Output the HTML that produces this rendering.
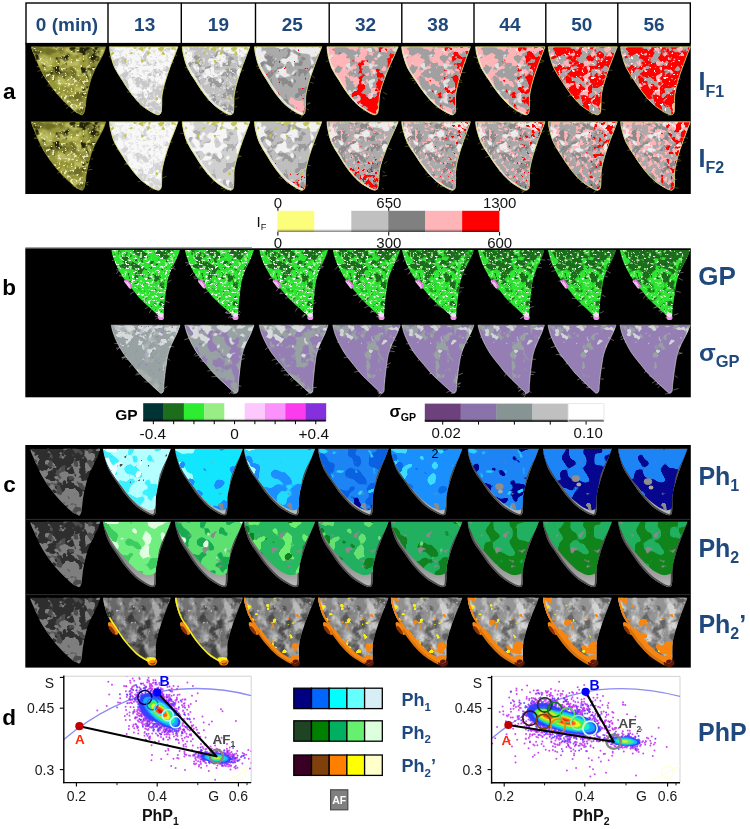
<!DOCTYPE html>
<html lang="en"><head><meta charset="utf-8"><title>Figure</title>
<style>html,body{margin:0;padding:0;background:#fff}svg{display:block}</style></head>
<body>
<svg width="750" height="829" viewBox="0 0 750 829" font-family="'Liberation Sans', Arial, sans-serif">
<defs>
<linearGradient id="sh" x1="0" y1="0" x2="0" y2="1"><stop offset="0" stop-color="#000" stop-opacity="0"/><stop offset="0.86" stop-color="#000" stop-opacity="0"/><stop offset="1" stop-color="#000" stop-opacity="0.5"/></linearGradient>
<path id="s0" d="M0.2 0C0.8 1.5 1 3.1 3.3 8.2C5.5 13.2 8.3 20.9 12.5 28.1C16.8 35.2 21.6 41.7 26.9 48C32.2 54.3 38 59.5 42 62.9C45.9 66.4 47.2 66.2 48.9 67.1C50.6 68 50.6 68.7 51.5 67.9C52.4 67.1 53 66.5 53.8 62.9C54.6 59.3 54.6 54.3 56 48C57.4 41.7 58.7 35.2 61.5 28.1C64.4 20.9 69.3 13.2 71.7 8.2C74.1 3.1 74.2 1.5 74.8 0Z"/><clipPath id="s0c"><use href="#s0"/></clipPath>
<filter id="f1" x="0" y="0" width="1" height="1" color-interpolation-filters="sRGB"><feTurbulence type="fractalNoise" baseFrequency="0.1" numOctaves="2" seed="11"/><feColorMatrix values="0 0 0 0 0 0 0 0 0 0 0 0 0 0 0 1 0 0 0 0" result="n"/><feComposite in="n" in2="SourceAlpha" operator="arithmetic" k1="0" k2="5" k3="0" k4="-2.15" result="m"/><feFlood flood-color="#bcbc5e"/><feComposite operator="in" in2="m"/></filter>
<filter id="f2" x="0" y="0" width="1" height="1" color-interpolation-filters="sRGB"><feTurbulence type="fractalNoise" baseFrequency="0.09" numOctaves="2" seed="5"/><feColorMatrix values="0 0 0 0 0 0 0 0 0 0 0 0 0 0 0 1 0 0 0 0" result="n"/><feComposite in="n" in2="SourceAlpha" operator="arithmetic" k1="0" k2="6" k3="0" k4="-3.16" result="m"/><feFlood flood-color="#6e6e26"/><feComposite operator="in" in2="m"/></filter>
<linearGradient id="g0" x1="0" y1="1" x2="0" y2="0"><stop offset="0.2" stop-color="#fff" stop-opacity="0"/><stop offset="1" stop-color="#fff" stop-opacity="1"/></linearGradient>
<filter id="f3" x="0" y="0" width="1" height="1" color-interpolation-filters="sRGB"><feTurbulence type="fractalNoise" baseFrequency="0.1" numOctaves="3" seed="23"/><feColorMatrix values="0 0 0 0 0 0 0 0 0 0 0 0 0 0 0 1 0 0 0 0" result="n"/><feComposite in="n" in2="SourceAlpha" operator="arithmetic" k1="0" k2="8" k3="1.6" k4="-5.79" result="m"/><feFlood flood-color="#24240a"/><feComposite operator="in" in2="m"/></filter>
<linearGradient id="g1" x1="0" y1="0" x2="0" y2="1"><stop offset="0" stop-color="#fff" stop-opacity="0.2"/><stop offset="0.5" stop-color="#fff" stop-opacity="1"/></linearGradient>
<filter id="f4" x="0" y="0" width="1" height="1" color-interpolation-filters="sRGB"><feTurbulence type="fractalNoise" baseFrequency="0.33" numOctaves="2" seed="37"/><feColorMatrix values="0 0 0 0 0 0 0 0 0 0 0 0 0 0 0 1 0 0 0 0" result="n"/><feComposite in="n" in2="SourceAlpha" operator="arithmetic" k1="0" k2="10" k3="1.5" k4="-7.28" result="m"/><feFlood flood-color="#e6e6b8"/><feComposite operator="in" in2="m"/></filter>
<path id="s1" d="M0 0C0.2 1.4 0.3 4.2 1.3 8C2.2 11.8 3.2 16.4 5.4 21.1C7.6 25.8 10.4 29.5 13.4 34.2C16.4 38.9 18.8 42.9 22.2 47.2C25.5 51.5 28.6 55 32.2 58.3C35.8 61.5 39.5 63.6 42.2 65.3C45 67 45.9 67.1 47.2 67.6C48.5 68.1 48.6 68.2 49.4 67.9C50.2 67.6 51.1 67.4 51.6 65.7C52.2 64 52.1 61.6 52.3 58.3C52.5 54.9 52.1 51.5 52.8 47.2C53.4 42.9 54.6 38.9 56 34.2C57.4 29.5 58.7 25.8 60.4 21.1C62.1 16.4 64 11.8 65.5 8C66.9 4.2 68 1.4 68.6 0Z"/><clipPath id="s1c"><use href="#s1"/></clipPath>
<linearGradient id="g2" x1="0" y1="0" x2="0" y2="1"><stop offset="0.1" stop-color="#fff" stop-opacity="0"/><stop offset="0.8" stop-color="#fff" stop-opacity="1"/></linearGradient>
<filter id="f5" x="0" y="0" width="1" height="1" color-interpolation-filters="sRGB"><feTurbulence type="fractalNoise" baseFrequency="0.1" numOctaves="3" seed="11"/><feColorMatrix values="0 0 0 0 0 0 0 0 0 0 0 0 0 0 0 1 0 0 0 0" result="n"/><feComposite in="n" in2="SourceAlpha" operator="arithmetic" k1="0" k2="18" k3="5.4" k4="-11.75" result="m"/><feFlood flood-color="#c8c8c8"/><feComposite operator="in" in2="m"/></filter>
<filter id="f6" x="0" y="0" width="1" height="1" color-interpolation-filters="sRGB"><feTurbulence type="fractalNoise" baseFrequency="0.3" numOctaves="2" seed="37"/><feColorMatrix values="0 0 0 0 0 0 0 0 0 0 0 0 0 0 0 1 0 0 0 0" result="n"/><feComposite in="n" in2="SourceAlpha" operator="arithmetic" k1="0" k2="10" k3="0" k4="-5.43" result="m"/><feFlood flood-color="#e2e2e2"/><feComposite operator="in" in2="m"/></filter>
<linearGradient id="g3" x1="0" y1="1" x2="0" y2="0"><stop offset="0.55" stop-color="#fff" stop-opacity="0"/><stop offset="1" stop-color="#fff" stop-opacity="1"/></linearGradient>
<filter id="f7" x="0" y="0" width="1" height="1" color-interpolation-filters="sRGB"><feTurbulence type="fractalNoise" baseFrequency="0.16" numOctaves="2" seed="23"/><feColorMatrix values="0 0 0 0 0 0 0 0 0 0 0 0 0 0 0 1 0 0 0 0" result="n"/><feComposite in="n" in2="SourceAlpha" operator="arithmetic" k1="0" k2="12" k3="2.64" k4="-9.43" result="m"/><feFlood flood-color="#c4c45a"/><feComposite operator="in" in2="m"/></filter>
<path id="s2" d="M0 0C0.2 1.4 0.3 4.2 1.3 8C2.2 11.8 3.2 16.4 5.4 21.1C7.6 25.8 10.3 29.5 13.3 34.2C16.3 38.9 18.7 42.9 22 47.2C25.3 51.5 28.3 55 31.9 58.3C35.5 61.5 39.2 63.6 41.8 65.3C44.5 67 45.5 67.1 46.7 67.6C48 68.1 48.1 68.2 48.9 67.9C49.7 67.6 50.6 67.4 51.1 65.7C51.6 64 51.5 61.6 51.7 58.3C51.9 54.9 51.5 51.5 52.1 47.2C52.8 42.9 53.9 38.9 55.3 34.2C56.6 29.5 58 25.8 59.6 21.1C61.3 16.4 63.1 11.8 64.5 8C66 4.2 67 1.4 67.6 0Z"/><clipPath id="s2c"><use href="#s2"/></clipPath>
<path id="s2l" d="M0 0C0.2 1.4 0.3 4.2 1.3 8C2.2 11.8 3.2 16.4 5.4 21.1C7.6 25.8 10.3 29.5 13.3 34.2C16.3 38.9 18.7 42.9 22 47.2C25.3 51.5 28.3 55 31.9 58.3C35.5 61.5 39.2 63.6 41.8 65.3C44.5 67 45.5 67.1 46.7 67.6C48 68.1 48.5 67.8 48.9 67.9"/>
<linearGradient id="g4" x1="0" y1="0" x2="1" y2="1"><stop offset="0" stop-color="#fff" stop-opacity="0"/><stop offset="1" stop-color="#fff" stop-opacity="1"/></linearGradient>
<filter id="f8" x="0" y="0" width="1" height="1" color-interpolation-filters="sRGB"><feTurbulence type="fractalNoise" baseFrequency="0.1" numOctaves="3" seed="11"/><feColorMatrix values="0 0 0 0 0 0 0 0 0 0 0 0 0 0 0 1 0 0 0 0" result="n"/><feComposite in="n" in2="SourceAlpha" operator="arithmetic" k1="0" k2="18" k3="2.16" k4="-10.24" result="m"/><feFlood flood-color="#9a9a9a"/><feComposite operator="in" in2="m"/></filter>
<filter id="f9" x="0" y="0" width="1" height="1" color-interpolation-filters="sRGB"><feTurbulence type="fractalNoise" baseFrequency="0.09" numOctaves="2" seed="23"/><feColorMatrix values="0 0 0 0 0 0 0 0 0 0 0 0 0 0 0 1 0 0 0 0" result="n"/><feComposite in="n" in2="SourceAlpha" operator="arithmetic" k1="0" k2="16" k3="4" k4="-11.12" result="m"/><feFlood flood-color="#f4f4f4"/><feComposite operator="in" in2="m"/></filter>
<filter id="f10" x="0" y="0" width="1" height="1" color-interpolation-filters="sRGB"><feTurbulence type="fractalNoise" baseFrequency="0.3" numOctaves="2" seed="37"/><feColorMatrix values="0 0 0 0 0 0 0 0 0 0 0 0 0 0 0 1 0 0 0 0" result="n"/><feComposite in="n" in2="SourceAlpha" operator="arithmetic" k1="0" k2="10" k3="0" k4="-5.74" result="m"/><feFlood flood-color="#dadada"/><feComposite operator="in" in2="m"/></filter>
<path id="s3" d="M0 0C0.2 1.4 0.3 4.2 1.2 8C2.1 11.8 3.1 16.4 5.2 21.1C7.4 25.8 10.1 29.5 13 34.2C15.9 38.9 18.2 42.9 21.5 47.2C24.8 51.5 27.8 55 31.3 58.3C34.9 61.5 38.5 63.6 41.2 65.3C43.8 67 44.8 67.1 46 67.6C47.3 68.1 47.4 68.2 48.2 67.9C49 67.6 49.9 67.4 50.4 65.7C50.9 64 50.9 61.6 51.1 58.3C51.3 54.9 50.9 51.5 51.6 47.2C52.3 42.9 53.5 38.9 54.8 34.2C56.2 29.5 57.6 25.8 59.3 21.1C61 16.4 62.8 11.8 64.3 8C65.7 4.2 66.8 1.4 67.4 0Z"/><clipPath id="s3c"><use href="#s3"/></clipPath>
<path id="s3l" d="M0 0C0.2 1.4 0.3 4.2 1.2 8C2.1 11.8 3.1 16.4 5.2 21.1C7.4 25.8 10.1 29.5 13 34.2C15.9 38.9 18.2 42.9 21.5 47.2C24.8 51.5 27.8 55 31.3 58.3C34.9 61.5 38.5 63.6 41.2 65.3C43.8 67 44.8 67.1 46 67.6C47.3 68.1 47.8 67.8 48.2 67.9"/>
<filter id="f11" x="0" y="0" width="1" height="1" color-interpolation-filters="sRGB"><feTurbulence type="fractalNoise" baseFrequency="0.1" numOctaves="3" seed="11"/><feColorMatrix values="0 0 0 0 0 0 0 0 0 0 0 0 0 0 0 1 0 0 0 0" result="n"/><feComposite in="n" in2="SourceAlpha" operator="arithmetic" k1="0" k2="18" k3="0" k4="-9.63" result="m"/><feFlood flood-color="#8a8a8a"/><feComposite operator="in" in2="m"/></filter>
<filter id="f12" x="0" y="0" width="1" height="1" color-interpolation-filters="sRGB"><feTurbulence type="fractalNoise" baseFrequency="0.09" numOctaves="2" seed="23"/><feColorMatrix values="0 0 0 0 0 0 0 0 0 0 0 0 0 0 0 1 0 0 0 0" result="n"/><feComposite in="n" in2="SourceAlpha" operator="arithmetic" k1="0" k2="16" k3="4.8" k4="-11.89" result="m"/><feFlood flood-color="#ececec"/><feComposite operator="in" in2="m"/></filter>
<linearGradient id="g5" x1="0" y1="0" x2="0" y2="1"><stop offset="0.55" stop-color="#fff" stop-opacity="0"/><stop offset="1" stop-color="#fff" stop-opacity="1"/></linearGradient>
<filter id="f13" x="0" y="0" width="1" height="1" color-interpolation-filters="sRGB"><feTurbulence type="fractalNoise" baseFrequency="0.1" numOctaves="2" seed="37"/><feColorMatrix values="0 0 0 0 0 0 0 0 0 0 0 0 0 0 0 1 0 0 0 0" result="n"/><feComposite in="n" in2="SourceAlpha" operator="arithmetic" k1="0" k2="16" k3="9.6" k4="-14.46" result="m"/><feFlood flood-color="#ffb4b8"/><feComposite operator="in" in2="m"/></filter>
<filter id="f14" x="0" y="0" width="1" height="1" color-interpolation-filters="sRGB"><feTurbulence type="fractalNoise" baseFrequency="0.3" numOctaves="2" seed="8"/><feColorMatrix values="0 0 0 0 0 0 0 0 0 0 0 0 0 0 0 1 0 0 0 0" result="n"/><feComposite in="n" in2="SourceAlpha" operator="arithmetic" k1="0" k2="16" k3="0" k4="-11.83" result="m"/><feFlood flood-color="#ff0000"/><feComposite operator="in" in2="m"/></filter>
<path id="s4" d="M0 0C0.2 1.4 0.1 4.2 1 8C1.8 11.8 2.7 16.4 4.7 21.1C6.8 25.8 9.5 29.5 12.5 34.2C15.4 38.9 17.7 42.9 21 47.2C24.3 51.5 27.3 55 30.9 58.3C34.5 61.5 38.3 63.6 41.1 65.3C43.8 67 44.8 67.1 46.1 67.6C47.5 68.1 47.6 68.2 48.4 67.9C49.2 67.6 50.2 67.4 50.8 65.7C51.4 64 51.4 61.6 51.8 58.3C52.1 54.9 51.9 51.5 52.8 47.2C53.6 42.9 55 38.9 56.7 34.2C58.3 29.5 59.9 25.8 61.8 21.1C63.8 16.4 65.9 11.8 67.6 8C69.3 4.2 70.6 1.4 71.2 0Z"/><clipPath id="s4c"><use href="#s4"/></clipPath>
<path id="s4l" d="M0 0C0.2 1.4 0.1 4.2 1 8C1.8 11.8 2.7 16.4 4.7 21.1C6.8 25.8 9.5 29.5 12.5 34.2C15.4 38.9 17.7 42.9 21 47.2C24.3 51.5 27.3 55 30.9 58.3C34.5 61.5 38.3 63.6 41.1 65.3C43.8 67 44.8 67.1 46.1 67.6C47.5 68.1 48 67.8 48.4 67.9"/>
<linearGradient id="g6" x1="1" y1="0" x2="0" y2="0"><stop offset="0" stop-color="#fff" stop-opacity="0"/><stop offset="1" stop-color="#fff" stop-opacity="1"/></linearGradient>
<filter id="f15" x="0" y="0" width="1" height="1" color-interpolation-filters="sRGB"><feTurbulence type="fractalNoise" baseFrequency="0.1" numOctaves="3" seed="11"/><feColorMatrix values="0 0 0 0 0 0 0 0 0 0 0 0 0 0 0 1 0 0 0 0" result="n"/><feComposite in="n" in2="SourceAlpha" operator="arithmetic" k1="0" k2="18" k3="4.5" k4="-11.52" result="m"/><feFlood flood-color="#ffb4b8"/><feComposite operator="in" in2="m"/></filter>
<filter id="f16" x="0" y="0" width="1" height="1" color-interpolation-filters="sRGB"><feTurbulence type="fractalNoise" baseFrequency="0.12" numOctaves="2" seed="23"/><feColorMatrix values="0 0 0 0 0 0 0 0 0 0 0 0 0 0 0 1 0 0 0 0" result="n"/><feComposite in="n" in2="SourceAlpha" operator="arithmetic" k1="0" k2="14" k3="0" k4="-8.86" result="m"/><feFlood flood-color="#e0e0e0"/><feComposite operator="in" in2="m"/></filter>
<linearGradient id="g7" x1="0" y1="0" x2="1" y2="1"><stop offset="0.2" stop-color="#fff" stop-opacity="0"/><stop offset="0.9" stop-color="#fff" stop-opacity="1"/></linearGradient>
<filter id="f17" x="0" y="0" width="1" height="1" color-interpolation-filters="sRGB"><feTurbulence type="fractalNoise" baseFrequency="0.1" numOctaves="3" seed="37"/><feColorMatrix values="0 0 0 0 0 0 0 0 0 0 0 0 0 0 0 1 0 0 0 0" result="n"/><feComposite in="n" in2="SourceAlpha" operator="arithmetic" k1="0" k2="18" k3="9" k4="-14.32" result="m"/><feFlood flood-color="#ff0000"/><feComposite operator="in" in2="m"/></filter>
<path id="s5" d="M0 0C0.3 1.4 0.4 4.2 1.5 8C2.6 11.8 3.7 16.4 6 21.1C8.3 25.8 11.2 29.5 14.4 34.2C17.5 38.9 20 42.9 23.5 47.2C27 51.5 30.1 55 33.9 58.3C37.6 61.5 41.4 63.6 44.2 65.3C46.9 67 47.9 67.1 49.2 67.6C50.5 68.1 50.6 68.2 51.4 67.9C52.2 67.6 53.1 67.4 53.6 65.7C54.1 64 53.9 61.6 54 58.3C54.1 54.9 53.7 51.5 54.2 47.2C54.8 42.9 55.8 38.9 57.1 34.2C58.3 29.5 59.6 25.8 61.2 21.1C62.8 16.4 64.5 11.8 65.9 8C67.2 4.2 68.3 1.4 68.8 0Z"/><clipPath id="s5c"><use href="#s5"/></clipPath>
<path id="s5l" d="M0 0C0.3 1.4 0.4 4.2 1.5 8C2.6 11.8 3.7 16.4 6 21.1C8.3 25.8 11.2 29.5 14.4 34.2C17.5 38.9 20 42.9 23.5 47.2C27 51.5 30.1 55 33.9 58.3C37.6 61.5 41.4 63.6 44.2 65.3C46.9 67 47.9 67.1 49.2 67.6C50.5 68.1 51 67.8 51.4 67.9"/>
<linearGradient id="g8" x1="1" y1="1" x2="0" y2="0"><stop offset="0" stop-color="#fff" stop-opacity="0"/><stop offset="1" stop-color="#fff" stop-opacity="1"/></linearGradient>
<filter id="f18" x="0" y="0" width="1" height="1" color-interpolation-filters="sRGB"><feTurbulence type="fractalNoise" baseFrequency="0.1" numOctaves="3" seed="11"/><feColorMatrix values="0 0 0 0 0 0 0 0 0 0 0 0 0 0 0 1 0 0 0 0" result="n"/><feComposite in="n" in2="SourceAlpha" operator="arithmetic" k1="0" k2="18" k3="3.6" k4="-11.56" result="m"/><feFlood flood-color="#ffb4b8"/><feComposite operator="in" in2="m"/></filter>
<linearGradient id="g9" x1="0" y1="0" x2="1" y2="0"><stop offset="0.3" stop-color="#fff" stop-opacity="0"/><stop offset="1" stop-color="#fff" stop-opacity="1"/></linearGradient>
<filter id="f19" x="0" y="0" width="1" height="1" color-interpolation-filters="sRGB"><feTurbulence type="fractalNoise" baseFrequency="0.12" numOctaves="3" seed="37"/><feColorMatrix values="0 0 0 0 0 0 0 0 0 0 0 0 0 0 0 1 0 0 0 0" result="n"/><feComposite in="n" in2="SourceAlpha" operator="arithmetic" k1="0" k2="18" k3="8.1" k4="-15.32" result="m"/><feFlood flood-color="#ff0000"/><feComposite operator="in" in2="m"/></filter>
<path id="s6" d="M0 0C0.3 1.4 0.4 4.2 1.4 8C2.5 11.8 3.6 16.4 5.9 21.1C8.1 25.8 11 29.5 14.2 34.2C17.3 38.9 19.8 42.9 23.3 47.2C26.8 51.5 29.9 55 33.6 58.3C37.3 61.5 41.1 63.6 43.9 65.3C46.7 67 47.7 67.1 49 67.6C50.3 68.1 50.4 68.2 51.2 67.9C52 67.6 52.9 67.4 53.4 65.7C53.9 64 53.8 61.6 53.9 58.3C54.1 54.9 53.7 51.5 54.3 47.2C54.9 42.9 56 38.9 57.3 34.2C58.6 29.5 59.9 25.8 61.6 21.1C63.2 16.4 65 11.8 66.5 8C67.9 4.2 69 1.4 69.5 0Z"/><clipPath id="s6c"><use href="#s6"/></clipPath>
<path id="s6l" d="M0 0C0.3 1.4 0.4 4.2 1.4 8C2.5 11.8 3.6 16.4 5.9 21.1C8.1 25.8 11 29.5 14.2 34.2C17.3 38.9 19.8 42.9 23.3 47.2C26.8 51.5 29.9 55 33.6 58.3C37.3 61.5 41.1 63.6 43.9 65.3C46.7 67 47.7 67.1 49 67.6C50.3 68.1 50.8 67.8 51.2 67.9"/>
<filter id="f20" x="0" y="0" width="1" height="1" color-interpolation-filters="sRGB"><feTurbulence type="fractalNoise" baseFrequency="0.1" numOctaves="3" seed="11"/><feColorMatrix values="0 0 0 0 0 0 0 0 0 0 0 0 0 0 0 1 0 0 0 0" result="n"/><feComposite in="n" in2="SourceAlpha" operator="arithmetic" k1="0" k2="18" k3="3.6" k4="-11.43" result="m"/><feFlood flood-color="#ffb4b8"/><feComposite operator="in" in2="m"/></filter>
<filter id="f21" x="0" y="0" width="1" height="1" color-interpolation-filters="sRGB"><feTurbulence type="fractalNoise" baseFrequency="0.12" numOctaves="2" seed="23"/><feColorMatrix values="0 0 0 0 0 0 0 0 0 0 0 0 0 0 0 1 0 0 0 0" result="n"/><feComposite in="n" in2="SourceAlpha" operator="arithmetic" k1="0" k2="14" k3="0" k4="-8.98" result="m"/><feFlood flood-color="#e0e0e0"/><feComposite operator="in" in2="m"/></filter>
<filter id="f22" x="0" y="0" width="1" height="1" color-interpolation-filters="sRGB"><feTurbulence type="fractalNoise" baseFrequency="0.12" numOctaves="3" seed="37"/><feColorMatrix values="0 0 0 0 0 0 0 0 0 0 0 0 0 0 0 1 0 0 0 0" result="n"/><feComposite in="n" in2="SourceAlpha" operator="arithmetic" k1="0" k2="18" k3="9" k4="-15.06" result="m"/><feFlood flood-color="#ff0000"/><feComposite operator="in" in2="m"/></filter>
<path id="s7" d="M0 0C0.2 1.4 0.3 4.2 1.3 8C2.3 11.8 3.3 16.4 5.5 21.1C7.7 25.8 10.5 29.5 13.5 34.2C16.6 38.9 19 42.9 22.4 47.2C25.8 51.5 28.8 55 32.5 58.3C36.1 61.5 39.9 63.6 42.6 65.3C45.3 67 46.3 67.1 47.6 67.6C48.9 68.1 49 68.2 49.8 67.9C50.6 67.6 51.5 67.4 52 65.7C52.6 64 52.5 61.6 52.7 58.3C52.9 54.9 52.5 51.5 53.2 47.2C53.8 42.9 55 38.9 56.4 34.2C57.8 29.5 59.1 25.8 60.8 21.1C62.5 16.4 64.4 11.8 65.9 8C67.3 4.2 68.4 1.4 69 0Z"/><clipPath id="s7c"><use href="#s7"/></clipPath>
<filter id="f23" x="0" y="0" width="1" height="1" color-interpolation-filters="sRGB"><feTurbulence type="fractalNoise" baseFrequency="0.1" numOctaves="3" seed="11"/><feColorMatrix values="0 0 0 0 0 0 0 0 0 0 0 0 0 0 0 1 0 0 0 0" result="n"/><feComposite in="n" in2="SourceAlpha" operator="arithmetic" k1="0" k2="18" k3="0" k4="-9.27" result="m"/><feFlood flood-color="#a6a6a6"/><feComposite operator="in" in2="m"/></filter>
<filter id="f24" x="0" y="0" width="1" height="1" color-interpolation-filters="sRGB"><feTurbulence type="fractalNoise" baseFrequency="0.14" numOctaves="2" seed="23"/><feColorMatrix values="0 0 0 0 0 0 0 0 0 0 0 0 0 0 0 1 0 0 0 0" result="n"/><feComposite in="n" in2="SourceAlpha" operator="arithmetic" k1="0" k2="14" k3="0" k4="-8.17" result="m"/><feFlood flood-color="#ffb4b8"/><feComposite operator="in" in2="m"/></filter>
<filter id="f25" x="0" y="0" width="1" height="1" color-interpolation-filters="sRGB"><feTurbulence type="fractalNoise" baseFrequency="0.3" numOctaves="2" seed="9"/><feColorMatrix values="0 0 0 0 0 0 0 0 0 0 0 0 0 0 0 1 0 0 0 0" result="n"/><feComposite in="n" in2="SourceAlpha" operator="arithmetic" k1="0" k2="14" k3="0" k4="-9.44" result="m"/><feFlood flood-color="#ffffff"/><feComposite operator="in" in2="m"/></filter>
<path id="s8" d="M0 0C0.3 1.4 0.3 4.2 1.4 8C2.4 11.8 3.5 16.4 5.8 21.1C8.1 25.8 11 29.5 14.1 34.2C17.2 38.9 19.7 42.9 23.2 47.2C26.7 51.5 29.8 55 33.6 58.3C37.3 61.5 41.1 63.6 43.9 65.3C46.7 67 47.7 67.1 49 67.6C50.3 68.1 50.4 68.2 51.2 67.9C52 67.6 52.9 67.4 53.4 65.7C53.9 64 53.8 61.6 54 58.3C54.1 54.9 53.7 51.5 54.3 47.2C54.9 42.9 56.1 38.9 57.4 34.2C58.7 29.5 60 25.8 61.7 21.1C63.4 16.4 65.2 11.8 66.6 8C68.1 4.2 69.1 1.4 69.7 0Z"/><clipPath id="s8c"><use href="#s8"/></clipPath>
<linearGradient id="g10" x1="1" y1="0" x2="0" y2="0"><stop offset="0.1" stop-color="#fff" stop-opacity="0"/><stop offset="0.9" stop-color="#fff" stop-opacity="1"/></linearGradient>
<filter id="f26" x="0" y="0" width="1" height="1" color-interpolation-filters="sRGB"><feTurbulence type="fractalNoise" baseFrequency="0.1" numOctaves="3" seed="11"/><feColorMatrix values="0 0 0 0 0 0 0 0 0 0 0 0 0 0 0 1 0 0 0 0" result="n"/><feComposite in="n" in2="SourceAlpha" operator="arithmetic" k1="0" k2="18" k3="2.16" k4="-10.71" result="m"/><feFlood flood-color="#a6a6a6"/><feComposite operator="in" in2="m"/></filter>
<filter id="f27" x="0" y="0" width="1" height="1" color-interpolation-filters="sRGB"><feTurbulence type="fractalNoise" baseFrequency="0.14" numOctaves="2" seed="23"/><feColorMatrix values="0 0 0 0 0 0 0 0 0 0 0 0 0 0 0 1 0 0 0 0" result="n"/><feComposite in="n" in2="SourceAlpha" operator="arithmetic" k1="0" k2="14" k3="0" k4="-8.65" result="m"/><feFlood flood-color="#ffb4b8"/><feComposite operator="in" in2="m"/></filter>
<path id="s9" d="M0.2 0C0.8 1.5 1 3.1 3.3 8.2C5.5 13.3 8.3 21 12.5 28.2C16.8 35.5 21.6 42 26.9 48.3C32.2 54.6 38 59.8 42 63.3C45.9 66.8 47.2 66.6 48.9 67.5C50.6 68.4 50.6 69.1 51.5 68.3C52.4 67.5 53 66.9 53.8 63.3C54.6 59.7 54.6 54.6 56 48.3C57.4 42 58.7 35.5 61.5 28.2C64.4 21 69.3 13.3 71.7 8.2C74.1 3.1 74.2 1.5 74.8 0Z"/><clipPath id="s9c"><use href="#s9"/></clipPath>
<path id="s10" d="M0 0C0.2 1.5 0.3 4.3 1.3 8.1C2.2 11.9 3.2 16.5 5.4 21.2C7.6 25.9 10.4 29.6 13.4 34.4C16.4 39.1 18.8 43.1 22.2 47.5C25.5 51.9 28.6 55.3 32.2 58.6C35.8 61.9 39.5 64 42.2 65.7C45 67.4 45.9 67.5 47.2 68C48.5 68.5 48.6 68.6 49.4 68.3C50.2 68 51.1 67.8 51.6 66.1C52.2 64.3 52.1 61.9 52.3 58.6C52.5 55.3 52.1 51.9 52.8 47.5C53.4 43.1 54.6 39.1 56 34.4C57.4 29.6 58.7 25.9 60.4 21.2C62.1 16.5 64 11.9 65.5 8.1C66.9 4.3 68 1.5 68.6 0Z"/><clipPath id="s10c"><use href="#s10"/></clipPath>
<filter id="f28" x="0" y="0" width="1" height="1" color-interpolation-filters="sRGB"><feTurbulence type="fractalNoise" baseFrequency="0.1" numOctaves="3" seed="11"/><feColorMatrix values="0 0 0 0 0 0 0 0 0 0 0 0 0 0 0 1 0 0 0 0" result="n"/><feComposite in="n" in2="SourceAlpha" operator="arithmetic" k1="0" k2="16" k3="4" k4="-10.62" result="m"/><feFlood flood-color="#d4d4d4"/><feComposite operator="in" in2="m"/></filter>
<filter id="f29" x="0" y="0" width="1" height="1" color-interpolation-filters="sRGB"><feTurbulence type="fractalNoise" baseFrequency="0.3" numOctaves="2" seed="37"/><feColorMatrix values="0 0 0 0 0 0 0 0 0 0 0 0 0 0 0 1 0 0 0 0" result="n"/><feComposite in="n" in2="SourceAlpha" operator="arithmetic" k1="0" k2="10" k3="0" k4="-5.43" result="m"/><feFlood flood-color="#e8e8e8"/><feComposite operator="in" in2="m"/></filter>
<path id="s11" d="M0 0C0.2 1.5 0.3 4.3 1.3 8.1C2.2 11.9 3.2 16.5 5.4 21.2C7.6 25.9 10.3 29.6 13.3 34.4C16.3 39.1 18.7 43.1 22 47.5C25.3 51.9 28.3 55.3 31.9 58.6C35.5 61.9 39.2 64 41.8 65.7C44.5 67.4 45.5 67.5 46.7 68C48 68.5 48.1 68.6 48.9 68.3C49.7 68 50.6 67.8 51.1 66.1C51.6 64.3 51.5 61.9 51.7 58.6C51.9 55.3 51.5 51.9 52.1 47.5C52.8 43.1 53.9 39.1 55.3 34.4C56.6 29.6 58 25.9 59.6 21.2C61.3 16.5 63.1 11.9 64.5 8.1C66 4.3 67 1.5 67.6 0Z"/><clipPath id="s11c"><use href="#s11"/></clipPath>
<path id="s11l" d="M0 0C0.2 1.5 0.3 4.3 1.3 8.1C2.2 11.9 3.2 16.5 5.4 21.2C7.6 25.9 10.3 29.6 13.3 34.4C16.3 39.1 18.7 43.1 22 47.5C25.3 51.9 28.3 55.3 31.9 58.6C35.5 61.9 39.2 64 41.8 65.7C44.5 67.4 45.5 67.5 46.7 68C48 68.5 48.5 68.2 48.9 68.3"/>
<filter id="f30" x="0" y="0" width="1" height="1" color-interpolation-filters="sRGB"><feTurbulence type="fractalNoise" baseFrequency="0.1" numOctaves="3" seed="11"/><feColorMatrix values="0 0 0 0 0 0 0 0 0 0 0 0 0 0 0 1 0 0 0 0" result="n"/><feComposite in="n" in2="SourceAlpha" operator="arithmetic" k1="0" k2="16" k3="0" k4="-8.51" result="m"/><feFlood flood-color="#aeaeae"/><feComposite operator="in" in2="m"/></filter>
<filter id="f31" x="0" y="0" width="1" height="1" color-interpolation-filters="sRGB"><feTurbulence type="fractalNoise" baseFrequency="0.09" numOctaves="2" seed="23"/><feColorMatrix values="0 0 0 0 0 0 0 0 0 0 0 0 0 0 0 1 0 0 0 0" result="n"/><feComposite in="n" in2="SourceAlpha" operator="arithmetic" k1="0" k2="16" k3="3.52" k4="-10.16" result="m"/><feFlood flood-color="#f6f6f6"/><feComposite operator="in" in2="m"/></filter>
<path id="s12" d="M0 0C0.2 1.5 0.3 4.3 1.2 8.1C2.1 11.9 3.1 16.5 5.2 21.2C7.4 25.9 10.1 29.6 13 34.4C15.9 39.1 18.2 43.1 21.5 47.5C24.8 51.9 27.8 55.3 31.3 58.6C34.9 61.9 38.5 64 41.2 65.7C43.8 67.4 44.8 67.5 46 68C47.3 68.5 47.4 68.6 48.2 68.3C49 68 49.9 67.8 50.4 66.1C50.9 64.3 50.9 61.9 51.1 58.6C51.3 55.3 50.9 51.9 51.6 47.5C52.3 43.1 53.5 39.1 54.8 34.4C56.2 29.6 57.6 25.9 59.3 21.2C61 16.5 62.8 11.9 64.3 8.1C65.7 4.3 66.8 1.5 67.4 0Z"/><clipPath id="s12c"><use href="#s12"/></clipPath>
<path id="s12l" d="M0 0C0.2 1.5 0.3 4.3 1.2 8.1C2.1 11.9 3.1 16.5 5.2 21.2C7.4 25.9 10.1 29.6 13 34.4C15.9 39.1 18.2 43.1 21.5 47.5C24.8 51.9 27.8 55.3 31.3 58.6C34.9 61.9 38.5 64 41.2 65.7C43.8 67.4 44.8 67.5 46 68C47.3 68.5 47.8 68.2 48.2 68.3"/>
<filter id="f32" x="0" y="0" width="1" height="1" color-interpolation-filters="sRGB"><feTurbulence type="fractalNoise" baseFrequency="0.1" numOctaves="3" seed="11"/><feColorMatrix values="0 0 0 0 0 0 0 0 0 0 0 0 0 0 0 1 0 0 0 0" result="n"/><feComposite in="n" in2="SourceAlpha" operator="arithmetic" k1="0" k2="16" k3="0" k4="-8.4" result="m"/><feFlood flood-color="#9a9a9a"/><feComposite operator="in" in2="m"/></filter>
<filter id="f33" x="0" y="0" width="1" height="1" color-interpolation-filters="sRGB"><feTurbulence type="fractalNoise" baseFrequency="0.09" numOctaves="2" seed="23"/><feColorMatrix values="0 0 0 0 0 0 0 0 0 0 0 0 0 0 0 1 0 0 0 0" result="n"/><feComposite in="n" in2="SourceAlpha" operator="arithmetic" k1="0" k2="16" k3="3.52" k4="-10.88" result="m"/><feFlood flood-color="#f2f2f2"/><feComposite operator="in" in2="m"/></filter>
<linearGradient id="g11" x1="0" y1="0" x2="0" y2="1"><stop offset="0.5" stop-color="#fff" stop-opacity="0"/><stop offset="1" stop-color="#fff" stop-opacity="1"/></linearGradient>
<filter id="f34" x="0" y="0" width="1" height="1" color-interpolation-filters="sRGB"><feTurbulence type="fractalNoise" baseFrequency="0.35" numOctaves="2" seed="8"/><feColorMatrix values="0 0 0 0 0 0 0 0 0 0 0 0 0 0 0 1 0 0 0 0" result="n"/><feComposite in="n" in2="SourceAlpha" operator="arithmetic" k1="0" k2="16" k3="6.4" k4="-14.31" result="m"/><feFlood flood-color="#ff0000"/><feComposite operator="in" in2="m"/></filter>
<path id="s13" d="M0 0C0.2 1.5 0.1 4.3 1 8.1C1.8 11.9 2.7 16.5 4.7 21.2C6.8 25.9 9.5 29.6 12.5 34.4C15.4 39.1 17.7 43.1 21 47.5C24.3 51.9 27.3 55.3 30.9 58.6C34.5 61.9 38.3 64 41.1 65.7C43.8 67.4 44.8 67.5 46.1 68C47.5 68.5 47.6 68.6 48.4 68.3C49.2 68 50.2 67.8 50.8 66.1C51.4 64.3 51.4 61.9 51.8 58.6C52.1 55.3 51.9 51.9 52.8 47.5C53.6 43.1 55 39.1 56.7 34.4C58.3 29.6 59.9 25.9 61.8 21.2C63.8 16.5 65.9 11.9 67.6 8.1C69.3 4.3 70.6 1.5 71.2 0Z"/><clipPath id="s13c"><use href="#s13"/></clipPath>
<path id="s13l" d="M0 0C0.2 1.5 0.1 4.3 1 8.1C1.8 11.9 2.7 16.5 4.7 21.2C6.8 25.9 9.5 29.6 12.5 34.4C15.4 39.1 17.7 43.1 21 47.5C24.3 51.9 27.3 55.3 30.9 58.6C34.5 61.9 38.3 64 41.1 65.7C43.8 67.4 44.8 67.5 46.1 68C47.5 68.5 48 68.2 48.4 68.3"/>
<filter id="f35" x="0" y="0" width="1" height="1" color-interpolation-filters="sRGB"><feTurbulence type="fractalNoise" baseFrequency="0.1" numOctaves="3" seed="11"/><feColorMatrix values="0 0 0 0 0 0 0 0 0 0 0 0 0 0 0 1 0 0 0 0" result="n"/><feComposite in="n" in2="SourceAlpha" operator="arithmetic" k1="0" k2="16" k3="0" k4="-8.4" result="m"/><feFlood flood-color="#8a8a8a"/><feComposite operator="in" in2="m"/></filter>
<filter id="f36" x="0" y="0" width="1" height="1" color-interpolation-filters="sRGB"><feTurbulence type="fractalNoise" baseFrequency="0.09" numOctaves="2" seed="23"/><feColorMatrix values="0 0 0 0 0 0 0 0 0 0 0 0 0 0 0 1 0 0 0 0" result="n"/><feComposite in="n" in2="SourceAlpha" operator="arithmetic" k1="0" k2="16" k3="3.2" k4="-11.17" result="m"/><feFlood flood-color="#ececec"/><feComposite operator="in" in2="m"/></filter>
<filter id="f37" x="0" y="0" width="1" height="1" color-interpolation-filters="sRGB"><feTurbulence type="fractalNoise" baseFrequency="0.3" numOctaves="2" seed="6"/><feColorMatrix values="0 0 0 0 0 0 0 0 0 0 0 0 0 0 0 1 0 0 0 0" result="n"/><feComposite in="n" in2="SourceAlpha" operator="arithmetic" k1="0" k2="12" k3="0" k4="-7.35" result="m"/><feFlood flood-color="#ffb4b8"/><feComposite operator="in" in2="m"/></filter>
<linearGradient id="g12" x1="0" y1="0" x2="0" y2="1"><stop offset="0.3" stop-color="#fff" stop-opacity="0"/><stop offset="1" stop-color="#fff" stop-opacity="1"/></linearGradient>
<filter id="f38" x="0" y="0" width="1" height="1" color-interpolation-filters="sRGB"><feTurbulence type="fractalNoise" baseFrequency="0.3" numOctaves="2" seed="37"/><feColorMatrix values="0 0 0 0 0 0 0 0 0 0 0 0 0 0 0 1 0 0 0 0" result="n"/><feComposite in="n" in2="SourceAlpha" operator="arithmetic" k1="0" k2="16" k3="8" k4="-13.96" result="m"/><feFlood flood-color="#ff0000"/><feComposite operator="in" in2="m"/></filter>
<path id="s14" d="M0 0C0.3 1.5 0.4 4.3 1.5 8.1C2.6 11.9 3.7 16.5 6 21.2C8.3 25.9 11.2 29.6 14.4 34.4C17.5 39.1 20 43.1 23.5 47.5C27 51.9 30.1 55.3 33.9 58.6C37.6 61.9 41.4 64 44.2 65.7C46.9 67.4 47.9 67.5 49.2 68C50.5 68.5 50.6 68.6 51.4 68.3C52.2 68 53.1 67.8 53.6 66.1C54.1 64.3 53.9 61.9 54 58.6C54.1 55.3 53.7 51.9 54.2 47.5C54.8 43.1 55.8 39.1 57.1 34.4C58.3 29.6 59.6 25.9 61.2 21.2C62.8 16.5 64.5 11.9 65.9 8.1C67.2 4.3 68.3 1.5 68.8 0Z"/><clipPath id="s14c"><use href="#s14"/></clipPath>
<path id="s14l" d="M0 0C0.3 1.5 0.4 4.3 1.5 8.1C2.6 11.9 3.7 16.5 6 21.2C8.3 25.9 11.2 29.6 14.4 34.4C17.5 39.1 20 43.1 23.5 47.5C27 51.9 30.1 55.3 33.9 58.6C37.6 61.9 41.4 64 44.2 65.7C46.9 67.4 47.9 67.5 49.2 68C50.5 68.5 51 68.2 51.4 68.3"/>
<filter id="f39" x="0" y="0" width="1" height="1" color-interpolation-filters="sRGB"><feTurbulence type="fractalNoise" baseFrequency="0.3" numOctaves="2" seed="6"/><feColorMatrix values="0 0 0 0 0 0 0 0 0 0 0 0 0 0 0 1 0 0 0 0" result="n"/><feComposite in="n" in2="SourceAlpha" operator="arithmetic" k1="0" k2="12" k3="0" k4="-6.99" result="m"/><feFlood flood-color="#ffb4b8"/><feComposite operator="in" in2="m"/></filter>
<filter id="f40" x="0" y="0" width="1" height="1" color-interpolation-filters="sRGB"><feTurbulence type="fractalNoise" baseFrequency="0.3" numOctaves="2" seed="37"/><feColorMatrix values="0 0 0 0 0 0 0 0 0 0 0 0 0 0 0 1 0 0 0 0" result="n"/><feComposite in="n" in2="SourceAlpha" operator="arithmetic" k1="0" k2="16" k3="6.4" k4="-14.73" result="m"/><feFlood flood-color="#ff0000"/><feComposite operator="in" in2="m"/></filter>
<path id="s15" d="M0 0C0.3 1.5 0.4 4.3 1.4 8.1C2.5 11.9 3.6 16.5 5.9 21.2C8.1 25.9 11 29.6 14.2 34.4C17.3 39.1 19.8 43.1 23.3 47.5C26.8 51.9 29.9 55.3 33.6 58.6C37.3 61.9 41.1 64 43.9 65.7C46.7 67.4 47.7 67.5 49 68C50.3 68.5 50.4 68.6 51.2 68.3C52 68 52.9 67.8 53.4 66.1C53.9 64.3 53.8 61.9 53.9 58.6C54.1 55.3 53.7 51.9 54.3 47.5C54.9 43.1 56 39.1 57.3 34.4C58.6 29.6 59.9 25.9 61.6 21.2C63.2 16.5 65 11.9 66.5 8.1C67.9 4.3 69 1.5 69.5 0Z"/><clipPath id="s15c"><use href="#s15"/></clipPath>
<path id="s15l" d="M0 0C0.3 1.5 0.4 4.3 1.4 8.1C2.5 11.9 3.6 16.5 5.9 21.2C8.1 25.9 11 29.6 14.2 34.4C17.3 39.1 19.8 43.1 23.3 47.5C26.8 51.9 29.9 55.3 33.6 58.6C37.3 61.9 41.1 64 43.9 65.7C46.7 67.4 47.7 67.5 49 68C50.3 68.5 50.8 68.2 51.2 68.3"/>
<filter id="f41" x="0" y="0" width="1" height="1" color-interpolation-filters="sRGB"><feTurbulence type="fractalNoise" baseFrequency="0.3" numOctaves="2" seed="6"/><feColorMatrix values="0 0 0 0 0 0 0 0 0 0 0 0 0 0 0 1 0 0 0 0" result="n"/><feComposite in="n" in2="SourceAlpha" operator="arithmetic" k1="0" k2="12" k3="0" k4="-6.87" result="m"/><feFlood flood-color="#ffb4b8"/><feComposite operator="in" in2="m"/></filter>
<filter id="f42" x="0" y="0" width="1" height="1" color-interpolation-filters="sRGB"><feTurbulence type="fractalNoise" baseFrequency="0.3" numOctaves="2" seed="37"/><feColorMatrix values="0 0 0 0 0 0 0 0 0 0 0 0 0 0 0 1 0 0 0 0" result="n"/><feComposite in="n" in2="SourceAlpha" operator="arithmetic" k1="0" k2="16" k3="7.2" k4="-14.71" result="m"/><feFlood flood-color="#ff0000"/><feComposite operator="in" in2="m"/></filter>
<path id="s16" d="M0 0C0.2 1.5 0.3 4.3 1.3 8.1C2.3 11.9 3.3 16.5 5.5 21.2C7.7 25.9 10.5 29.6 13.5 34.4C16.6 39.1 19 43.1 22.4 47.5C25.8 51.9 28.8 55.3 32.5 58.6C36.1 61.9 39.9 64 42.6 65.7C45.3 67.4 46.3 67.5 47.6 68C48.9 68.5 49 68.6 49.8 68.3C50.6 68 51.5 67.8 52 66.1C52.6 64.3 52.5 61.9 52.7 58.6C52.9 55.3 52.5 51.9 53.2 47.5C53.8 43.1 55 39.1 56.4 34.4C57.8 29.6 59.1 25.9 60.8 21.2C62.5 16.5 64.4 11.9 65.9 8.1C67.3 4.3 68.4 1.5 69 0Z"/><clipPath id="s16c"><use href="#s16"/></clipPath>
<filter id="f43" x="0" y="0" width="1" height="1" color-interpolation-filters="sRGB"><feTurbulence type="fractalNoise" baseFrequency="0.25" numOctaves="2" seed="6"/><feColorMatrix values="0 0 0 0 0 0 0 0 0 0 0 0 0 0 0 1 0 0 0 0" result="n"/><feComposite in="n" in2="SourceAlpha" operator="arithmetic" k1="0" k2="12" k3="0" k4="-6.61" result="m"/><feFlood flood-color="#ffb4b8"/><feComposite operator="in" in2="m"/></filter>
<filter id="f44" x="0" y="0" width="1" height="1" color-interpolation-filters="sRGB"><feTurbulence type="fractalNoise" baseFrequency="0.22" numOctaves="2" seed="37"/><feColorMatrix values="0 0 0 0 0 0 0 0 0 0 0 0 0 0 0 1 0 0 0 0" result="n"/><feComposite in="n" in2="SourceAlpha" operator="arithmetic" k1="0" k2="16" k3="7.2" k4="-13.93" result="m"/><feFlood flood-color="#ff0000"/><feComposite operator="in" in2="m"/></filter>
<path id="s17" d="M0 0C0.3 1.5 0.3 4.3 1.4 8.1C2.4 11.9 3.5 16.5 5.8 21.2C8.1 25.9 11 29.6 14.1 34.4C17.2 39.1 19.7 43.1 23.2 47.5C26.7 51.9 29.8 55.3 33.6 58.6C37.3 61.9 41.1 64 43.9 65.7C46.7 67.4 47.7 67.5 49 68C50.3 68.5 50.4 68.6 51.2 68.3C52 68 52.9 67.8 53.4 66.1C53.9 64.3 53.8 61.9 54 58.6C54.1 55.3 53.7 51.9 54.3 47.5C54.9 43.1 56.1 39.1 57.4 34.4C58.7 29.6 60 25.9 61.7 21.2C63.4 16.5 65.2 11.9 66.6 8.1C68.1 4.3 69.1 1.5 69.7 0Z"/><clipPath id="s17c"><use href="#s17"/></clipPath>
<filter id="f45" x="0" y="0" width="1" height="1" color-interpolation-filters="sRGB"><feTurbulence type="fractalNoise" baseFrequency="0.25" numOctaves="2" seed="6"/><feColorMatrix values="0 0 0 0 0 0 0 0 0 0 0 0 0 0 0 1 0 0 0 0" result="n"/><feComposite in="n" in2="SourceAlpha" operator="arithmetic" k1="0" k2="12" k3="0" k4="-6.26" result="m"/><feFlood flood-color="#ffb4b8"/><feComposite operator="in" in2="m"/></filter>
<linearGradient id="g13" x1="0" y1="0" x2="1" y2="0"><stop offset="0.35" stop-color="#fff" stop-opacity="0"/><stop offset="1" stop-color="#fff" stop-opacity="1"/></linearGradient>
<filter id="f46" x="0" y="0" width="1" height="1" color-interpolation-filters="sRGB"><feTurbulence type="fractalNoise" baseFrequency="0.18" numOctaves="2" seed="37"/><feColorMatrix values="0 0 0 0 0 0 0 0 0 0 0 0 0 0 0 1 0 0 0 0" result="n"/><feComposite in="n" in2="SourceAlpha" operator="arithmetic" k1="0" k2="16" k3="8.8" k4="-14.25" result="m"/><feFlood flood-color="#ff0000"/><feComposite operator="in" in2="m"/></filter>
<path id="s18" d="M0 0C0.4 1.6 1.2 5.6 2.5 9C3.7 12.4 5.1 15.4 6.9 18.9C8.8 22.5 10.4 25.3 12.9 28.9C15.4 32.5 17.9 35.3 20.9 38.9C23.8 42.5 25.8 45.3 29.2 48.9C32.6 52.4 36.5 55.8 39.8 58.8C43 61.9 45.4 64.2 47.3 65.8C49.2 67.4 49.2 67.7 50.1 67.6C51 67.5 51.8 67 52.3 65.4C52.8 63.8 52.5 61.8 52.7 58.8C53 55.8 53.3 52.4 53.7 48.9C54.2 45.3 54.5 42.5 55.1 38.9C55.6 35.3 55.8 32.5 56.8 28.9C57.7 25.3 58.8 22.5 60.4 18.9C61.9 15.4 63.8 12.4 65.3 9C66.8 5.6 68.2 1.6 68.8 0Z"/><clipPath id="s18c"><use href="#s18"/></clipPath>
<path id="s18f" d="M12.9 28.9C14.3 30.7 17.9 35.3 20.9 38.9C23.8 42.5 25.8 45.3 29.2 48.9C32.6 52.4 36.5 55.8 39.8 58.8C43 61.9 45.4 64.2 47.3 65.8C49.2 67.4 49.6 67.3 50.1 67.6"/>
<linearGradient id="g14" x1="0" y1="1" x2="0" y2="0"><stop offset="0" stop-color="#fff" stop-opacity="0"/><stop offset="1" stop-color="#fff" stop-opacity="1"/></linearGradient>
<filter id="f47" x="0" y="0" width="1" height="1" color-interpolation-filters="sRGB"><feTurbulence type="fractalNoise" baseFrequency="0.09" numOctaves="3" seed="41"/><feColorMatrix values="0 0 0 0 0 0 0 0 0 0 0 0 0 0 0 1 0 0 0 0" result="n"/><feComposite in="n" in2="SourceAlpha" operator="arithmetic" k1="0" k2="12" k3="0.96" k4="-7.47" result="m"/><feFlood flood-color="#1b6c1b"/><feComposite operator="in" in2="m"/></filter>
<filter id="f48" x="0" y="0" width="1" height="1" color-interpolation-filters="sRGB"><feTurbulence type="fractalNoise" baseFrequency="0.3" numOctaves="2" seed="7"/><feColorMatrix values="0 0 0 0 0 0 0 0 0 0 0 0 0 0 0 1 0 0 0 0" result="n"/><feComposite in="n" in2="SourceAlpha" operator="arithmetic" k1="0" k2="10" k3="0" k4="-6.47" result="m"/><feFlood flood-color="#156015"/><feComposite operator="in" in2="m"/></filter>
<filter id="f49" x="0" y="0" width="1" height="1" color-interpolation-filters="sRGB"><feTurbulence type="fractalNoise" baseFrequency="0.25" numOctaves="2" seed="53"/><feColorMatrix values="0 0 0 0 0 0 0 0 0 0 0 0 0 0 0 1 0 0 0 0" result="n"/><feComposite in="n" in2="SourceAlpha" operator="arithmetic" k1="0" k2="10" k3="0" k4="-6.27" result="m"/><feFlood flood-color="#98ee84"/><feComposite operator="in" in2="m"/></filter>
<filter id="f50" x="0" y="0" width="1" height="1" color-interpolation-filters="sRGB"><feTurbulence type="fractalNoise" baseFrequency="0.3 0.5" numOctaves="2" seed="67"/><feColorMatrix values="0 0 0 0 0 0 0 0 0 0 0 0 0 0 0 1 0 0 0 0" result="n"/><feComposite in="n" in2="SourceAlpha" operator="arithmetic" k1="0" k2="10" k3="0" k4="-5.97" result="m"/><feFlood flood-color="#ffffff"/><feComposite operator="in" in2="m"/></filter>
<path id="s19" d="M0 0C0.4 1.6 1.2 5.6 2.5 9C3.7 12.5 5.1 15.4 6.9 19.1C8.8 22.7 10.4 25.5 12.9 29.1C15.4 32.7 17.9 35.5 20.9 39.1C23.8 42.7 25.8 45.5 29.2 49.1C32.6 52.8 36.5 56.1 39.8 59.2C43 62.2 45.4 64.6 47.3 66.2C49.2 67.8 49.2 68.1 50.1 68C51 67.9 51.8 67.4 52.3 65.8C52.8 64.2 52.5 62.2 52.7 59.2C53 56.2 53.3 52.8 53.7 49.1C54.2 45.5 54.5 42.7 55.1 39.1C55.6 35.5 55.8 32.7 56.8 29.1C57.7 25.5 58.8 22.7 60.4 19.1C61.9 15.4 63.8 12.5 65.3 9C66.8 5.6 68.2 1.6 68.8 0Z"/><clipPath id="s19c"><use href="#s19"/></clipPath>
<linearGradient id="g15" x1="0" y1="1" x2="0" y2="0"><stop offset="0.3" stop-color="#fff" stop-opacity="0"/><stop offset="1" stop-color="#fff" stop-opacity="1"/></linearGradient>
<filter id="f51" x="0" y="0" width="1" height="1" color-interpolation-filters="sRGB"><feTurbulence type="fractalNoise" baseFrequency="0.14" numOctaves="3" seed="41"/><feColorMatrix values="0 0 0 0 0 0 0 0 0 0 0 0 0 0 0 1 0 0 0 0" result="n"/><feComposite in="n" in2="SourceAlpha" operator="arithmetic" k1="0" k2="12" k3="4.2" k4="-9.29" result="m"/><feFlood flood-color="#d6dada"/><feComposite operator="in" in2="m"/></filter>
<filter id="f52" x="0" y="0" width="1" height="1" color-interpolation-filters="sRGB"><feTurbulence type="fractalNoise" baseFrequency="0.3" numOctaves="2" seed="53"/><feColorMatrix values="0 0 0 0 0 0 0 0 0 0 0 0 0 0 0 1 0 0 0 0" result="n"/><feComposite in="n" in2="SourceAlpha" operator="arithmetic" k1="0" k2="12" k3="0" k4="-8.21" result="m"/><feFlood flood-color="#947eb4"/><feComposite operator="in" in2="m"/></filter>
<filter id="f53" x="0" y="0" width="1" height="1" color-interpolation-filters="sRGB"><feTurbulence type="fractalNoise" baseFrequency="0.1" numOctaves="2" seed="67"/><feColorMatrix values="0 0 0 0 0 0 0 0 0 0 0 0 0 0 0 1 0 0 0 0" result="n"/><feComposite in="n" in2="SourceAlpha" operator="arithmetic" k1="0" k2="6" k3="0" k4="-3.25" result="m"/><feFlood flood-color="#aab2b2"/><feComposite operator="in" in2="m"/></filter>
<path id="s20" d="M0 0C0.5 1.6 1.3 5.6 2.6 9C3.9 12.4 5.2 15.4 7.1 18.9C9.1 22.5 10.7 25.3 13.2 28.9C15.8 32.5 18.3 35.3 21.3 38.9C24.3 42.5 26.4 45.3 29.8 48.9C33.3 52.4 37.2 55.8 40.5 58.8C43.8 61.9 46.3 64.2 48.2 65.8C50.1 67.4 50.1 67.7 51 67.6C51.9 67.5 52.7 67 53.2 65.4C53.6 63.8 53.3 61.8 53.5 58.8C53.8 55.8 54.1 52.4 54.5 48.9C54.9 45.3 55.2 42.5 55.7 38.9C56.2 35.3 56.4 32.5 57.4 28.9C58.3 25.3 59.4 22.5 60.9 18.9C62.4 15.4 64.3 12.4 65.8 9C67.2 5.6 68.6 1.6 69.2 0Z"/><clipPath id="s20c"><use href="#s20"/></clipPath>
<path id="s20f" d="M13.2 28.9C14.7 30.7 18.3 35.3 21.3 38.9C24.3 42.5 26.4 45.3 29.8 48.9C33.3 52.4 37.2 55.8 40.5 58.8C43.8 61.9 46.3 64.2 48.2 65.8C50.1 67.4 50.5 67.3 51 67.6"/>
<filter id="f54" x="0" y="0" width="1" height="1" color-interpolation-filters="sRGB"><feTurbulence type="fractalNoise" baseFrequency="0.09" numOctaves="3" seed="41"/><feColorMatrix values="0 0 0 0 0 0 0 0 0 0 0 0 0 0 0 1 0 0 0 0" result="n"/><feComposite in="n" in2="SourceAlpha" operator="arithmetic" k1="0" k2="12" k3="1.3" k4="-7.48" result="m"/><feFlood flood-color="#1b6c1b"/><feComposite operator="in" in2="m"/></filter>
<filter id="f55" x="0" y="0" width="1" height="1" color-interpolation-filters="sRGB"><feTurbulence type="fractalNoise" baseFrequency="0.3 0.5" numOctaves="2" seed="67"/><feColorMatrix values="0 0 0 0 0 0 0 0 0 0 0 0 0 0 0 1 0 0 0 0" result="n"/><feComposite in="n" in2="SourceAlpha" operator="arithmetic" k1="0" k2="10" k3="0" k4="-6.04" result="m"/><feFlood flood-color="#ffffff"/><feComposite operator="in" in2="m"/></filter>
<path id="s21" d="M0 0C0.5 1.6 1.3 5.6 2.6 9C3.9 12.5 5.2 15.4 7.1 19.1C9.1 22.7 10.7 25.5 13.2 29.1C15.8 32.7 18.3 35.5 21.3 39.1C24.3 42.7 26.4 45.5 29.8 49.1C33.3 52.8 37.2 56.1 40.5 59.2C43.8 62.2 46.3 64.6 48.2 66.2C50.1 67.8 50.1 68.1 51 68C51.9 67.9 52.7 67.4 53.2 65.8C53.6 64.2 53.3 62.2 53.5 59.2C53.8 56.2 54.1 52.8 54.5 49.1C54.9 45.5 55.2 42.7 55.7 39.1C56.2 35.5 56.4 32.7 57.4 29.1C58.3 25.5 59.4 22.7 60.9 19.1C62.4 15.4 64.3 12.5 65.8 9C67.2 5.6 68.6 1.6 69.2 0Z"/><clipPath id="s21c"><use href="#s21"/></clipPath>
<linearGradient id="g16" x1="0" y1="0" x2="0" y2="1"><stop offset="0" stop-color="#fff" stop-opacity="0"/><stop offset="1" stop-color="#fff" stop-opacity="1"/></linearGradient>
<filter id="f56" x="0" y="0" width="1" height="1" color-interpolation-filters="sRGB"><feTurbulence type="fractalNoise" baseFrequency="0.09" numOctaves="3" seed="53"/><feColorMatrix values="0 0 0 0 0 0 0 0 0 0 0 0 0 0 0 1 0 0 0 0" result="n"/><feComposite in="n" in2="SourceAlpha" operator="arithmetic" k1="0" k2="12" k3="1.8" k4="-6.69" result="m"/><feFlood flood-color="#947eb4"/><feComposite operator="in" in2="m"/></filter>
<filter id="f57" x="0" y="0" width="1" height="1" color-interpolation-filters="sRGB"><feTurbulence type="fractalNoise" baseFrequency="0.12" numOctaves="2" seed="41"/><feColorMatrix values="0 0 0 0 0 0 0 0 0 0 0 0 0 0 0 1 0 0 0 0" result="n"/><feComposite in="n" in2="SourceAlpha" operator="arithmetic" k1="0" k2="12" k3="4.2" k4="-9.73" result="m"/><feFlood flood-color="#d6dada"/><feComposite operator="in" in2="m"/></filter>
<path id="s22" d="M0 0C0.5 1.6 1.3 5.6 2.6 9C4 12.4 5.4 15.4 7.3 18.9C9.2 22.5 10.9 25.3 13.5 28.9C16 32.5 18.6 35.3 21.6 38.9C24.6 42.5 26.7 45.3 30.1 48.9C33.6 52.4 37.6 55.8 40.9 58.8C44.2 61.9 46.7 64.2 48.6 65.8C50.5 67.4 50.5 67.7 51.4 67.6C52.3 67.5 53.1 67 53.6 65.4C54 63.8 53.6 61.8 53.8 58.8C54 55.8 54.3 52.4 54.7 48.9C55 45.3 55.3 42.5 55.8 38.9C56.3 35.3 56.4 32.5 57.3 28.9C58.2 25.3 59.3 22.5 60.7 18.9C62.2 15.4 64 12.4 65.5 9C66.9 5.6 68.2 1.6 68.8 0Z"/><clipPath id="s22c"><use href="#s22"/></clipPath>
<path id="s22f" d="M13.5 28.9C14.9 30.7 18.6 35.3 21.6 38.9C24.6 42.5 26.7 45.3 30.1 48.9C33.6 52.4 37.6 55.8 40.9 58.8C44.2 61.9 46.7 64.2 48.6 65.8C50.5 67.4 50.9 67.3 51.4 67.6"/>
<filter id="f58" x="0" y="0" width="1" height="1" color-interpolation-filters="sRGB"><feTurbulence type="fractalNoise" baseFrequency="0.09" numOctaves="3" seed="41"/><feColorMatrix values="0 0 0 0 0 0 0 0 0 0 0 0 0 0 0 1 0 0 0 0" result="n"/><feComposite in="n" in2="SourceAlpha" operator="arithmetic" k1="0" k2="12" k3="1.65" k4="-7.5" result="m"/><feFlood flood-color="#1b6c1b"/><feComposite operator="in" in2="m"/></filter>
<filter id="f59" x="0" y="0" width="1" height="1" color-interpolation-filters="sRGB"><feTurbulence type="fractalNoise" baseFrequency="0.3 0.5" numOctaves="2" seed="67"/><feColorMatrix values="0 0 0 0 0 0 0 0 0 0 0 0 0 0 0 1 0 0 0 0" result="n"/><feComposite in="n" in2="SourceAlpha" operator="arithmetic" k1="0" k2="10" k3="0" k4="-6.11" result="m"/><feFlood flood-color="#ffffff"/><feComposite operator="in" in2="m"/></filter>
<path id="s23" d="M0 0C0.5 1.6 1.3 5.6 2.6 9C4 12.5 5.4 15.4 7.3 19.1C9.2 22.7 10.9 25.5 13.5 29.1C16 32.7 18.6 35.5 21.6 39.1C24.6 42.7 26.7 45.5 30.1 49.1C33.6 52.8 37.6 56.1 40.9 59.2C44.2 62.2 46.7 64.6 48.6 66.2C50.5 67.8 50.5 68.1 51.4 68C52.3 67.9 53.1 67.4 53.6 65.8C54 64.2 53.6 62.2 53.8 59.2C54 56.2 54.3 52.8 54.7 49.1C55 45.5 55.3 42.7 55.8 39.1C56.3 35.5 56.4 32.7 57.3 29.1C58.2 25.5 59.3 22.7 60.7 19.1C62.2 15.4 64 12.5 65.5 9C66.9 5.6 68.2 1.6 68.8 0Z"/><clipPath id="s23c"><use href="#s23"/></clipPath>
<filter id="f60" x="0" y="0" width="1" height="1" color-interpolation-filters="sRGB"><feTurbulence type="fractalNoise" baseFrequency="0.09" numOctaves="3" seed="67"/><feColorMatrix values="0 0 0 0 0 0 0 0 0 0 0 0 0 0 0 1 0 0 0 0" result="n"/><feComposite in="n" in2="SourceAlpha" operator="arithmetic" k1="0" k2="12" k3="1.8" k4="-6.92" result="m"/><feFlood flood-color="#98a2a2"/><feComposite operator="in" in2="m"/></filter>
<filter id="f61" x="0" y="0" width="1" height="1" color-interpolation-filters="sRGB"><feTurbulence type="fractalNoise" baseFrequency="0.12" numOctaves="2" seed="41"/><feColorMatrix values="0 0 0 0 0 0 0 0 0 0 0 0 0 0 0 1 0 0 0 0" result="n"/><feComposite in="n" in2="SourceAlpha" operator="arithmetic" k1="0" k2="12" k3="4.2" k4="-10.12" result="m"/><feFlood flood-color="#d6dada"/><feComposite operator="in" in2="m"/></filter>
<path id="s24" d="M0 0C0.4 1.6 1.2 5.6 2.4 9C3.6 12.4 4.9 15.4 6.8 18.9C8.6 22.5 10.2 25.3 12.6 28.9C15.1 32.5 17.5 35.3 20.4 38.9C23.3 42.5 25.2 45.3 28.6 48.9C31.9 52.4 35.7 55.8 38.9 58.8C42.1 61.9 44.5 64.2 46.3 65.8C48.1 67.4 48.1 67.7 49 67.6C49.9 67.5 50.7 67 51.2 65.4C51.6 63.8 51.3 61.8 51.6 58.8C51.8 55.8 52.2 52.4 52.6 48.9C53 45.3 53.3 42.5 53.9 38.9C54.4 35.3 54.6 32.5 55.6 28.9C56.5 25.3 57.6 22.5 59.1 18.9C60.6 15.4 62.5 12.4 64 9C65.4 5.6 66.8 1.6 67.4 0Z"/><clipPath id="s24c"><use href="#s24"/></clipPath>
<path id="s24f" d="M12.6 28.9C14 30.7 17.5 35.3 20.4 38.9C23.3 42.5 25.2 45.3 28.6 48.9C31.9 52.4 35.7 55.8 38.9 58.8C42.1 61.9 44.5 64.2 46.3 65.8C48.1 67.4 48.5 67.3 49 67.6"/>
<filter id="f62" x="0" y="0" width="1" height="1" color-interpolation-filters="sRGB"><feTurbulence type="fractalNoise" baseFrequency="0.09" numOctaves="3" seed="41"/><feColorMatrix values="0 0 0 0 0 0 0 0 0 0 0 0 0 0 0 1 0 0 0 0" result="n"/><feComposite in="n" in2="SourceAlpha" operator="arithmetic" k1="0" k2="12" k3="1.99" k4="-7.53" result="m"/><feFlood flood-color="#1b6c1b"/><feComposite operator="in" in2="m"/></filter>
<filter id="f63" x="0" y="0" width="1" height="1" color-interpolation-filters="sRGB"><feTurbulence type="fractalNoise" baseFrequency="0.3 0.5" numOctaves="2" seed="67"/><feColorMatrix values="0 0 0 0 0 0 0 0 0 0 0 0 0 0 0 1 0 0 0 0" result="n"/><feComposite in="n" in2="SourceAlpha" operator="arithmetic" k1="0" k2="10" k3="0" k4="-6.19" result="m"/><feFlood flood-color="#ffffff"/><feComposite operator="in" in2="m"/></filter>
<path id="s25" d="M0 0C0.4 1.6 1.2 5.6 2.4 9C3.6 12.5 4.9 15.4 6.8 19.1C8.6 22.7 10.2 25.5 12.6 29.1C15.1 32.7 17.5 35.5 20.4 39.1C23.3 42.7 25.2 45.5 28.6 49.1C31.9 52.8 35.7 56.1 38.9 59.2C42.1 62.2 44.5 64.6 46.3 66.2C48.1 67.8 48.1 68.1 49 68C49.9 67.9 50.7 67.4 51.2 65.8C51.6 64.2 51.3 62.2 51.6 59.2C51.8 56.2 52.2 52.8 52.6 49.1C53 45.5 53.3 42.7 53.9 39.1C54.4 35.5 54.6 32.7 55.6 29.1C56.5 25.5 57.6 22.7 59.1 19.1C60.6 15.4 62.5 12.5 64 9C65.4 5.6 66.8 1.6 67.4 0Z"/><clipPath id="s25c"><use href="#s25"/></clipPath>
<filter id="f64" x="0" y="0" width="1" height="1" color-interpolation-filters="sRGB"><feTurbulence type="fractalNoise" baseFrequency="0.1 0.07" numOctaves="3" seed="67"/><feColorMatrix values="0 0 0 0 0 0 0 0 0 0 0 0 0 0 0 1 0 0 0 0" result="n"/><feComposite in="n" in2="SourceAlpha" operator="arithmetic" k1="0" k2="12" k3="1.44" k4="-7.43" result="m"/><feFlood flood-color="#98a2a2"/><feComposite operator="in" in2="m"/></filter>
<filter id="f65" x="0" y="0" width="1" height="1" color-interpolation-filters="sRGB"><feTurbulence type="fractalNoise" baseFrequency="0.14" numOctaves="2" seed="41"/><feColorMatrix values="0 0 0 0 0 0 0 0 0 0 0 0 0 0 0 1 0 0 0 0" result="n"/><feComposite in="n" in2="SourceAlpha" operator="arithmetic" k1="0" k2="12" k3="3.6" k4="-10.26" result="m"/><feFlood flood-color="#cfd4d4"/><feComposite operator="in" in2="m"/></filter>
<path id="s26" d="M0 0C0.5 1.6 1.2 5.6 2.5 9C3.8 12.4 5.2 15.4 7.1 18.9C9 22.5 10.6 25.3 13.2 28.9C15.8 32.5 18.4 35.3 21.5 38.9C24.5 42.5 26.6 45.3 30.1 48.9C33.6 52.4 37.7 55.8 41 58.8C44.4 61.9 47 64.2 48.9 65.8C50.8 67.4 50.9 67.7 51.8 67.6C52.7 67.5 53.6 67 54.1 65.4C54.6 63.8 54.3 61.8 54.6 58.8C54.9 55.8 55.3 52.4 55.8 48.9C56.2 45.3 56.6 42.5 57.2 38.9C57.9 35.3 58.1 32.5 59.1 28.9C60.2 25.3 61.4 22.5 63 18.9C64.6 15.4 66.6 12.4 68.2 9C69.9 5.6 71.3 1.6 72 0Z"/><clipPath id="s26c"><use href="#s26"/></clipPath>
<path id="s26f" d="M13.2 28.9C14.7 30.7 18.4 35.3 21.5 38.9C24.5 42.5 26.6 45.3 30.1 48.9C33.6 52.4 37.7 55.8 41 58.8C44.4 61.9 47 64.2 48.9 65.8C50.8 67.4 51.3 67.3 51.8 67.6"/>
<filter id="f66" x="0" y="0" width="1" height="1" color-interpolation-filters="sRGB"><feTurbulence type="fractalNoise" baseFrequency="0.09" numOctaves="3" seed="41"/><feColorMatrix values="0 0 0 0 0 0 0 0 0 0 0 0 0 0 0 1 0 0 0 0" result="n"/><feComposite in="n" in2="SourceAlpha" operator="arithmetic" k1="0" k2="12" k3="2.33" k4="-7.57" result="m"/><feFlood flood-color="#1b6c1b"/><feComposite operator="in" in2="m"/></filter>
<filter id="f67" x="0" y="0" width="1" height="1" color-interpolation-filters="sRGB"><feTurbulence type="fractalNoise" baseFrequency="0.3 0.5" numOctaves="2" seed="67"/><feColorMatrix values="0 0 0 0 0 0 0 0 0 0 0 0 0 0 0 1 0 0 0 0" result="n"/><feComposite in="n" in2="SourceAlpha" operator="arithmetic" k1="0" k2="10" k3="0" k4="-6.27" result="m"/><feFlood flood-color="#ffffff"/><feComposite operator="in" in2="m"/></filter>
<path id="s27" d="M0 0C0.5 1.6 1.2 5.6 2.5 9C3.8 12.5 5.2 15.4 7.1 19.1C9 22.7 10.6 25.5 13.2 29.1C15.8 32.7 18.4 35.5 21.5 39.1C24.5 42.7 26.6 45.5 30.1 49.1C33.6 52.8 37.7 56.1 41 59.2C44.4 62.2 47 64.6 48.9 66.2C50.8 67.8 50.9 68.1 51.8 68C52.7 67.9 53.6 67.4 54.1 65.8C54.6 64.2 54.3 62.2 54.6 59.2C54.9 56.2 55.3 52.8 55.8 49.1C56.2 45.5 56.6 42.7 57.2 39.1C57.9 35.5 58.1 32.7 59.1 29.1C60.2 25.5 61.4 22.7 63 19.1C64.6 15.4 66.6 12.5 68.2 9C69.9 5.6 71.3 1.6 72 0Z"/><clipPath id="s27c"><use href="#s27"/></clipPath>
<path id="s28" d="M0 0C0.4 1.6 1.2 5.6 2.5 9C3.7 12.4 5 15.4 6.9 18.9C8.7 22.5 10.3 25.3 12.7 28.9C15.2 32.5 17.6 35.3 20.5 38.9C23.4 42.5 25.3 45.3 28.7 48.9C32 52.4 35.8 55.8 38.9 58.8C42.1 61.9 44.5 64.2 46.3 65.8C48.1 67.4 48.1 67.7 49 67.6C49.9 67.5 50.7 67 51.1 65.4C51.5 63.8 51.2 61.8 51.4 58.8C51.7 55.8 52 52.4 52.3 48.9C52.7 45.3 53 42.5 53.5 38.9C54 35.3 54.2 32.5 55.1 28.9C56 25.3 57 22.5 58.5 18.9C59.9 15.4 61.7 12.4 63.1 9C64.5 5.6 65.8 1.6 66.4 0Z"/><clipPath id="s28c"><use href="#s28"/></clipPath>
<path id="s28f" d="M12.7 28.9C14.1 30.7 17.6 35.3 20.5 38.9C23.4 42.5 25.3 45.3 28.7 48.9C32 52.4 35.8 55.8 38.9 58.8C42.1 61.9 44.5 64.2 46.3 65.8C48.1 67.4 48.5 67.3 49 67.6"/>
<filter id="f68" x="0" y="0" width="1" height="1" color-interpolation-filters="sRGB"><feTurbulence type="fractalNoise" baseFrequency="0.09" numOctaves="3" seed="41"/><feColorMatrix values="0 0 0 0 0 0 0 0 0 0 0 0 0 0 0 1 0 0 0 0" result="n"/><feComposite in="n" in2="SourceAlpha" operator="arithmetic" k1="0" k2="12" k3="2.67" k4="-7.62" result="m"/><feFlood flood-color="#1b6c1b"/><feComposite operator="in" in2="m"/></filter>
<filter id="f69" x="0" y="0" width="1" height="1" color-interpolation-filters="sRGB"><feTurbulence type="fractalNoise" baseFrequency="0.3 0.5" numOctaves="2" seed="67"/><feColorMatrix values="0 0 0 0 0 0 0 0 0 0 0 0 0 0 0 1 0 0 0 0" result="n"/><feComposite in="n" in2="SourceAlpha" operator="arithmetic" k1="0" k2="10" k3="0" k4="-6.37" result="m"/><feFlood flood-color="#ffffff"/><feComposite operator="in" in2="m"/></filter>
<path id="s29" d="M0 0C0.4 1.6 1.2 5.6 2.5 9C3.7 12.5 5 15.4 6.9 19.1C8.7 22.7 10.3 25.5 12.7 29.1C15.2 32.7 17.6 35.5 20.5 39.1C23.4 42.7 25.3 45.5 28.7 49.1C32 52.8 35.8 56.1 38.9 59.2C42.1 62.2 44.5 64.6 46.3 66.2C48.1 67.8 48.1 68.1 49 68C49.9 67.9 50.7 67.4 51.1 65.8C51.5 64.2 51.2 62.2 51.4 59.2C51.7 56.2 52 52.8 52.3 49.1C52.7 45.5 53 42.7 53.5 39.1C54 35.5 54.2 32.7 55.1 29.1C56 25.5 57 22.7 58.5 19.1C59.9 15.4 61.7 12.5 63.1 9C64.5 5.6 65.8 1.6 66.4 0Z"/><clipPath id="s29c"><use href="#s29"/></clipPath>
<filter id="f70" x="0" y="0" width="1" height="1" color-interpolation-filters="sRGB"><feTurbulence type="fractalNoise" baseFrequency="0.1 0.07" numOctaves="3" seed="67"/><feColorMatrix values="0 0 0 0 0 0 0 0 0 0 0 0 0 0 0 1 0 0 0 0" result="n"/><feComposite in="n" in2="SourceAlpha" operator="arithmetic" k1="0" k2="12" k3="1.44" k4="-7.59" result="m"/><feFlood flood-color="#98a2a2"/><feComposite operator="in" in2="m"/></filter>
<path id="s30" d="M0 0C0.4 1.6 1.1 5.6 2.3 9C3.5 12.4 4.8 15.4 6.6 18.9C8.4 22.5 9.9 25.3 12.4 28.9C14.8 32.5 17.2 35.3 20.1 38.9C22.9 42.5 24.9 45.3 28.2 48.9C31.5 52.4 35.3 55.8 38.5 58.8C41.7 61.9 44.1 64.2 45.9 65.8C47.7 67.4 47.7 67.7 48.6 67.6C49.5 67.5 50.3 67 50.8 65.4C51.3 63.8 51 61.8 51.3 58.8C51.6 55.8 52 52.4 52.4 48.9C52.9 45.3 53.3 42.5 53.9 38.9C54.5 35.3 54.7 32.5 55.7 28.9C56.7 25.3 57.9 22.5 59.4 18.9C61 15.4 62.9 12.4 64.4 9C66 5.6 67.4 1.6 68 0Z"/><clipPath id="s30c"><use href="#s30"/></clipPath>
<path id="s30f" d="M12.4 28.9C13.7 30.7 17.2 35.3 20.1 38.9C22.9 42.5 24.9 45.3 28.2 48.9C31.5 52.4 35.3 55.8 38.5 58.8C41.7 61.9 44.1 64.2 45.9 65.8C47.7 67.4 48.1 67.3 48.6 67.6"/>
<filter id="f71" x="0" y="0" width="1" height="1" color-interpolation-filters="sRGB"><feTurbulence type="fractalNoise" baseFrequency="0.09" numOctaves="3" seed="41"/><feColorMatrix values="0 0 0 0 0 0 0 0 0 0 0 0 0 0 0 1 0 0 0 0" result="n"/><feComposite in="n" in2="SourceAlpha" operator="arithmetic" k1="0" k2="12" k3="3.02" k4="-7.68" result="m"/><feFlood flood-color="#1b6c1b"/><feComposite operator="in" in2="m"/></filter>
<filter id="f72" x="0" y="0" width="1" height="1" color-interpolation-filters="sRGB"><feTurbulence type="fractalNoise" baseFrequency="0.3 0.5" numOctaves="2" seed="67"/><feColorMatrix values="0 0 0 0 0 0 0 0 0 0 0 0 0 0 0 1 0 0 0 0" result="n"/><feComposite in="n" in2="SourceAlpha" operator="arithmetic" k1="0" k2="10" k3="0" k4="-6.47" result="m"/><feFlood flood-color="#ffffff"/><feComposite operator="in" in2="m"/></filter>
<path id="s31" d="M0 0C0.4 1.6 1.1 5.6 2.3 9C3.5 12.5 4.8 15.4 6.6 19.1C8.4 22.7 9.9 25.5 12.4 29.1C14.8 32.7 17.2 35.5 20.1 39.1C22.9 42.7 24.9 45.5 28.2 49.1C31.5 52.8 35.3 56.1 38.5 59.2C41.7 62.2 44.1 64.6 45.9 66.2C47.7 67.8 47.7 68.1 48.6 68C49.5 67.9 50.3 67.4 50.8 65.8C51.3 64.2 51 62.2 51.3 59.2C51.6 56.2 52 52.8 52.4 49.1C52.9 45.5 53.3 42.7 53.9 39.1C54.5 35.5 54.7 32.7 55.7 29.1C56.7 25.5 57.9 22.7 59.4 19.1C61 15.4 62.9 12.5 64.4 9C66 5.6 67.4 1.6 68 0Z"/><clipPath id="s31c"><use href="#s31"/></clipPath>
<filter id="f73" x="0" y="0" width="1" height="1" color-interpolation-filters="sRGB"><feTurbulence type="fractalNoise" baseFrequency="0.1 0.07" numOctaves="3" seed="67"/><feColorMatrix values="0 0 0 0 0 0 0 0 0 0 0 0 0 0 0 1 0 0 0 0" result="n"/><feComposite in="n" in2="SourceAlpha" operator="arithmetic" k1="0" k2="12" k3="1.44" k4="-8.07" result="m"/><feFlood flood-color="#98a2a2"/><feComposite operator="in" in2="m"/></filter>
<path id="s32" d="M0 0C0.4 1.6 1.1 5.6 2.3 9C3.6 12.4 4.9 15.4 6.7 18.9C8.6 22.5 10.1 25.3 12.6 28.9C15.1 32.5 17.6 35.3 20.5 38.9C23.4 42.5 25.4 45.3 28.8 48.9C32.2 52.4 36.1 55.8 39.4 58.8C42.7 61.9 45.1 64.2 47 65.8C48.9 67.4 48.9 67.7 49.8 67.6C50.7 67.5 51.6 67 52.1 65.4C52.6 63.8 52.3 61.8 52.6 58.8C53 55.8 53.4 52.4 53.9 48.9C54.4 45.3 54.8 42.5 55.4 38.9C56 35.3 56.3 32.5 57.4 28.9C58.4 25.3 59.6 22.5 61.2 18.9C62.9 15.4 64.8 12.4 66.4 9C68.1 5.6 69.5 1.6 70.2 0Z"/><clipPath id="s32c"><use href="#s32"/></clipPath>
<path id="s32f" d="M12.6 28.9C14 30.7 17.6 35.3 20.5 38.9C23.4 42.5 25.4 45.3 28.8 48.9C32.2 52.4 36.1 55.8 39.4 58.8C42.7 61.9 45.1 64.2 47 65.8C48.9 67.4 49.3 67.3 49.8 67.6"/>
<filter id="f74" x="0" y="0" width="1" height="1" color-interpolation-filters="sRGB"><feTurbulence type="fractalNoise" baseFrequency="0.09" numOctaves="3" seed="41"/><feColorMatrix values="0 0 0 0 0 0 0 0 0 0 0 0 0 0 0 1 0 0 0 0" result="n"/><feComposite in="n" in2="SourceAlpha" operator="arithmetic" k1="0" k2="12" k3="3.36" k4="-7.73" result="m"/><feFlood flood-color="#1b6c1b"/><feComposite operator="in" in2="m"/></filter>
<filter id="f75" x="0" y="0" width="1" height="1" color-interpolation-filters="sRGB"><feTurbulence type="fractalNoise" baseFrequency="0.3 0.5" numOctaves="2" seed="67"/><feColorMatrix values="0 0 0 0 0 0 0 0 0 0 0 0 0 0 0 1 0 0 0 0" result="n"/><feComposite in="n" in2="SourceAlpha" operator="arithmetic" k1="0" k2="10" k3="0" k4="-6.6" result="m"/><feFlood flood-color="#ffffff"/><feComposite operator="in" in2="m"/></filter>
<path id="s33" d="M0 0C0.4 1.6 1.1 5.6 2.3 9C3.6 12.5 4.9 15.4 6.7 19.1C8.6 22.7 10.1 25.5 12.6 29.1C15.1 32.7 17.6 35.5 20.5 39.1C23.4 42.7 25.4 45.5 28.8 49.1C32.2 52.8 36.1 56.1 39.4 59.2C42.7 62.2 45.1 64.6 47 66.2C48.9 67.8 48.9 68.1 49.8 68C50.7 67.9 51.6 67.4 52.1 65.8C52.6 64.2 52.3 62.2 52.6 59.2C53 56.2 53.4 52.8 53.9 49.1C54.4 45.5 54.8 42.7 55.4 39.1C56 35.5 56.3 32.7 57.4 29.1C58.4 25.5 59.6 22.7 61.2 19.1C62.9 15.4 64.8 12.5 66.4 9C68.1 5.6 69.5 1.6 70.2 0Z"/><clipPath id="s33c"><use href="#s33"/></clipPath>
<filter id="f76" x="0" y="0" width="1" height="1" color-interpolation-filters="sRGB"><feTurbulence type="fractalNoise" baseFrequency="0.1 0.07" numOctaves="3" seed="67"/><feColorMatrix values="0 0 0 0 0 0 0 0 0 0 0 0 0 0 0 1 0 0 0 0" result="n"/><feComposite in="n" in2="SourceAlpha" operator="arithmetic" k1="0" k2="12" k3="1.44" k4="-8.24" result="m"/><feFlood flood-color="#98a2a2"/><feComposite operator="in" in2="m"/></filter>
<linearGradient id="uf" x1="0" y1="0" x2="0" y2="1"><stop offset="0.4" stop-color="#7c7c7c"/><stop offset="0.8" stop-color="#a4a4a4"/><stop offset="1" stop-color="#c8c8c8"/></linearGradient>
<path id="s34" d="M0.2 0C0.7 1.4 1 3.1 3.2 8C5.4 13 8.2 20.6 12.3 27.6C16.4 34.7 21.1 41 26.2 47.2C31.3 53.4 36.8 58.5 40.6 61.9C44.4 65.3 45.6 65.1 47.2 66C48.9 66.9 48.9 67.5 49.7 66.8C50.5 66.1 51.1 65.4 51.8 61.9C52.5 58.4 52.4 53.4 53.6 47.2C54.9 41 56 34.7 58.5 27.6C61.1 20.6 65.6 13 67.8 8C69.9 3.1 70.1 1.4 70.6 0Z"/><clipPath id="s34c"><use href="#s34"/></clipPath>
<linearGradient id="g17" x1="0" y1="0" x2="0" y2="1"><stop offset="0" stop-color="#fff" stop-opacity="0"/><stop offset="0.8" stop-color="#fff" stop-opacity="1"/></linearGradient>
<filter id="f77" x="0" y="0" width="1" height="1" color-interpolation-filters="sRGB"><feTurbulence type="fractalNoise" baseFrequency="0.09" numOctaves="3" seed="71"/><feColorMatrix values="0 0 0 0 0 0 0 0 0 0 0 0 0 0 0 1 0 0 0 0" result="n"/><feComposite in="n" in2="SourceAlpha" operator="arithmetic" k1="0" k2="20" k3="5" k4="-11.64" result="m"/><feFlood flood-color="#7e7e7e"/><feComposite operator="in" in2="m"/></filter>
<filter id="f78" x="0" y="0" width="1" height="1" color-interpolation-filters="sRGB"><feTurbulence type="fractalNoise" baseFrequency="0.12" numOctaves="2" seed="83"/><feColorMatrix values="0 0 0 0 0 0 0 0 0 0 0 0 0 0 0 1 0 0 0 0" result="n"/><feComposite in="n" in2="SourceAlpha" operator="arithmetic" k1="0" k2="12" k3="0" k4="-6.93" result="m"/><feFlood flood-color="#4c4c4c"/><feComposite operator="in" in2="m"/></filter>
<path id="s35" d="M0.2 0C0.7 1.4 1 3 3.2 7.9C5.4 12.8 8.2 20.2 12.3 27.1C16.4 34.1 21.1 40.3 26.2 46.4C31.3 52.4 36.8 57.5 40.6 60.8C44.4 64.1 45.6 64 47.2 64.8C48.9 65.7 48.9 66.3 49.7 65.6C50.5 64.9 51.1 64.3 51.8 60.8C52.5 57.3 52.4 52.4 53.6 46.4C54.9 40.3 56 34.1 58.5 27.1C61.1 20.2 65.6 12.8 67.8 7.9C69.9 3 70.1 1.4 70.6 0Z"/><clipPath id="s35c"><use href="#s35"/></clipPath>
<path id="s36" d="M0.2 0C0.7 1.4 1 3 3.2 7.9C5.4 12.8 8.2 20.3 12.3 27.2C16.4 34.2 21.1 40.4 26.2 46.5C31.3 52.6 36.8 57.6 40.6 61C44.4 64.3 45.6 64.2 47.2 65C48.9 65.9 48.9 66.5 49.7 65.8C50.5 65.1 51.1 64.4 51.8 61C52.5 57.5 52.4 52.6 53.6 46.5C54.9 40.4 56 34.2 58.5 27.2C61.1 20.3 65.6 12.8 67.8 7.9C69.9 3 70.1 1.4 70.6 0Z"/><clipPath id="s36c"><use href="#s36"/></clipPath>
<path id="s37" d="M0 0C0.3 1.4 0.4 4.2 1.4 7.9C2.4 11.6 3.5 16.1 5.8 20.8C8 25.4 10.8 29 13.9 33.6C17 38.2 19.4 42.2 22.8 46.4C26.3 50.7 29.3 54.1 32.9 57.3C36.6 60.5 40.3 62.6 43.1 64.2C45.8 65.9 46.7 66 48 66.5C49.3 67 49.4 67.1 50.2 66.8C51 66.5 51.9 66.3 52.4 64.6C52.9 62.9 52.7 60.6 52.9 57.3C53 54 52.6 50.7 53.2 46.4C53.7 42.2 54.8 38.2 56.1 33.6C57.4 29 58.7 25.4 60.3 20.8C61.9 16.1 63.6 11.6 65 7.9C66.4 4.2 67.5 1.4 68 0Z"/><clipPath id="s37c"><use href="#s37"/></clipPath>
<path id="s38" d="M0 0C0.4 1.6 0.9 5.5 2 8.9C3.1 12.2 4.2 15.2 6 18.7C7.8 22.3 9.6 25 12 28.6C14.4 32.1 16.7 34.9 19.4 38.4C22.2 42 24.1 45 27.2 48.3C30.4 51.6 34 54.5 36.7 56.7C39.5 58.8 40.7 59.2 42.7 60.1C44.6 61 45.9 61.9 47.6 61.7C49.3 61.5 51.2 61.5 52.1 59.1C53.1 56.7 52.6 52 53.1 48.3C53.5 44.6 54.1 42 54.7 38.4C55.3 34.9 55.4 32.1 56.3 28.6C57.2 25 58.3 22.3 59.8 18.7C61.3 15.2 63.1 12.2 64.6 8.9C66.1 5.5 67.4 1.6 68 0Z"/><clipPath id="s38c"><use href="#s38"/></clipPath>
<linearGradient id="g18" x1="1" y1="0" x2="0" y2="1"><stop offset="0" stop-color="#fff" stop-opacity="0"/><stop offset="1" stop-color="#fff" stop-opacity="1"/></linearGradient>
<filter id="f79" x="0" y="0" width="1" height="1" color-interpolation-filters="sRGB"><feTurbulence type="fractalNoise" baseFrequency="0.06" numOctaves="2" seed="71"/><feColorMatrix values="0 0 0 0 0 0 0 0 0 0 0 0 0 0 0 1 0 0 0 0" result="n"/><feComposite in="n" in2="SourceAlpha" operator="arithmetic" k1="0" k2="45" k3="13.5" k4="-28.75" result="m"/><feFlood flood-color="#3cf0ff"/><feComposite operator="in" in2="m"/></filter>
<linearGradient id="g19" x1="1" y1="1" x2="0" y2="0"><stop offset="0.3" stop-color="#fff" stop-opacity="0"/><stop offset="1" stop-color="#fff" stop-opacity="1"/></linearGradient>
<filter id="f80" x="0" y="0" width="1" height="1" color-interpolation-filters="sRGB"><feTurbulence type="fractalNoise" baseFrequency="0.07" numOctaves="2" seed="83"/><feColorMatrix values="0 0 0 0 0 0 0 0 0 0 0 0 0 0 0 1 0 0 0 0" result="n"/><feComposite in="n" in2="SourceAlpha" operator="arithmetic" k1="0" k2="45" k3="22.5" k4="-38.62" result="m"/><feFlood flood-color="#eaffff"/><feComposite operator="in" in2="m"/></filter>
<filter id="f81" x="0" y="0" width="1" height="1" color-interpolation-filters="sRGB"><feTurbulence type="fractalNoise" baseFrequency="0.2" numOctaves="2" seed="97"/><feColorMatrix values="0 0 0 0 0 0 0 0 0 0 0 0 0 0 0 1 0 0 0 0" result="n"/><feComposite in="n" in2="SourceAlpha" operator="arithmetic" k1="0" k2="14" k3="0" k4="-10.29" result="m"/><feFlood flood-color="#505050"/><feComposite operator="in" in2="m"/></filter>
<path id="s39" d="M0 0C0.3 1.4 0.4 4.1 1.4 7.8C2.4 11.4 3.5 15.8 5.8 20.4C8 24.9 10.8 28.5 13.9 33C17 37.5 19.4 41.4 22.8 45.6C26.3 49.8 29.3 53.1 32.9 56.3C36.6 59.4 40.3 61.5 43.1 63.1C45.8 64.7 46.7 64.9 48 65.3C49.3 65.8 49.4 65.9 50.2 65.6C51 65.3 51.9 65.1 52.4 63.5C52.9 61.8 52.7 59.5 52.9 56.3C53 53.1 52.6 49.8 53.2 45.6C53.7 41.4 54.8 37.5 56.1 33C57.4 28.5 58.7 24.9 60.3 20.4C61.9 15.8 63.6 11.4 65 7.8C66.4 4.1 67.5 1.4 68 0Z"/><clipPath id="s39c"><use href="#s39"/></clipPath>
<path id="s40" d="M0 0C0.5 1.6 1.6 5.4 3 8.7C4.4 12 5.9 14.9 8 18.4C10.1 21.9 11.9 24.6 14.5 28.1C17.1 31.5 19.6 34.5 22.5 37.7C25.3 40.9 27.8 43.5 30.4 45.9C33 48.2 34.2 49.3 36.7 50.7C39.3 52.1 41.8 53.7 44.6 53.8C47.4 53.9 50.7 52.8 52.3 51.3C53.9 49.8 53 47.9 53.4 45.5C53.9 43 54.2 40.9 54.7 37.7C55.2 34.6 55.4 31.5 56.3 28.1C57.2 24.6 58.3 21.9 59.8 18.4C61.3 14.9 63.1 12 64.6 8.7C66.1 5.4 67.4 1.6 68 0Z"/><clipPath id="s40c"><use href="#s40"/></clipPath>
<filter id="f82" x="0" y="0" width="1" height="1" color-interpolation-filters="sRGB"><feTurbulence type="fractalNoise" baseFrequency="0.06" numOctaves="2" seed="71"/><feColorMatrix values="0 0 0 0 0 0 0 0 0 0 0 0 0 0 0 1 0 0 0 0" result="n"/><feComposite in="n" in2="SourceAlpha" operator="arithmetic" k1="0" k2="45" k3="15.75" k4="-31.81" result="m"/><feFlood flood-color="#3ccc60"/><feComposite operator="in" in2="m"/></filter>
<filter id="f83" x="0" y="0" width="1" height="1" color-interpolation-filters="sRGB"><feTurbulence type="fractalNoise" baseFrequency="0.06" numOctaves="2" seed="83"/><feColorMatrix values="0 0 0 0 0 0 0 0 0 0 0 0 0 0 0 1 0 0 0 0" result="n"/><feComposite in="n" in2="SourceAlpha" operator="arithmetic" k1="0" k2="45" k3="13.5" k4="-34.35" result="m"/><feFlood flood-color="#e0ffe0"/><feComposite operator="in" in2="m"/></filter>
<path id="s41" d="M0 0C0.3 1.4 0.4 4.1 1.4 7.8C2.4 11.5 3.5 15.9 5.8 20.4C8 25 10.8 28.5 13.9 33.1C17 37.7 19.4 41.5 22.8 45.7C26.3 50 29.3 53.3 32.9 56.5C36.6 59.6 40.3 61.6 43.1 63.3C45.8 64.9 46.7 65.1 48 65.5C49.3 66 49.4 66.1 50.2 65.8C51 65.5 51.9 65.3 52.4 63.7C52.9 62 52.7 59.7 52.9 56.5C53 53.2 52.6 50 53.2 45.7C53.7 41.5 54.8 37.7 56.1 33.1C57.4 28.5 58.7 25 60.3 20.4C61.9 15.9 63.6 11.5 65 7.8C66.4 4.1 67.5 1.4 68 0Z"/><clipPath id="s41c"><use href="#s41"/></clipPath>
<path id="s41e" d="M5.8 20.4C7.2 22.7 10.8 28.5 13.9 33.1C17 37.7 19.4 41.5 22.8 45.7C26.3 50 29.3 53.3 32.9 56.5C36.6 59.6 40.3 61.6 43.1 63.3C45.8 64.9 46.7 65.1 48 65.5C49.3 66 49.8 65.7 50.2 65.8"/>
<filter id="f84" x="0" y="0" width="1" height="1" color-interpolation-filters="sRGB"><feTurbulence type="fractalNoise" baseFrequency="0.1 0.06" numOctaves="3" seed="71"/><feColorMatrix values="0 0 0 0 0 0 0 0 0 0 0 0 0 0 0 1 0 0 0 0" result="n"/><feComposite in="n" in2="SourceAlpha" operator="arithmetic" k1="0" k2="5" k3="0" k4="-2.28" result="m"/><feFlood flood-color="#a8a8a8"/><feComposite operator="in" in2="m"/></filter>
<filter id="f85" x="0" y="0" width="1" height="1" color-interpolation-filters="sRGB"><feTurbulence type="fractalNoise" baseFrequency="0.09" numOctaves="3" seed="83"/><feColorMatrix values="0 0 0 0 0 0 0 0 0 0 0 0 0 0 0 1 0 0 0 0" result="n"/><feComposite in="n" in2="SourceAlpha" operator="arithmetic" k1="0" k2="6" k3="0" k4="-3.11" result="m"/><feFlood flood-color="#383838"/><feComposite operator="in" in2="m"/></filter>
<filter id="f86" x="0" y="0" width="1" height="1" color-interpolation-filters="sRGB"><feTurbulence type="fractalNoise" baseFrequency="0.25" numOctaves="2" seed="97"/><feColorMatrix values="0 0 0 0 0 0 0 0 0 0 0 0 0 0 0 1 0 0 0 0" result="n"/><feComposite in="n" in2="SourceAlpha" operator="arithmetic" k1="0" k2="8" k3="0" k4="-5.47" result="m"/><feFlood flood-color="#b8b8b8"/><feComposite operator="in" in2="m"/></filter>
<path id="s42" d="M0 0C0.2 1.4 0.3 4.2 1.3 7.9C2.3 11.6 3.4 16.1 5.6 20.8C7.8 25.4 10.6 29 13.6 33.6C16.6 38.2 19 42.2 22.4 46.4C25.8 50.7 28.8 54.1 32.4 57.3C36 60.5 39.8 62.6 42.5 64.2C45.2 65.9 46.1 66 47.4 66.5C48.7 67 48.8 67.1 49.6 66.8C50.4 66.5 51.3 66.3 51.8 64.6C52.3 62.9 52.2 60.6 52.4 57.3C52.5 54 52.1 50.7 52.7 46.4C53.4 42.2 54.5 38.2 55.8 33.6C57.1 29 58.5 25.4 60.1 20.8C61.7 16.1 63.5 11.6 65 7.9C66.4 4.2 67.5 1.4 68 0Z"/><clipPath id="s42c"><use href="#s42"/></clipPath>
<path id="s43" d="M0 0C0.3 1.6 0.9 5.5 1.9 8.9C3 12.2 4.1 15.2 5.8 18.7C7.6 22.3 9.3 25 11.7 28.6C14.1 32.1 16.3 34.9 19.1 38.4C21.8 42 23.7 45 26.8 48.3C29.9 51.6 33.5 54.5 36.2 56.7C39 58.8 40.2 59.2 42.1 60.1C44.1 61 45.4 61.9 47.1 61.7C48.8 61.5 50.6 61.5 51.6 59.1C52.6 56.7 52.1 52 52.6 48.3C53.1 44.6 53.7 42 54.3 38.4C55 34.9 55.1 32.1 56.1 28.6C57 25 58.1 22.3 59.6 18.7C61.2 15.2 63 12.2 64.5 8.9C66 5.5 67.4 1.6 68 0Z"/><clipPath id="s43c"><use href="#s43"/></clipPath>
<filter id="f87" x="0" y="0" width="1" height="1" color-interpolation-filters="sRGB"><feTurbulence type="fractalNoise" baseFrequency="0.05" numOctaves="2" seed="83"/><feColorMatrix values="0 0 0 0 0 0 0 0 0 0 0 0 0 0 0 1 0 0 0 0" result="n"/><feComposite in="n" in2="SourceAlpha" operator="arithmetic" k1="0" k2="45" k3="22.5" k4="-37.79" result="m"/><feFlood flood-color="#a4ffff"/><feComposite operator="in" in2="m"/></filter>
<filter id="f88" x="0" y="0" width="1" height="1" color-interpolation-filters="sRGB"><feTurbulence type="fractalNoise" baseFrequency="0.07" numOctaves="2" seed="71"/><feColorMatrix values="0 0 0 0 0 0 0 0 0 0 0 0 0 0 0 1 0 0 0 0" result="n"/><feComposite in="n" in2="SourceAlpha" operator="arithmetic" k1="0" k2="45" k3="13.5" k4="-32.92" result="m"/><feFlood flood-color="#1c8cff"/><feComposite operator="in" in2="m"/></filter>
<linearGradient id="g20" x1="0" y1="0" x2="0" y2="1"><stop offset="0.4" stop-color="#fff" stop-opacity="0"/><stop offset="1" stop-color="#fff" stop-opacity="1"/></linearGradient>
<filter id="f89" x="0" y="0" width="1" height="1" color-interpolation-filters="sRGB"><feTurbulence type="fractalNoise" baseFrequency="0.12" numOctaves="2" seed="97"/><feColorMatrix values="0 0 0 0 0 0 0 0 0 0 0 0 0 0 0 1 0 0 0 0" result="n"/><feComposite in="n" in2="SourceAlpha" operator="arithmetic" k1="0" k2="14" k3="4.2" k4="-11.76" result="m"/><feFlood flood-color="#8a8a8a"/><feComposite operator="in" in2="m"/></filter>
<path id="s44" d="M0 0C0.2 1.4 0.3 4.1 1.3 7.8C2.3 11.4 3.4 15.8 5.6 20.4C7.8 24.9 10.6 28.5 13.6 33C16.6 37.5 19 41.4 22.4 45.6C25.8 49.8 28.8 53.1 32.4 56.3C36 59.4 39.8 61.5 42.5 63.1C45.2 64.7 46.1 64.9 47.4 65.3C48.7 65.8 48.8 65.9 49.6 65.6C50.4 65.3 51.3 65.1 51.8 63.5C52.3 61.8 52.2 59.5 52.4 56.3C52.5 53.1 52.1 49.8 52.7 45.6C53.4 41.4 54.5 37.5 55.8 33C57.1 28.5 58.5 24.9 60.1 20.4C61.7 15.8 63.5 11.4 65 7.8C66.4 4.1 67.5 1.4 68 0Z"/><clipPath id="s44c"><use href="#s44"/></clipPath>
<path id="s45" d="M0 0C0.5 1.6 1.5 5.4 2.9 8.7C4.3 12 5.8 14.9 7.8 18.4C9.9 21.9 11.7 24.6 14.3 28.1C16.9 31.5 19.3 34.5 22.1 37.7C24.9 40.9 27.4 43.5 30 45.9C32.5 48.2 33.7 49.3 36.3 50.7C38.8 52.1 41.3 53.7 44.1 53.8C46.9 53.9 50.2 52.8 51.8 51.3C53.4 49.8 52.6 47.9 53 45.5C53.5 43 53.8 40.9 54.3 37.7C54.9 34.6 55.1 31.5 56.1 28.1C57 24.6 58.1 21.9 59.6 18.4C61.2 14.9 63 12 64.5 8.7C66 5.4 67.4 1.6 68 0Z"/><clipPath id="s45c"><use href="#s45"/></clipPath>
<filter id="f90" x="0" y="0" width="1" height="1" color-interpolation-filters="sRGB"><feTurbulence type="fractalNoise" baseFrequency="0.06" numOctaves="2" seed="71"/><feColorMatrix values="0 0 0 0 0 0 0 0 0 0 0 0 0 0 0 1 0 0 0 0" result="n"/><feComposite in="n" in2="SourceAlpha" operator="arithmetic" k1="0" k2="45" k3="9" k4="-27.04" result="m"/><feFlood flood-color="#18aa50"/><feComposite operator="in" in2="m"/></filter>
<filter id="f91" x="0" y="0" width="1" height="1" color-interpolation-filters="sRGB"><feTurbulence type="fractalNoise" baseFrequency="0.08" numOctaves="2" seed="83"/><feColorMatrix values="0 0 0 0 0 0 0 0 0 0 0 0 0 0 0 1 0 0 0 0" result="n"/><feComposite in="n" in2="SourceAlpha" operator="arithmetic" k1="0" k2="16" k3="4.8" k4="-13.06" result="m"/><feFlood flood-color="#dcffdc"/><feComposite operator="in" in2="m"/></filter>
<filter id="f92" x="0" y="0" width="1" height="1" color-interpolation-filters="sRGB"><feTurbulence type="fractalNoise" baseFrequency="0.12" numOctaves="2" seed="97"/><feColorMatrix values="0 0 0 0 0 0 0 0 0 0 0 0 0 0 0 1 0 0 0 0" result="n"/><feComposite in="n" in2="SourceAlpha" operator="arithmetic" k1="0" k2="14" k3="0" k4="-9.66" result="m"/><feFlood flood-color="#8a8a8a"/><feComposite operator="in" in2="m"/></filter>
<path id="s46" d="M0 0C0.2 1.4 0.3 4.1 1.3 7.8C2.3 11.5 3.4 15.9 5.6 20.4C7.8 25 10.6 28.5 13.6 33.1C16.6 37.7 19 41.5 22.4 45.7C25.8 50 28.8 53.3 32.4 56.5C36 59.6 39.8 61.6 42.5 63.3C45.2 64.9 46.1 65.1 47.4 65.5C48.7 66 48.8 66.1 49.6 65.8C50.4 65.5 51.3 65.3 51.8 63.7C52.3 62 52.2 59.7 52.4 56.5C52.5 53.2 52.1 50 52.7 45.7C53.4 41.5 54.5 37.7 55.8 33.1C57.1 28.5 58.5 25 60.1 20.4C61.7 15.9 63.5 11.5 65 7.8C66.4 4.1 67.5 1.4 68 0Z"/><clipPath id="s46c"><use href="#s46"/></clipPath>
<path id="s46l" d="M0 0C0.2 1.4 0.3 4.1 1.3 7.8C2.3 11.5 3.4 15.9 5.6 20.4C7.8 25 10.6 28.5 13.6 33.1C16.6 37.7 19 41.5 22.4 45.7C25.8 50 28.8 53.3 32.4 56.5C36 59.6 39.8 61.6 42.5 63.3C45.2 64.9 46.1 65.1 47.4 65.5C48.7 66 49.2 65.7 49.6 65.8"/>
<filter id="f93" x="0" y="0" width="1" height="1" color-interpolation-filters="sRGB"><feTurbulence type="fractalNoise" baseFrequency="0.1 0.06" numOctaves="3" seed="71"/><feColorMatrix values="0 0 0 0 0 0 0 0 0 0 0 0 0 0 0 1 0 0 0 0" result="n"/><feComposite in="n" in2="SourceAlpha" operator="arithmetic" k1="0" k2="5" k3="0" k4="-2.28" result="m"/><feFlood flood-color="#b2b2b2"/><feComposite operator="in" in2="m"/></filter>
<filter id="f94" x="0" y="0" width="1" height="1" color-interpolation-filters="sRGB"><feTurbulence type="fractalNoise" baseFrequency="0.09" numOctaves="3" seed="83"/><feColorMatrix values="0 0 0 0 0 0 0 0 0 0 0 0 0 0 0 1 0 0 0 0" result="n"/><feComposite in="n" in2="SourceAlpha" operator="arithmetic" k1="0" k2="6" k3="0" k4="-3.11" result="m"/><feFlood flood-color="#424242"/><feComposite operator="in" in2="m"/></filter>
<path id="s47" d="M0 0C0.3 1.4 0.3 4.2 1.4 7.9C2.5 11.6 3.6 16.1 5.9 20.8C8.2 25.4 11.2 29 14.4 33.6C17.6 38.2 20.1 42.2 23.7 46.4C27.2 50.7 30.4 54.1 34.2 57.3C38 60.5 42 62.6 44.8 64.2C47.7 65.9 48.7 66 50 66.5C51.4 67 51.5 67.1 52.3 66.8C53.1 66.5 54.1 66.3 54.6 64.6C55.1 62.9 55 60.6 55.2 57.3C55.3 54 54.9 50.7 55.6 46.4C56.2 42.2 57.4 38.2 58.8 33.6C60.2 29 61.5 25.4 63.2 20.8C65 16.1 66.8 11.6 68.3 7.9C69.8 4.2 70.9 1.4 71.5 0Z"/><clipPath id="s47c"><use href="#s47"/></clipPath>
<path id="s48" d="M0 0C0.4 1.6 0.9 5.5 2.1 8.9C3.2 12.2 4.3 15.2 6.2 18.7C8 22.3 9.9 25 12.4 28.6C14.9 32.1 17.3 34.9 20.1 38.4C23 42 25 45 28.3 48.3C31.6 51.6 35.3 54.5 38.2 56.7C41.1 58.8 42.4 59.2 44.4 60.1C46.5 61 47.8 61.9 49.6 61.7C51.4 61.5 53.3 61.5 54.4 59.1C55.4 56.7 54.9 52 55.4 48.3C56 44.6 56.6 42 57.2 38.4C57.9 34.9 58 32.1 59 28.6C60 25 61.2 22.3 62.8 18.7C64.4 15.2 66.3 12.2 67.9 8.9C69.4 5.5 70.8 1.6 71.5 0Z"/><clipPath id="s48c"><use href="#s48"/></clipPath>
<filter id="f95" x="0" y="0" width="1" height="1" color-interpolation-filters="sRGB"><feTurbulence type="fractalNoise" baseFrequency="0.05" numOctaves="2" seed="71"/><feColorMatrix values="0 0 0 0 0 0 0 0 0 0 0 0 0 0 0 1 0 0 0 0" result="n"/><feComposite in="n" in2="SourceAlpha" operator="arithmetic" k1="0" k2="45" k3="18" k4="-31" result="m"/><feFlood flood-color="#1c8eff"/><feComposite operator="in" in2="m"/></filter>
<linearGradient id="g21" x1="1" y1="1" x2="0" y2="0"><stop offset="0.4" stop-color="#fff" stop-opacity="0"/><stop offset="1" stop-color="#fff" stop-opacity="1"/></linearGradient>
<filter id="f96" x="0" y="0" width="1" height="1" color-interpolation-filters="sRGB"><feTurbulence type="fractalNoise" baseFrequency="0.07" numOctaves="2" seed="83"/><feColorMatrix values="0 0 0 0 0 0 0 0 0 0 0 0 0 0 0 1 0 0 0 0" result="n"/><feComposite in="n" in2="SourceAlpha" operator="arithmetic" k1="0" k2="45" k3="22.5" k4="-42.7" result="m"/><feFlood flood-color="#b0ffff"/><feComposite operator="in" in2="m"/></filter>
<path id="s49" d="M0 0C0.3 1.4 0.3 4.1 1.4 7.8C2.5 11.4 3.6 15.8 5.9 20.4C8.2 24.9 11.2 28.5 14.4 33C17.6 37.5 20.1 41.4 23.7 45.6C27.2 49.8 30.4 53.1 34.2 56.3C38 59.4 42 61.5 44.8 63.1C47.7 64.7 48.7 64.9 50 65.3C51.4 65.8 51.5 65.9 52.3 65.6C53.1 65.3 54.1 65.1 54.6 63.5C55.1 61.8 55 59.5 55.2 56.3C55.3 53.1 54.9 49.8 55.6 45.6C56.2 41.4 57.4 37.5 58.8 33C60.2 28.5 61.5 24.9 63.2 20.4C65 15.8 66.8 11.4 68.3 7.8C69.8 4.1 70.9 1.4 71.5 0Z"/><clipPath id="s49c"><use href="#s49"/></clipPath>
<path id="s50" d="M0 0C0.6 1.6 1.6 5.4 3.1 8.7C4.6 12 6.1 14.9 8.3 18.4C10.4 21.9 12.4 24.6 15.1 28.1C17.8 31.5 20.4 34.5 23.3 37.7C26.3 40.9 28.9 43.5 31.6 45.9C34.3 48.2 35.6 49.3 38.2 50.7C40.9 52.1 43.6 53.7 46.5 53.8C49.5 53.9 52.9 52.8 54.6 51.3C56.3 49.8 55.4 47.9 55.9 45.5C56.3 43 56.7 40.9 57.2 37.7C57.8 34.6 58 31.5 59 28.1C60 24.6 61.2 21.9 62.8 18.4C64.4 14.9 66.3 12 67.9 8.7C69.4 5.4 70.8 1.6 71.5 0Z"/><clipPath id="s50c"><use href="#s50"/></clipPath>
<filter id="f97" x="0" y="0" width="1" height="1" color-interpolation-filters="sRGB"><feTurbulence type="fractalNoise" baseFrequency="0.06" numOctaves="2" seed="83"/><feColorMatrix values="0 0 0 0 0 0 0 0 0 0 0 0 0 0 0 1 0 0 0 0" result="n"/><feComposite in="n" in2="SourceAlpha" operator="arithmetic" k1="0" k2="45" k3="11.25" k4="-30.46" result="m"/><feFlood flood-color="#70ee70"/><feComposite operator="in" in2="m"/></filter>
<filter id="f98" x="0" y="0" width="1" height="1" color-interpolation-filters="sRGB"><feTurbulence type="fractalNoise" baseFrequency="0.07" numOctaves="2" seed="71"/><feColorMatrix values="0 0 0 0 0 0 0 0 0 0 0 0 0 0 0 1 0 0 0 0" result="n"/><feComposite in="n" in2="SourceAlpha" operator="arithmetic" k1="0" k2="45" k3="0" k4="-28.34" result="m"/><feFlood flood-color="#108020"/><feComposite operator="in" in2="m"/></filter>
<path id="s51" d="M0 0C0.3 1.4 0.3 4.1 1.4 7.8C2.5 11.5 3.6 15.9 5.9 20.4C8.2 25 11.2 28.5 14.4 33.1C17.6 37.7 20.1 41.5 23.7 45.7C27.2 50 30.4 53.3 34.2 56.5C38 59.6 42 61.6 44.8 63.3C47.7 64.9 48.7 65.1 50 65.5C51.4 66 51.5 66.1 52.3 65.8C53.1 65.5 54.1 65.3 54.6 63.7C55.1 62 55 59.7 55.2 56.5C55.3 53.2 54.9 50 55.6 45.7C56.2 41.5 57.4 37.7 58.8 33.1C60.2 28.5 61.5 25 63.2 20.4C65 15.9 66.8 11.5 68.3 7.8C69.8 4.1 70.9 1.4 71.5 0Z"/><clipPath id="s51c"><use href="#s51"/></clipPath>
<path id="s51l" d="M0 0C0.3 1.4 0.3 4.1 1.4 7.8C2.5 11.5 3.6 15.9 5.9 20.4C8.2 25 11.2 28.5 14.4 33.1C17.6 37.7 20.1 41.5 23.7 45.7C27.2 50 30.4 53.3 34.2 56.5C38 59.6 42 61.6 44.8 63.3C47.7 64.9 48.7 65.1 50 65.5C51.4 66 51.9 65.7 52.3 65.8"/>
<path id="s51f" d="M14.4 33.1C16 35.4 20.1 41.5 23.7 45.7C27.2 50 30.4 53.3 34.2 56.5C38 59.6 42 61.6 44.8 63.3C47.7 64.9 48.7 65.1 50 65.5C51.4 66 51.9 65.7 52.3 65.8"/>
<filter id="f99" x="0" y="0" width="1" height="1" color-interpolation-filters="sRGB"><feTurbulence type="fractalNoise" baseFrequency="0.1 0.06" numOctaves="3" seed="71"/><feColorMatrix values="0 0 0 0 0 0 0 0 0 0 0 0 0 0 0 1 0 0 0 0" result="n"/><feComposite in="n" in2="SourceAlpha" operator="arithmetic" k1="0" k2="5" k3="0" k4="-2.28" result="m"/><feFlood flood-color="#bcbcbc"/><feComposite operator="in" in2="m"/></filter>
<filter id="f100" x="0" y="0" width="1" height="1" color-interpolation-filters="sRGB"><feTurbulence type="fractalNoise" baseFrequency="0.09" numOctaves="3" seed="83"/><feColorMatrix values="0 0 0 0 0 0 0 0 0 0 0 0 0 0 0 1 0 0 0 0" result="n"/><feComposite in="n" in2="SourceAlpha" operator="arithmetic" k1="0" k2="6" k3="0" k4="-3.11" result="m"/><feFlood flood-color="#4c4c4c"/><feComposite operator="in" in2="m"/></filter>
<linearGradient id="g22" x1="1" y1="0" x2="0" y2="1"><stop offset="0.25" stop-color="#fff" stop-opacity="0"/><stop offset="0.95" stop-color="#fff" stop-opacity="1"/></linearGradient>
<filter id="f101" x="0" y="0" width="1" height="1" color-interpolation-filters="sRGB"><feTurbulence type="fractalNoise" baseFrequency="0.07" numOctaves="2" seed="97"/><feColorMatrix values="0 0 0 0 0 0 0 0 0 0 0 0 0 0 0 1 0 0 0 0" result="n"/><feComposite in="n" in2="SourceAlpha" operator="arithmetic" k1="0" k2="30" k3="16.5" k4="-29" result="m"/><feFlood flood-color="#f8860e"/><feComposite operator="in" in2="m"/></filter>
<filter id="f102" x="0" y="0" width="1" height="1" color-interpolation-filters="sRGB"><feTurbulence type="fractalNoise" baseFrequency="0.12" numOctaves="2" seed="9"/><feColorMatrix values="0 0 0 0 0 0 0 0 0 0 0 0 0 0 0 1 0 0 0 0" result="n"/><feComposite in="n" in2="SourceAlpha" operator="arithmetic" k1="0" k2="30" k3="0" k4="-22.31" result="m"/><feFlood flood-color="#f8860e"/><feComposite operator="in" in2="m"/></filter>
<filter id="f103" x="0" y="0" width="1" height="1" color-interpolation-filters="sRGB"><feTurbulence type="fractalNoise" baseFrequency="0.14" numOctaves="2" seed="3"/><feColorMatrix values="0 0 0 0 0 0 0 0 0 0 0 0 0 0 0 1 0 0 0 0" result="n"/><feComposite in="n" in2="SourceAlpha" operator="arithmetic" k1="0" k2="20" k3="3" k4="-15.42" result="m"/><feFlood flood-color="#f8ee18"/><feComposite operator="in" in2="m"/></filter>
<path id="s52" d="M0 0C0.3 1.4 0.3 4.2 1.4 7.9C2.4 11.6 3.5 16.1 5.9 20.8C8.2 25.4 11.1 29 14.2 33.6C17.4 38.2 19.9 42.2 23.4 46.4C27 50.7 30.1 54.1 33.9 57.3C37.7 60.5 41.6 62.6 44.4 64.2C47.2 65.9 48.2 66 49.5 66.5C50.9 67 51 67.1 51.8 66.8C52.6 66.5 53.6 66.3 54.1 64.6C54.6 62.9 54.5 60.6 54.6 57.3C54.8 54 54.4 50.7 55 46.4C55.7 42.2 56.8 38.2 58.2 33.6C59.6 29 60.9 25.4 62.6 20.8C64.3 16.1 66.2 11.6 67.7 7.9C69.1 4.2 70.2 1.4 70.8 0Z"/><clipPath id="s52c"><use href="#s52"/></clipPath>
<path id="s53" d="M0 0C0.4 1.6 0.9 5.5 2 8.9C3.1 12.2 4.3 15.2 6.1 18.7C8 22.3 9.8 25 12.3 28.6C14.7 32.1 17.1 34.9 19.9 38.4C22.8 42 24.8 45 28 48.3C31.3 51.6 35 54.5 37.9 56.7C40.7 58.8 42 59.2 44 60.1C46 61 47.4 61.9 49.1 61.7C50.9 61.5 52.8 61.5 53.9 59.1C54.9 56.7 54.4 52 54.9 48.3C55.4 44.6 56 42 56.7 38.4C57.3 34.9 57.5 32.1 58.4 28.6C59.4 25 60.6 22.3 62.1 18.7C63.7 15.2 65.6 12.2 67.2 8.9C68.8 5.5 70.2 1.6 70.8 0Z"/><clipPath id="s53c"><use href="#s53"/></clipPath>
<linearGradient id="g23" x1="0" y1="0" x2="1" y2="0"><stop offset="0" stop-color="#fff" stop-opacity="0"/><stop offset="1" stop-color="#fff" stop-opacity="1"/></linearGradient>
<filter id="f104" x="0" y="0" width="1" height="1" color-interpolation-filters="sRGB"><feTurbulence type="fractalNoise" baseFrequency="0.05" numOctaves="2" seed="71"/><feColorMatrix values="0 0 0 0 0 0 0 0 0 0 0 0 0 0 0 1 0 0 0 0" result="n"/><feComposite in="n" in2="SourceAlpha" operator="arithmetic" k1="0" k2="45" k3="9" k4="-27.59" result="m"/><feFlood flood-color="#0a62e2"/><feComposite operator="in" in2="m"/></filter>
<filter id="f105" x="0" y="0" width="1" height="1" color-interpolation-filters="sRGB"><feTurbulence type="fractalNoise" baseFrequency="0.09" numOctaves="2" seed="83"/><feColorMatrix values="0 0 0 0 0 0 0 0 0 0 0 0 0 0 0 1 0 0 0 0" result="n"/><feComposite in="n" in2="SourceAlpha" operator="arithmetic" k1="0" k2="16" k3="7.2" k4="-13.93" result="m"/><feFlood flood-color="#000090"/><feComposite operator="in" in2="m"/></filter>
<filter id="f106" x="0" y="0" width="1" height="1" color-interpolation-filters="sRGB"><feTurbulence type="fractalNoise" baseFrequency="0.1" numOctaves="2" seed="5"/><feColorMatrix values="0 0 0 0 0 0 0 0 0 0 0 0 0 0 0 1 0 0 0 0" result="n"/><feComposite in="n" in2="SourceAlpha" operator="arithmetic" k1="0" k2="14" k3="0" k4="-9.95" result="m"/><feFlood flood-color="#30d8ff"/><feComposite operator="in" in2="m"/></filter>
<path id="s54" d="M0 0C0.3 1.4 0.3 4.1 1.4 7.8C2.4 11.4 3.5 15.8 5.9 20.4C8.2 24.9 11.1 28.5 14.2 33C17.4 37.5 19.9 41.4 23.4 45.6C27 49.8 30.1 53.1 33.9 56.3C37.7 59.4 41.6 61.5 44.4 63.1C47.2 64.7 48.2 64.9 49.5 65.3C50.9 65.8 51 65.9 51.8 65.6C52.6 65.3 53.6 65.1 54.1 63.5C54.6 61.8 54.5 59.5 54.6 56.3C54.8 53.1 54.4 49.8 55 45.6C55.7 41.4 56.8 37.5 58.2 33C59.6 28.5 60.9 24.9 62.6 20.4C64.3 15.8 66.2 11.4 67.7 7.8C69.1 4.1 70.2 1.4 70.8 0Z"/><clipPath id="s54c"><use href="#s54"/></clipPath>
<path id="s55" d="M0 0C0.6 1.6 1.6 5.4 3.1 8.7C4.5 12 6 14.9 8.2 18.4C10.3 21.9 12.2 24.6 14.9 28.1C17.6 31.5 20.2 34.5 23.1 37.7C26.1 40.9 28.7 43.5 31.3 45.9C34 48.2 35.2 49.3 37.9 50.7C40.5 52.1 43.2 53.7 46.1 53.8C49 53.9 52.4 52.8 54.1 51.3C55.7 49.8 54.9 47.9 55.3 45.5C55.8 43 56.1 40.9 56.7 37.7C57.2 34.6 57.5 31.5 58.4 28.1C59.4 24.6 60.6 21.9 62.1 18.4C63.7 14.9 65.6 12 67.2 8.7C68.8 5.4 70.2 1.6 70.8 0Z"/><clipPath id="s55c"><use href="#s55"/></clipPath>
<filter id="f107" x="0" y="0" width="1" height="1" color-interpolation-filters="sRGB"><feTurbulence type="fractalNoise" baseFrequency="0.06" numOctaves="2" seed="83"/><feColorMatrix values="0 0 0 0 0 0 0 0 0 0 0 0 0 0 0 1 0 0 0 0" result="n"/><feComposite in="n" in2="SourceAlpha" operator="arithmetic" k1="0" k2="45" k3="18" k4="-35.54" result="m"/><feFlood flood-color="#66e070"/><feComposite operator="in" in2="m"/></filter>
<filter id="f108" x="0" y="0" width="1" height="1" color-interpolation-filters="sRGB"><feTurbulence type="fractalNoise" baseFrequency="0.06" numOctaves="2" seed="71"/><feColorMatrix values="0 0 0 0 0 0 0 0 0 0 0 0 0 0 0 1 0 0 0 0" result="n"/><feComposite in="n" in2="SourceAlpha" operator="arithmetic" k1="0" k2="45" k3="9" k4="-30.67" result="m"/><feFlood flood-color="#108020"/><feComposite operator="in" in2="m"/></filter>
<path id="s56" d="M0 0C0.3 1.4 0.3 4.1 1.4 7.8C2.4 11.5 3.5 15.9 5.9 20.4C8.2 25 11.1 28.5 14.2 33.1C17.4 37.7 19.9 41.5 23.4 45.7C27 50 30.1 53.3 33.9 56.5C37.7 59.6 41.6 61.6 44.4 63.3C47.2 64.9 48.2 65.1 49.5 65.5C50.9 66 51 66.1 51.8 65.8C52.6 65.5 53.6 65.3 54.1 63.7C54.6 62 54.5 59.7 54.6 56.5C54.8 53.2 54.4 50 55 45.7C55.7 41.5 56.8 37.7 58.2 33.1C59.6 28.5 60.9 25 62.6 20.4C64.3 15.9 66.2 11.5 67.7 7.8C69.1 4.1 70.2 1.4 70.8 0Z"/><clipPath id="s56c"><use href="#s56"/></clipPath>
<path id="s56l" d="M0 0C0.3 1.4 0.3 4.1 1.4 7.8C2.4 11.5 3.5 15.9 5.9 20.4C8.2 25 11.1 28.5 14.2 33.1C17.4 37.7 19.9 41.5 23.4 45.7C27 50 30.1 53.3 33.9 56.5C37.7 59.6 41.6 61.6 44.4 63.3C47.2 64.9 48.2 65.1 49.5 65.5C50.9 66 51.4 65.7 51.8 65.8"/>
<path id="s56f" d="M14.2 33.1C15.9 35.4 19.9 41.5 23.4 45.7C27 50 30.1 53.3 33.9 56.5C37.7 59.6 41.6 61.6 44.4 63.3C47.2 64.9 48.2 65.1 49.5 65.5C50.9 66 51.4 65.7 51.8 65.8"/>
<filter id="f109" x="0" y="0" width="1" height="1" color-interpolation-filters="sRGB"><feTurbulence type="fractalNoise" baseFrequency="0.1 0.06" numOctaves="3" seed="71"/><feColorMatrix values="0 0 0 0 0 0 0 0 0 0 0 0 0 0 0 1 0 0 0 0" result="n"/><feComposite in="n" in2="SourceAlpha" operator="arithmetic" k1="0" k2="5" k3="0" k4="-2.28" result="m"/><feFlood flood-color="#c6c6c6"/><feComposite operator="in" in2="m"/></filter>
<filter id="f110" x="0" y="0" width="1" height="1" color-interpolation-filters="sRGB"><feTurbulence type="fractalNoise" baseFrequency="0.09" numOctaves="3" seed="83"/><feColorMatrix values="0 0 0 0 0 0 0 0 0 0 0 0 0 0 0 1 0 0 0 0" result="n"/><feComposite in="n" in2="SourceAlpha" operator="arithmetic" k1="0" k2="6" k3="0" k4="-3.11" result="m"/><feFlood flood-color="#565656"/><feComposite operator="in" in2="m"/></filter>
<filter id="f111" x="0" y="0" width="1" height="1" color-interpolation-filters="sRGB"><feTurbulence type="fractalNoise" baseFrequency="0.07" numOctaves="2" seed="97"/><feColorMatrix values="0 0 0 0 0 0 0 0 0 0 0 0 0 0 0 1 0 0 0 0" result="n"/><feComposite in="n" in2="SourceAlpha" operator="arithmetic" k1="0" k2="30" k3="16.5" k4="-28.12" result="m"/><feFlood flood-color="#f8860e"/><feComposite operator="in" in2="m"/></filter>
<filter id="f112" x="0" y="0" width="1" height="1" color-interpolation-filters="sRGB"><feTurbulence type="fractalNoise" baseFrequency="0.14" numOctaves="2" seed="3"/><feColorMatrix values="0 0 0 0 0 0 0 0 0 0 0 0 0 0 0 1 0 0 0 0" result="n"/><feComposite in="n" in2="SourceAlpha" operator="arithmetic" k1="0" k2="20" k3="3" k4="-15.11" result="m"/><feFlood flood-color="#f8ee18"/><feComposite operator="in" in2="m"/></filter>
<path id="s57" d="M0 0C0.3 1.4 0.4 4.2 1.4 7.9C2.5 11.6 3.7 16.1 6 20.8C8.4 25.4 11.4 29 14.6 33.6C17.8 38.2 20.4 42.2 24 46.4C27.6 50.7 30.8 54.1 34.7 57.3C38.5 60.5 42.5 62.6 45.4 64.2C48.2 65.9 49.2 66 50.6 66.5C52 67 52.1 67.1 52.9 66.8C53.7 66.5 54.7 66.3 55.2 64.6C55.7 62.9 55.6 60.6 55.8 57.3C55.9 54 55.5 50.7 56.1 46.4C56.7 42.2 57.9 38.2 59.3 33.6C60.7 29 62 25.4 63.7 20.8C65.5 16.1 67.3 11.6 68.8 7.9C70.3 4.2 71.4 1.4 72 0Z"/><clipPath id="s57c"><use href="#s57"/></clipPath>
<path id="s58" d="M0 0C0.4 1.6 1 5.5 2.1 8.9C3.2 12.2 4.4 15.2 6.3 18.7C8.2 22.3 10 25 12.6 28.6C15.1 32.1 17.5 34.9 20.4 38.4C23.3 42 25.4 45 28.7 48.3C32 51.6 35.8 54.5 38.7 56.7C41.6 58.8 42.9 59.2 45 60.1C47 61 48.4 61.9 50.2 61.7C52 61.5 53.9 61.5 55 59.1C56 56.7 55.5 52 56 48.3C56.5 44.6 57.1 42 57.8 38.4C58.4 34.9 58.5 32.1 59.5 28.6C60.5 25 61.7 22.3 63.3 18.7C64.9 15.2 66.8 12.2 68.4 8.9C69.9 5.5 71.3 1.6 72 0Z"/><clipPath id="s58c"><use href="#s58"/></clipPath>
<linearGradient id="g24" x1="1" y1="1" x2="0" y2="0"><stop offset="0.2" stop-color="#fff" stop-opacity="0"/><stop offset="1" stop-color="#fff" stop-opacity="1"/></linearGradient>
<filter id="f113" x="0" y="0" width="1" height="1" color-interpolation-filters="sRGB"><feTurbulence type="fractalNoise" baseFrequency="0.06" numOctaves="2" seed="83"/><feColorMatrix values="0 0 0 0 0 0 0 0 0 0 0 0 0 0 0 1 0 0 0 0" result="n"/><feComposite in="n" in2="SourceAlpha" operator="arithmetic" k1="0" k2="45" k3="18" k4="-34.81" result="m"/><feFlood flood-color="#3cdcff"/><feComposite operator="in" in2="m"/></filter>
<filter id="f114" x="0" y="0" width="1" height="1" color-interpolation-filters="sRGB"><feTurbulence type="fractalNoise" baseFrequency="0.06" numOctaves="2" seed="71"/><feColorMatrix values="0 0 0 0 0 0 0 0 0 0 0 0 0 0 0 1 0 0 0 0" result="n"/><feComposite in="n" in2="SourceAlpha" operator="arithmetic" k1="0" k2="45" k3="0" k4="-28.34" result="m"/><feFlood flood-color="#0a6ce8"/><feComposite operator="in" in2="m"/></filter>
<path id="s59" d="M0 0C0.3 1.4 0.4 4.1 1.4 7.8C2.5 11.4 3.7 15.8 6 20.4C8.4 24.9 11.4 28.5 14.6 33C17.8 37.5 20.4 41.4 24 45.6C27.6 49.8 30.8 53.1 34.7 56.3C38.5 59.4 42.5 61.5 45.4 63.1C48.2 64.7 49.2 64.9 50.6 65.3C52 65.8 52.1 65.9 52.9 65.6C53.7 65.3 54.7 65.1 55.2 63.5C55.7 61.8 55.6 59.5 55.8 56.3C55.9 53.1 55.5 49.8 56.1 45.6C56.7 41.4 57.9 37.5 59.3 33C60.7 28.5 62 24.9 63.7 20.4C65.5 15.8 67.3 11.4 68.8 7.8C70.3 4.1 71.4 1.4 72 0Z"/><clipPath id="s59c"><use href="#s59"/></clipPath>
<path id="s60" d="M0 0C0.6 1.6 1.6 5.4 3.1 8.7C4.7 12 6.2 14.9 8.4 18.4C10.6 21.9 12.5 24.6 15.3 28.1C18 31.5 20.6 34.5 23.6 37.7C26.7 40.9 29.3 43.5 32 45.9C34.7 48.2 36 49.3 38.7 50.7C41.4 52.1 44.1 53.7 47 53.8C50 53.9 53.5 52.8 55.2 51.3C56.9 49.8 56 47.9 56.4 45.5C56.9 43 57.2 40.9 57.8 37.7C58.3 34.6 58.5 31.5 59.5 28.1C60.5 24.6 61.7 21.9 63.3 18.4C64.9 14.9 66.8 12 68.4 8.7C69.9 5.4 71.3 1.6 72 0Z"/><clipPath id="s60c"><use href="#s60"/></clipPath>
<filter id="f115" x="0" y="0" width="1" height="1" color-interpolation-filters="sRGB"><feTurbulence type="fractalNoise" baseFrequency="0.05" numOctaves="2" seed="71"/><feColorMatrix values="0 0 0 0 0 0 0 0 0 0 0 0 0 0 0 1 0 0 0 0" result="n"/><feComposite in="n" in2="SourceAlpha" operator="arithmetic" k1="0" k2="45" k3="13.5" k4="-29.29" result="m"/><feFlood flood-color="#108020"/><feComposite operator="in" in2="m"/></filter>
<filter id="f116" x="0" y="0" width="1" height="1" color-interpolation-filters="sRGB"><feTurbulence type="fractalNoise" baseFrequency="0.08" numOctaves="2" seed="83"/><feColorMatrix values="0 0 0 0 0 0 0 0 0 0 0 0 0 0 0 1 0 0 0 0" result="n"/><feComposite in="n" in2="SourceAlpha" operator="arithmetic" k1="0" k2="16" k3="0" k4="-11.11" result="m"/><feFlood flood-color="#66e070"/><feComposite operator="in" in2="m"/></filter>
<path id="s61" d="M0 0C0.3 1.4 0.4 4.1 1.4 7.8C2.5 11.5 3.7 15.9 6 20.4C8.4 25 11.4 28.5 14.6 33.1C17.8 37.7 20.4 41.5 24 45.7C27.6 50 30.8 53.3 34.7 56.5C38.5 59.6 42.5 61.6 45.4 63.3C48.2 64.9 49.2 65.1 50.6 65.5C52 66 52.1 66.1 52.9 65.8C53.7 65.5 54.7 65.3 55.2 63.7C55.7 62 55.6 59.7 55.8 56.5C55.9 53.2 55.5 50 56.1 45.7C56.7 41.5 57.9 37.7 59.3 33.1C60.7 28.5 62 25 63.7 20.4C65.5 15.9 67.3 11.5 68.8 7.8C70.3 4.1 71.4 1.4 72 0Z"/><clipPath id="s61c"><use href="#s61"/></clipPath>
<path id="s61l" d="M0 0C0.3 1.4 0.4 4.1 1.4 7.8C2.5 11.5 3.7 15.9 6 20.4C8.4 25 11.4 28.5 14.6 33.1C17.8 37.7 20.4 41.5 24 45.7C27.6 50 30.8 53.3 34.7 56.5C38.5 59.6 42.5 61.6 45.4 63.3C48.2 64.9 49.2 65.1 50.6 65.5C52 66 52.5 65.7 52.9 65.8"/>
<path id="s61f" d="M14.6 33.1C16.3 35.4 20.4 41.5 24 45.7C27.6 50 30.8 53.3 34.7 56.5C38.5 59.6 42.5 61.6 45.4 63.3C48.2 64.9 49.2 65.1 50.6 65.5C52 66 52.5 65.7 52.9 65.8"/>
<filter id="f117" x="0" y="0" width="1" height="1" color-interpolation-filters="sRGB"><feTurbulence type="fractalNoise" baseFrequency="0.1 0.06" numOctaves="3" seed="71"/><feColorMatrix values="0 0 0 0 0 0 0 0 0 0 0 0 0 0 0 1 0 0 0 0" result="n"/><feComposite in="n" in2="SourceAlpha" operator="arithmetic" k1="0" k2="5" k3="0" k4="-2.28" result="m"/><feFlood flood-color="#d0d0d0"/><feComposite operator="in" in2="m"/></filter>
<filter id="f118" x="0" y="0" width="1" height="1" color-interpolation-filters="sRGB"><feTurbulence type="fractalNoise" baseFrequency="0.09" numOctaves="3" seed="83"/><feColorMatrix values="0 0 0 0 0 0 0 0 0 0 0 0 0 0 0 1 0 0 0 0" result="n"/><feComposite in="n" in2="SourceAlpha" operator="arithmetic" k1="0" k2="6" k3="0" k4="-3.11" result="m"/><feFlood flood-color="#606060"/><feComposite operator="in" in2="m"/></filter>
<filter id="f119" x="0" y="0" width="1" height="1" color-interpolation-filters="sRGB"><feTurbulence type="fractalNoise" baseFrequency="0.07" numOctaves="2" seed="97"/><feColorMatrix values="0 0 0 0 0 0 0 0 0 0 0 0 0 0 0 1 0 0 0 0" result="n"/><feComposite in="n" in2="SourceAlpha" operator="arithmetic" k1="0" k2="30" k3="16.5" k4="-27.26" result="m"/><feFlood flood-color="#f8860e"/><feComposite operator="in" in2="m"/></filter>
<filter id="f120" x="0" y="0" width="1" height="1" color-interpolation-filters="sRGB"><feTurbulence type="fractalNoise" baseFrequency="0.14" numOctaves="2" seed="3"/><feColorMatrix values="0 0 0 0 0 0 0 0 0 0 0 0 0 0 0 1 0 0 0 0" result="n"/><feComposite in="n" in2="SourceAlpha" operator="arithmetic" k1="0" k2="20" k3="3" k4="-15.32" result="m"/><feFlood flood-color="#f8ee18"/><feComposite operator="in" in2="m"/></filter>
<path id="s62" d="M0 0C0.3 1.4 0.4 4.2 1.4 7.9C2.5 11.6 3.7 16.1 6 20.8C8.4 25.4 11.3 29 14.6 33.6C17.8 38.2 20.3 42.2 23.9 46.4C27.5 50.7 30.7 54.1 34.6 57.3C38.4 60.5 42.3 62.6 45.2 64.2C48 65.9 49.1 66 50.4 66.5C51.8 67 51.9 67.1 52.7 66.8C53.5 66.5 54.5 66.3 55 64.6C55.5 62.9 55.4 60.6 55.5 57.3C55.7 54 55.2 50.7 55.9 46.4C56.5 42.2 57.7 38.2 59 33.6C60.4 29 61.7 25.4 63.4 20.8C65.1 16.1 67 11.6 68.5 7.9C69.9 4.2 71 1.4 71.6 0Z"/><clipPath id="s62c"><use href="#s62"/></clipPath>
<path id="s63" d="M0 0C0.4 1.6 1 5.5 2.1 8.9C3.2 12.2 4.4 15.2 6.3 18.7C8.2 22.3 10 25 12.5 28.6C15.1 32.1 17.5 34.9 20.3 38.4C23.2 42 25.3 45 28.6 48.3C31.9 51.6 35.6 54.5 38.6 56.7C41.5 58.8 42.7 59.2 44.8 60.1C46.9 61 48.2 61.9 50 61.7C51.8 61.5 53.7 61.5 54.8 59.1C55.8 56.7 55.3 52 55.8 48.3C56.3 44.6 56.9 42 57.5 38.4C58.1 34.9 58.3 32.1 59.2 28.6C60.2 25 61.4 22.3 62.9 18.7C64.5 15.2 66.4 12.2 68 8.9C69.6 5.5 71 1.6 71.6 0Z"/><clipPath id="s63c"><use href="#s63"/></clipPath>
<filter id="f121" x="0" y="0" width="1" height="1" color-interpolation-filters="sRGB"><feTurbulence type="fractalNoise" baseFrequency="0.06" numOctaves="2" seed="71"/><feColorMatrix values="0 0 0 0 0 0 0 0 0 0 0 0 0 0 0 1 0 0 0 0" result="n"/><feComposite in="n" in2="SourceAlpha" operator="arithmetic" k1="0" k2="45" k3="18" k4="-33.83" result="m"/><feFlood flood-color="#00008c"/><feComposite operator="in" in2="m"/></filter>
<filter id="f122" x="0" y="0" width="1" height="1" color-interpolation-filters="sRGB"><feTurbulence type="fractalNoise" baseFrequency="0.1" numOctaves="2" seed="5"/><feColorMatrix values="0 0 0 0 0 0 0 0 0 0 0 0 0 0 0 1 0 0 0 0" result="n"/><feComposite in="n" in2="SourceAlpha" operator="arithmetic" k1="0" k2="14" k3="0" k4="-9.95" result="m"/><feFlood flood-color="#2ad0ff"/><feComposite operator="in" in2="m"/></filter>
<path id="s64" d="M0 0C0.3 1.4 0.4 4.1 1.4 7.8C2.5 11.4 3.7 15.8 6 20.4C8.4 24.9 11.3 28.5 14.6 33C17.8 37.5 20.3 41.4 23.9 45.6C27.5 49.8 30.7 53.1 34.6 56.3C38.4 59.4 42.3 61.5 45.2 63.1C48 64.7 49.1 64.9 50.4 65.3C51.8 65.8 51.9 65.9 52.7 65.6C53.5 65.3 54.5 65.1 55 63.5C55.5 61.8 55.4 59.5 55.5 56.3C55.7 53.1 55.2 49.8 55.9 45.6C56.5 41.4 57.7 37.5 59 33C60.4 28.5 61.7 24.9 63.4 20.4C65.1 15.8 67 11.4 68.5 7.8C69.9 4.1 71 1.4 71.6 0Z"/><clipPath id="s64c"><use href="#s64"/></clipPath>
<path id="s65" d="M0 0C0.6 1.6 1.6 5.4 3.1 8.7C4.6 12 6.2 14.9 8.4 18.4C10.5 21.9 12.5 24.6 15.2 28.1C18 31.5 20.6 34.5 23.6 37.7C26.6 40.9 29.2 43.5 31.9 45.9C34.6 48.2 35.8 49.3 38.5 50.7C41.2 52.1 43.9 53.7 46.9 53.8C49.8 53.9 53.3 52.8 54.9 51.3C56.6 49.8 55.7 47.9 56.2 45.5C56.6 43 56.9 40.9 57.5 37.7C58 34.6 58.3 31.5 59.2 28.1C60.2 24.6 61.4 21.9 62.9 18.4C64.5 14.9 66.4 12 68 8.7C69.6 5.4 71 1.6 71.6 0Z"/><clipPath id="s65c"><use href="#s65"/></clipPath>
<filter id="f123" x="0" y="0" width="1" height="1" color-interpolation-filters="sRGB"><feTurbulence type="fractalNoise" baseFrequency="0.05" numOctaves="2" seed="71"/><feColorMatrix values="0 0 0 0 0 0 0 0 0 0 0 0 0 0 0 1 0 0 0 0" result="n"/><feComposite in="n" in2="SourceAlpha" operator="arithmetic" k1="0" k2="45" k3="13.5" k4="-29.84" result="m"/><feFlood flood-color="#20b060"/><feComposite operator="in" in2="m"/></filter>
<path id="s66" d="M0 0C0.3 1.4 0.4 4.1 1.4 7.8C2.5 11.5 3.7 15.9 6 20.4C8.4 25 11.3 28.5 14.6 33.1C17.8 37.7 20.3 41.5 23.9 45.7C27.5 50 30.7 53.3 34.6 56.5C38.4 59.6 42.3 61.6 45.2 63.3C48 64.9 49.1 65.1 50.4 65.5C51.8 66 51.9 66.1 52.7 65.8C53.5 65.5 54.5 65.3 55 63.7C55.5 62 55.4 59.7 55.5 56.5C55.7 53.2 55.2 50 55.9 45.7C56.5 41.5 57.7 37.7 59 33.1C60.4 28.5 61.7 25 63.4 20.4C65.1 15.9 67 11.5 68.5 7.8C69.9 4.1 71 1.4 71.6 0Z"/><clipPath id="s66c"><use href="#s66"/></clipPath>
<path id="s66l" d="M0 0C0.3 1.4 0.4 4.1 1.4 7.8C2.5 11.5 3.7 15.9 6 20.4C8.4 25 11.3 28.5 14.6 33.1C17.8 37.7 20.3 41.5 23.9 45.7C27.5 50 30.7 53.3 34.6 56.5C38.4 59.6 42.3 61.6 45.2 63.3C48 64.9 49.1 65.1 50.4 65.5C51.8 66 52.3 65.7 52.7 65.8"/>
<path id="s66f" d="M14.6 33.1C16.2 35.4 20.3 41.5 23.9 45.7C27.5 50 30.7 53.3 34.6 56.5C38.4 59.6 42.3 61.6 45.2 63.3C48 64.9 49.1 65.1 50.4 65.5C51.8 66 52.3 65.7 52.7 65.8"/>
<filter id="f124" x="0" y="0" width="1" height="1" color-interpolation-filters="sRGB"><feTurbulence type="fractalNoise" baseFrequency="0.1 0.06" numOctaves="3" seed="71"/><feColorMatrix values="0 0 0 0 0 0 0 0 0 0 0 0 0 0 0 1 0 0 0 0" result="n"/><feComposite in="n" in2="SourceAlpha" operator="arithmetic" k1="0" k2="5" k3="0" k4="-2.28" result="m"/><feFlood flood-color="#d4d4d4"/><feComposite operator="in" in2="m"/></filter>
<filter id="f125" x="0" y="0" width="1" height="1" color-interpolation-filters="sRGB"><feTurbulence type="fractalNoise" baseFrequency="0.09" numOctaves="3" seed="83"/><feColorMatrix values="0 0 0 0 0 0 0 0 0 0 0 0 0 0 0 1 0 0 0 0" result="n"/><feComposite in="n" in2="SourceAlpha" operator="arithmetic" k1="0" k2="6" k3="0" k4="-3.11" result="m"/><feFlood flood-color="#646464"/><feComposite operator="in" in2="m"/></filter>
<filter id="f126" x="0" y="0" width="1" height="1" color-interpolation-filters="sRGB"><feTurbulence type="fractalNoise" baseFrequency="0.07" numOctaves="2" seed="97"/><feColorMatrix values="0 0 0 0 0 0 0 0 0 0 0 0 0 0 0 1 0 0 0 0" result="n"/><feComposite in="n" in2="SourceAlpha" operator="arithmetic" k1="0" k2="30" k3="16.5" k4="-26.44" result="m"/><feFlood flood-color="#f8860e"/><feComposite operator="in" in2="m"/></filter>
<filter id="f127" x="0" y="0" width="1" height="1" color-interpolation-filters="sRGB"><feTurbulence type="fractalNoise" baseFrequency="0.14" numOctaves="2" seed="3"/><feColorMatrix values="0 0 0 0 0 0 0 0 0 0 0 0 0 0 0 1 0 0 0 0" result="n"/><feComposite in="n" in2="SourceAlpha" operator="arithmetic" k1="0" k2="20" k3="3" k4="-15.7" result="m"/><feFlood flood-color="#f8ee18"/><feComposite operator="in" in2="m"/></filter>
<path id="s67" d="M0 0C0.3 1.4 0.4 4.2 1.4 7.9C2.5 11.6 3.6 16.1 5.8 20.8C8.1 25.4 11 29 14.1 33.6C17.2 38.2 19.7 42.2 23.2 46.4C26.7 50.7 29.8 54.1 33.5 57.3C37.2 60.5 41 62.6 43.7 64.2C46.5 65.9 47.5 66 48.8 66.5C50.1 67 50.2 67.1 51 66.8C51.8 66.5 52.7 66.3 53.2 64.6C53.7 62.9 53.6 60.6 53.7 57.3C53.9 54 53.4 50.7 54 46.4C54.6 42.2 55.8 38.2 57.1 33.6C58.4 29 59.7 25.4 61.3 20.8C63 16.1 64.8 11.6 66.2 7.9C67.6 4.2 68.7 1.4 69.2 0Z"/><clipPath id="s67c"><use href="#s67"/></clipPath>
<path id="s68" d="M0 0C0.4 1.6 0.9 5.5 2 8.9C3.1 12.2 4.3 15.2 6.1 18.7C7.9 22.3 9.7 25 12.1 28.6C14.6 32.1 16.9 34.9 19.7 38.4C22.5 42 24.5 45 27.7 48.3C30.8 51.6 34.5 54.5 37.3 56.7C40.1 58.8 41.4 59.2 43.4 60.1C45.3 61 46.6 61.9 48.4 61.7C50.1 61.5 52 61.5 53 59.1C54 56.7 53.5 52 53.9 48.3C54.4 44.6 55 42 55.6 38.4C56.2 34.9 56.3 32.1 57.3 28.6C58.2 25 59.3 22.3 60.8 18.7C62.4 15.2 64.2 12.2 65.7 8.9C67.2 5.5 68.6 1.6 69.2 0Z"/><clipPath id="s68c"><use href="#s68"/></clipPath>
<filter id="f128" x="0" y="0" width="1" height="1" color-interpolation-filters="sRGB"><feTurbulence type="fractalNoise" baseFrequency="0.05" numOctaves="2" seed="71"/><feColorMatrix values="0 0 0 0 0 0 0 0 0 0 0 0 0 0 0 1 0 0 0 0" result="n"/><feComposite in="n" in2="SourceAlpha" operator="arithmetic" k1="0" k2="45" k3="20.25" k4="-33.22" result="m"/><feFlood flood-color="#1c84f4"/><feComposite operator="in" in2="m"/></filter>
<path id="s69" d="M0 0C0.3 1.4 0.4 4.1 1.4 7.8C2.5 11.4 3.6 15.8 5.8 20.4C8.1 24.9 11 28.5 14.1 33C17.2 37.5 19.7 41.4 23.2 45.6C26.7 49.8 29.8 53.1 33.5 56.3C37.2 59.4 41 61.5 43.7 63.1C46.5 64.7 47.5 64.9 48.8 65.3C50.1 65.8 50.2 65.9 51 65.6C51.8 65.3 52.7 65.1 53.2 63.5C53.7 61.8 53.6 59.5 53.7 56.3C53.9 53.1 53.4 49.8 54 45.6C54.6 41.4 55.8 37.5 57.1 33C58.4 28.5 59.7 24.9 61.3 20.4C63 15.8 64.8 11.4 66.2 7.8C67.6 4.1 68.7 1.4 69.2 0Z"/><clipPath id="s69c"><use href="#s69"/></clipPath>
<path id="s70" d="M0 0C0.5 1.6 1.6 5.4 3 8.7C4.5 12 6 14.9 8.1 18.4C10.2 21.9 12.1 24.6 14.8 28.1C17.4 31.5 19.9 34.5 22.8 37.7C25.7 40.9 28.3 43.5 30.9 45.9C33.5 48.2 34.7 49.3 37.3 50.7C39.9 52.1 42.5 53.7 45.3 53.8C48.2 53.9 51.5 52.8 53.2 51.3C54.8 49.8 53.9 47.9 54.3 45.5C54.8 43 55.1 40.9 55.6 37.7C56.1 34.6 56.3 31.5 57.3 28.1C58.2 24.6 59.3 21.9 60.8 18.4C62.4 14.9 64.2 12 65.7 8.7C67.2 5.4 68.6 1.6 69.2 0Z"/><clipPath id="s70c"><use href="#s70"/></clipPath>
<filter id="f129" x="0" y="0" width="1" height="1" color-interpolation-filters="sRGB"><feTurbulence type="fractalNoise" baseFrequency="0.05" numOctaves="2" seed="71"/><feColorMatrix values="0 0 0 0 0 0 0 0 0 0 0 0 0 0 0 1 0 0 0 0" result="n"/><feComposite in="n" in2="SourceAlpha" operator="arithmetic" k1="0" k2="45" k3="13.5" k4="-32.39" result="m"/><feFlood flood-color="#20b060"/><feComposite operator="in" in2="m"/></filter>
<path id="s71" d="M0 0C0.3 1.4 0.4 4.1 1.4 7.8C2.5 11.5 3.6 15.9 5.8 20.4C8.1 25 11 28.5 14.1 33.1C17.2 37.7 19.7 41.5 23.2 45.7C26.7 50 29.8 53.3 33.5 56.5C37.2 59.6 41 61.6 43.7 63.3C46.5 64.9 47.5 65.1 48.8 65.5C50.1 66 50.2 66.1 51 65.8C51.8 65.5 52.7 65.3 53.2 63.7C53.7 62 53.6 59.7 53.7 56.5C53.9 53.2 53.4 50 54 45.7C54.6 41.5 55.8 37.7 57.1 33.1C58.4 28.5 59.7 25 61.3 20.4C63 15.9 64.8 11.5 66.2 7.8C67.6 4.1 68.7 1.4 69.2 0Z"/><clipPath id="s71c"><use href="#s71"/></clipPath>
<path id="s71l" d="M0 0C0.3 1.4 0.4 4.1 1.4 7.8C2.5 11.5 3.6 15.9 5.8 20.4C8.1 25 11 28.5 14.1 33.1C17.2 37.7 19.7 41.5 23.2 45.7C26.7 50 29.8 53.3 33.5 56.5C37.2 59.6 41 61.6 43.7 63.3C46.5 64.9 47.5 65.1 48.8 65.5C50.1 66 50.6 65.7 51 65.8"/>
<path id="s71f" d="M14.1 33.1C15.7 35.4 19.7 41.5 23.2 45.7C26.7 50 29.8 53.3 33.5 56.5C37.2 59.6 41 61.6 43.7 63.3C46.5 64.9 47.5 65.1 48.8 65.5C50.1 66 50.6 65.7 51 65.8"/>
<filter id="f130" x="0" y="0" width="1" height="1" color-interpolation-filters="sRGB"><feTurbulence type="fractalNoise" baseFrequency="0.07" numOctaves="2" seed="97"/><feColorMatrix values="0 0 0 0 0 0 0 0 0 0 0 0 0 0 0 1 0 0 0 0" result="n"/><feComposite in="n" in2="SourceAlpha" operator="arithmetic" k1="0" k2="30" k3="16.5" k4="-25.64" result="m"/><feFlood flood-color="#f8860e"/><feComposite operator="in" in2="m"/></filter>
<filter id="f131" x="0" y="0" width="1" height="1" color-interpolation-filters="sRGB"><feTurbulence type="fractalNoise" baseFrequency="0.14" numOctaves="2" seed="3"/><feColorMatrix values="0 0 0 0 0 0 0 0 0 0 0 0 0 0 0 1 0 0 0 0" result="n"/><feComposite in="n" in2="SourceAlpha" operator="arithmetic" k1="0" k2="20" k3="3" k4="-16.24" result="m"/><feFlood flood-color="#f8ee18"/><feComposite operator="in" in2="m"/></filter>
<path id="s72" d="M0 0C0.3 1.4 0.4 4.2 1.5 7.9C2.5 11.6 3.6 16.1 6 20.8C8.3 25.4 11.2 29 14.3 33.6C17.5 38.2 20 42.2 23.5 46.4C27 50.7 30.2 54.1 33.9 57.3C37.6 60.5 41.5 62.6 44.3 64.2C47.1 65.9 48.1 66 49.4 66.5C50.7 67 50.8 67.1 51.6 66.8C52.4 66.5 53.3 66.3 53.8 64.6C54.3 62.9 54.2 60.6 54.3 57.3C54.4 54 54 50.7 54.6 46.4C55.1 42.2 56.3 38.2 57.6 33.6C58.9 29 60.1 25.4 61.8 20.8C63.4 16.1 65.2 11.6 66.6 7.9C68 4.2 69.1 1.4 69.6 0Z"/><clipPath id="s72c"><use href="#s72"/></clipPath>
<path id="s73" d="M0 0C0.4 1.6 1 5.5 2.1 8.9C3.2 12.2 4.4 15.2 6.2 18.7C8.1 22.3 9.9 25 12.3 28.6C14.8 32.1 17.2 34.9 20 38.4C22.8 42 24.8 45 28 48.3C31.2 51.6 34.9 54.5 37.8 56.7C40.6 58.8 41.9 59.2 43.9 60.1C45.9 61 47.2 61.9 48.9 61.7C50.7 61.5 52.6 61.5 53.6 59.1C54.5 56.7 54 52 54.5 48.3C54.9 44.6 55.5 42 56.1 38.4C56.7 34.9 56.8 32.1 57.7 28.6C58.7 25 59.8 22.3 61.3 18.7C62.8 15.2 64.6 12.2 66.1 8.9C67.6 5.5 69 1.6 69.6 0Z"/><clipPath id="s73c"><use href="#s73"/></clipPath>
<filter id="f132" x="0" y="0" width="1" height="1" color-interpolation-filters="sRGB"><feTurbulence type="fractalNoise" baseFrequency="0.05" numOctaves="2" seed="71"/><feColorMatrix values="0 0 0 0 0 0 0 0 0 0 0 0 0 0 0 1 0 0 0 0" result="n"/><feComposite in="n" in2="SourceAlpha" operator="arithmetic" k1="0" k2="45" k3="24.75" k4="-36.9" result="m"/><feFlood flood-color="#1c84f4"/><feComposite operator="in" in2="m"/></filter>
<path id="s74" d="M0 0C0.3 1.4 0.4 4.1 1.5 7.8C2.5 11.4 3.6 15.8 6 20.4C8.3 24.9 11.2 28.5 14.3 33C17.5 37.5 20 41.4 23.5 45.6C27 49.8 30.2 53.1 33.9 56.3C37.6 59.4 41.5 61.5 44.3 63.1C47.1 64.7 48.1 64.9 49.4 65.3C50.7 65.8 50.8 65.9 51.6 65.6C52.4 65.3 53.3 65.1 53.8 63.5C54.3 61.8 54.2 59.5 54.3 56.3C54.4 53.1 54 49.8 54.6 45.6C55.1 41.4 56.3 37.5 57.6 33C58.9 28.5 60.1 24.9 61.8 20.4C63.4 15.8 65.2 11.4 66.6 7.8C68 4.1 69.1 1.4 69.6 0Z"/><clipPath id="s74c"><use href="#s74"/></clipPath>
<path id="s75" d="M0 0C0.6 1.6 1.6 5.4 3.1 8.7C4.6 12 6.1 14.9 8.2 18.4C10.4 21.9 12.3 24.6 15 28.1C17.6 31.5 20.2 34.5 23.1 37.7C26.1 40.9 28.6 43.5 31.3 45.9C33.9 48.2 35.1 49.3 37.8 50.7C40.4 52.1 43 53.7 45.9 53.8C48.7 53.9 52.1 52.8 53.7 51.3C55.3 49.8 54.4 47.9 54.9 45.5C55.3 43 55.6 40.9 56.1 37.7C56.6 34.6 56.8 31.5 57.7 28.1C58.7 24.6 59.8 21.9 61.3 18.4C62.8 14.9 64.6 12 66.1 8.7C67.6 5.4 69 1.6 69.6 0Z"/><clipPath id="s75c"><use href="#s75"/></clipPath>
<filter id="f133" x="0" y="0" width="1" height="1" color-interpolation-filters="sRGB"><feTurbulence type="fractalNoise" baseFrequency="0.05" numOctaves="2" seed="71"/><feColorMatrix values="0 0 0 0 0 0 0 0 0 0 0 0 0 0 0 1 0 0 0 0" result="n"/><feComposite in="n" in2="SourceAlpha" operator="arithmetic" k1="0" k2="45" k3="18" k4="-32.94" result="m"/><feFlood flood-color="#20b060"/><feComposite operator="in" in2="m"/></filter>
<path id="s76" d="M0 0C0.3 1.4 0.4 4.1 1.5 7.8C2.5 11.5 3.6 15.9 6 20.4C8.3 25 11.2 28.5 14.3 33.1C17.5 37.7 20 41.5 23.5 45.7C27 50 30.2 53.3 33.9 56.5C37.6 59.6 41.5 61.6 44.3 63.3C47.1 64.9 48.1 65.1 49.4 65.5C50.7 66 50.8 66.1 51.6 65.8C52.4 65.5 53.3 65.3 53.8 63.7C54.3 62 54.2 59.7 54.3 56.5C54.4 53.2 54 50 54.6 45.7C55.1 41.5 56.3 37.7 57.6 33.1C58.9 28.5 60.1 25 61.8 20.4C63.4 15.9 65.2 11.5 66.6 7.8C68 4.1 69.1 1.4 69.6 0Z"/><clipPath id="s76c"><use href="#s76"/></clipPath>
<path id="s76l" d="M0 0C0.3 1.4 0.4 4.1 1.5 7.8C2.5 11.5 3.6 15.9 6 20.4C8.3 25 11.2 28.5 14.3 33.1C17.5 37.7 20 41.5 23.5 45.7C27 50 30.2 53.3 33.9 56.5C37.6 59.6 41.5 61.6 44.3 63.3C47.1 64.9 48.1 65.1 49.4 65.5C50.7 66 51.2 65.7 51.6 65.8"/>
<path id="s76f" d="M14.3 33.1C16 35.4 20 41.5 23.5 45.7C27 50 30.2 53.3 33.9 56.5C37.6 59.6 41.5 61.6 44.3 63.3C47.1 64.9 48.1 65.1 49.4 65.5C50.7 66 51.2 65.7 51.6 65.8"/>
<filter id="f134" x="0" y="0" width="1" height="1" color-interpolation-filters="sRGB"><feTurbulence type="fractalNoise" baseFrequency="0.07" numOctaves="2" seed="97"/><feColorMatrix values="0 0 0 0 0 0 0 0 0 0 0 0 0 0 0 1 0 0 0 0" result="n"/><feComposite in="n" in2="SourceAlpha" operator="arithmetic" k1="0" k2="30" k3="16.5" k4="-24.85" result="m"/><feFlood flood-color="#f8860e"/><feComposite operator="in" in2="m"/></filter>
<filter id="f135" x="0" y="0" width="1" height="1" color-interpolation-filters="sRGB"><feTurbulence type="fractalNoise" baseFrequency="0.14" numOctaves="2" seed="3"/><feColorMatrix values="0 0 0 0 0 0 0 0 0 0 0 0 0 0 0 1 0 0 0 0" result="n"/><feComposite in="n" in2="SourceAlpha" operator="arithmetic" k1="0" k2="20" k3="3" k4="-17.42" result="m"/><feFlood flood-color="#f8ee18"/><feComposite operator="in" in2="m"/></filter>
<filter id="bl1" x="-0.3" y="-0.3" width="1.6" height="1.6"><feGaussianBlur stdDeviation="1.1"/></filter>
<filter id="bl2" x="-0.3" y="-0.3" width="1.6" height="1.6"><feGaussianBlur stdDeviation="0.6"/></filter>
<clipPath id="pc1"><rect x="63.8" y="676.2" width="187.4" height="106.4"/></clipPath>
<clipPath id="pc2"><rect x="491.6" y="676.4" width="188.4" height="106.4"/></clipPath>
</defs>
<rect width="750" height="829" fill="#fff"/>
<rect x="26" y="3" width="664.3" height="40.6" fill="#fff" stroke="#000" stroke-width="1.4"/>
<line x1="108" y1="3" x2="108" y2="43.6" stroke="#000" stroke-width="1.4"/>
<line x1="181.3" y1="3" x2="181.3" y2="43.6" stroke="#000" stroke-width="1.4"/>
<line x1="255.5" y1="3" x2="255.5" y2="43.6" stroke="#000" stroke-width="1.4"/>
<line x1="329.2" y1="3" x2="329.2" y2="43.6" stroke="#000" stroke-width="1.4"/>
<line x1="401.8" y1="3" x2="401.8" y2="43.6" stroke="#000" stroke-width="1.4"/>
<line x1="474" y1="3" x2="474" y2="43.6" stroke="#000" stroke-width="1.4"/>
<line x1="545.8" y1="3" x2="545.8" y2="43.6" stroke="#000" stroke-width="1.4"/>
<line x1="617.8" y1="3" x2="617.8" y2="43.6" stroke="#000" stroke-width="1.4"/>
<text x="67" y="30.8" font-size="19" font-weight="bold" fill="#1F497D" text-anchor="middle">0 (min)</text>
<text x="144.65" y="30.8" font-size="19" font-weight="bold" fill="#1F497D" text-anchor="middle">13</text>
<text x="218.4" y="30.8" font-size="19" font-weight="bold" fill="#1F497D" text-anchor="middle">19</text>
<text x="292.35" y="30.8" font-size="19" font-weight="bold" fill="#1F497D" text-anchor="middle">25</text>
<text x="365.5" y="30.8" font-size="19" font-weight="bold" fill="#1F497D" text-anchor="middle">32</text>
<text x="437.9" y="30.8" font-size="19" font-weight="bold" fill="#1F497D" text-anchor="middle">38</text>
<text x="509.9" y="30.8" font-size="19" font-weight="bold" fill="#1F497D" text-anchor="middle">44</text>
<text x="581.8" y="30.8" font-size="19" font-weight="bold" fill="#1F497D" text-anchor="middle">50</text>
<text x="654.05" y="30.8" font-size="19" font-weight="bold" fill="#1F497D" text-anchor="middle">56</text>
<rect x="25.3" y="43.4" width="665.5" height="150.6" fill="#000"/>
<rect x="25.3" y="248.3" width="665.5" height="149" fill="#000"/>
<rect x="25.3" y="445" width="665.5" height="222.6" fill="#000"/>
<line x1="26" y1="519.4" x2="690" y2="519.4" stroke="#3a3a3a" stroke-width="0.8"/>
<line x1="26" y1="594.6" x2="690" y2="594.6" stroke="#3a3a3a" stroke-width="0.8"/>
<line x1="25.3" y1="247.9" x2="252" y2="247.9" stroke="#5a5a5a" stroke-width="0.9"/>
<text x="3" y="98.8" font-size="22.5" font-weight="bold" fill="#000" text-anchor="start">a</text>
<text x="2.2" y="294.8" font-size="22.5" font-weight="bold" fill="#000" text-anchor="start">b</text>
<text x="3.2" y="491.6" font-size="22.5" font-weight="bold" fill="#000" text-anchor="start">c</text>
<text x="2.2" y="725.4" font-size="22.5" font-weight="bold" fill="#000" text-anchor="start">d</text>
<text x="698.6" y="90.2" font-size="25" font-weight="bold" fill="#1F497D" text-anchor="start">I<tspan font-size="16" dy="6.6">F1</tspan></text>
<text x="698.6" y="166.6" font-size="25" font-weight="bold" fill="#1F497D" text-anchor="start">I<tspan font-size="16" dy="6.6">F2</tspan></text>
<text x="698.2" y="285.4" font-size="26" font-weight="bold" fill="#1F497D" text-anchor="start">GP</text>
<text x="699" y="361" font-size="24.5" font-weight="bold" fill="#1F497D" text-anchor="start">σ<tspan font-size="16.5" dy="5.6">GP</tspan></text>
<text x="698.4" y="484.8" font-size="25" font-weight="bold" fill="#1F497D" text-anchor="start">Ph<tspan font-size="16" dy="6">1</tspan></text>
<text x="698.4" y="556.8" font-size="25" font-weight="bold" fill="#1F497D" text-anchor="start">Ph<tspan font-size="16" dy="6">2</tspan></text>
<text x="698.4" y="632.8" font-size="25" font-weight="bold" fill="#1F497D" text-anchor="start">Ph<tspan font-size="16" dy="6">2</tspan><tspan font-size="25" dy="-6">’</tspan></text>
<text x="698" y="740.6" font-size="25" font-weight="bold" fill="#1F497D" text-anchor="start">PhP</text>
<rect x="277.4" y="210.8" width="37.25" height="21.2" fill="#fdfd7c"/>
<rect x="314.35" y="210.8" width="37.25" height="21.2" fill="#ffffff"/>
<rect x="351.3" y="210.8" width="37.25" height="21.2" fill="#c0c0c0"/>
<rect x="388.25" y="210.8" width="37.25" height="21.2" fill="#808080"/>
<rect x="425.2" y="210.8" width="37.25" height="21.2" fill="#ffb4b8"/>
<rect x="462.15" y="210.8" width="37.25" height="21.2" fill="#ff0000"/>
<rect x="277.4" y="210.8" width="221.7" height="21.2" fill="url(#sh)"/>
<line x1="277.9" y1="207.6" x2="277.9" y2="210.8" stroke="#000" stroke-width="1"/>
<line x1="277.9" y1="232" x2="277.9" y2="235.6" stroke="#000" stroke-width="1"/>
<line x1="388.75" y1="207.6" x2="388.75" y2="210.8" stroke="#000" stroke-width="1"/>
<line x1="388.75" y1="232" x2="388.75" y2="235.6" stroke="#000" stroke-width="1"/>
<line x1="499.6" y1="207.6" x2="499.6" y2="210.8" stroke="#000" stroke-width="1"/>
<line x1="499.6" y1="232" x2="499.6" y2="235.6" stroke="#000" stroke-width="1"/>
<text x="278" y="208" font-size="15" font-weight="normal" fill="#111" text-anchor="middle">0</text>
<text x="388.85" y="208" font-size="15" font-weight="normal" fill="#111" text-anchor="middle">650</text>
<text x="499.7" y="208" font-size="15" font-weight="normal" fill="#111" text-anchor="middle">1300</text>
<text x="278" y="247.9" font-size="15" font-weight="normal" fill="#111" text-anchor="middle">0</text>
<text x="388.85" y="247.9" font-size="15" font-weight="normal" fill="#111" text-anchor="middle">300</text>
<text x="499.7" y="247.9" font-size="15" font-weight="normal" fill="#111" text-anchor="middle">600</text>
<text x="256.6" y="226.8" font-size="15" font-weight="normal" fill="#111" text-anchor="start">I<tspan font-size="9.2" dy="3">F</tspan></text>
<rect x="143.2" y="403.2" width="20.6" height="17.6" fill="#003334"/>
<rect x="163.5" y="403.2" width="20.6" height="17.6" fill="#1c6e1c"/>
<rect x="183.8" y="403.2" width="20.6" height="17.6" fill="#2eec32"/>
<rect x="204.1" y="403.2" width="20.6" height="17.6" fill="#98ee84"/>
<rect x="224.4" y="403.2" width="20.6" height="17.6" fill="#ffffff"/>
<rect x="244.7" y="403.2" width="20.6" height="17.6" fill="#fdc8fd"/>
<rect x="265" y="403.2" width="20.6" height="17.6" fill="#fb92fb"/>
<rect x="285.3" y="403.2" width="20.6" height="17.6" fill="#fb3cee"/>
<rect x="305.6" y="403.2" width="20.6" height="17.6" fill="#8430dc"/>
<rect x="143.2" y="403.2" width="182.7" height="17.6" fill="url(#sh)"/>
<line x1="143.2" y1="420.8" x2="325.9" y2="420.8" stroke="#000" stroke-width="1.3"/>
<line x1="153.35" y1="420.8" x2="153.35" y2="424.2" stroke="#000" stroke-width="1"/>
<line x1="173.65" y1="420.8" x2="173.65" y2="424.2" stroke="#000" stroke-width="1"/>
<line x1="193.95" y1="420.8" x2="193.95" y2="424.2" stroke="#000" stroke-width="1"/>
<line x1="214.25" y1="420.8" x2="214.25" y2="424.2" stroke="#000" stroke-width="1"/>
<line x1="234.55" y1="420.8" x2="234.55" y2="424.2" stroke="#000" stroke-width="1"/>
<line x1="254.85" y1="420.8" x2="254.85" y2="424.2" stroke="#000" stroke-width="1"/>
<line x1="275.15" y1="420.8" x2="275.15" y2="424.2" stroke="#000" stroke-width="1"/>
<line x1="295.45" y1="420.8" x2="295.45" y2="424.2" stroke="#000" stroke-width="1"/>
<line x1="315.75" y1="420.8" x2="315.75" y2="424.2" stroke="#000" stroke-width="1"/>
<text x="115.2" y="419.8" font-size="15.5" font-weight="bold" fill="#000" text-anchor="start">GP</text>
<text x="152.8" y="438.5" font-size="15.4" font-weight="normal" fill="#111" text-anchor="middle">-0.4</text>
<text x="234.6" y="438.5" font-size="15.4" font-weight="normal" fill="#111" text-anchor="middle">0</text>
<text x="313.8" y="438.5" font-size="15.4" font-weight="normal" fill="#111" text-anchor="middle">+0.4</text>
<rect x="424.8" y="403.6" width="36.14" height="17.6" fill="#6d417c"/>
<rect x="460.64" y="403.6" width="36.14" height="17.6" fill="#8a72aa"/>
<rect x="496.48" y="403.6" width="36.14" height="17.6" fill="#869494"/>
<rect x="532.32" y="403.6" width="36.14" height="17.6" fill="#c0c0c0"/>
<rect x="568.16" y="403.6" width="36.14" height="17.6" fill="#ffffff"/>
<rect x="424.8" y="403.6" width="179.2" height="17.6" fill="url(#sh)"/>
<line x1="424.8" y1="421.2" x2="604" y2="421.2" stroke="#000" stroke-width="1.3"/>
<rect x="568.16" y="403.6" width="35.84" height="17.6" fill="none" stroke="#e4e4e4" stroke-width="0.8"/>
<line x1="442.72" y1="421.2" x2="442.72" y2="424.6" stroke="#000" stroke-width="1"/>
<line x1="478.56" y1="421.2" x2="478.56" y2="424.6" stroke="#000" stroke-width="1"/>
<line x1="514.4" y1="421.2" x2="514.4" y2="424.6" stroke="#000" stroke-width="1"/>
<line x1="550.24" y1="421.2" x2="550.24" y2="424.6" stroke="#000" stroke-width="1"/>
<line x1="586.08" y1="421.2" x2="586.08" y2="424.6" stroke="#000" stroke-width="1"/>
<text x="389.4" y="417.2" font-size="16.5" font-weight="bold" fill="#000" text-anchor="start">σ<tspan font-size="10.6" dy="3.6">GP</tspan></text>
<text x="446.2" y="438.3" font-size="15" font-weight="normal" fill="#111" text-anchor="middle">0.02</text>
<text x="588.2" y="438.3" font-size="15" font-weight="normal" fill="#111" text-anchor="middle">0.10</text>
<g transform="translate(31 46.8)">
<path d="M18.8 35.94l-2.36 3.51M50.15 67.15l-1.62 0.57M5.71 12.96l-1.72 0.49M22.27 40.63l-1.75 0.42M12.77 27.6l-2.41 3.62M20.95 38.84l-3.29 0.84M8.98 19.74l-2.76 0.43M8.82 19.4l-3.14 0.58M34.82 54.94l-2.68 -0.66M23.28 41.99l-2.62 2.23M38.86 58.88l-3.78 2.85M44.15 63.61l-3.86 2.47M10.74 23.39l-4.27 1.08M36.79 56.86l-2.97 0.72" stroke="#a8a844" stroke-width="0.7" stroke-opacity="0.6" fill="none"/>
<g clip-path="url(#s0c)">
<rect width="74.8" height="68.9" fill="#97973a"/>
<rect width="74.8" height="68.9" fill="#fff" filter="url(#f1)"/>
<rect width="74.8" height="68.9" fill="#fff" filter="url(#f2)"/>
<rect width="74.8" height="68.9" fill="url(#g0)" filter="url(#f3)"/>
<rect width="74.8" height="68.9" fill="url(#g1)" filter="url(#f4)"/>
</g>
<use href="#s0" fill="none" stroke="#8c8c30" stroke-width="0.8" stroke-opacity="0.8" stroke-linejoin="round"/>
</g>
<g transform="translate(109.4 46.8)">
<path d="M55.02 41.02l1.75 0.41M65.57 8.13l2.26 1.09M45.14 66.09l-2.64 -0.72M23.6 47.86l-2.01 -0.05M32.35 57.34l-2 0.74M21.95 45.69l-4.34 -0.42M33.06 58.11l-2.8 0.26M2.18 10.34l-1.76 1.55M35.06 59.54l-1.64 1.26M38.98 62.24l-3.66 -1.07M39.88 62.86l-3.06 0.04M62.68 15.97l1.91 -0.27M2.24 10.52l-2.85 -0.97M33.74 58.63l-1.04 1.8" stroke="#a8a844" stroke-width="0.7" stroke-opacity="0.6" fill="none"/>
<g clip-path="url(#s1c)">
<rect width="68.6" height="68.9" fill="#f7f7f7"/>
<rect width="68.6" height="68.9" fill="url(#g2)" filter="url(#f5)"/>
<rect width="68.6" height="68.9" fill="#fff" filter="url(#f6)"/>
<rect width="68.6" height="68.9" fill="url(#g3)" filter="url(#f7)"/>
</g>
<use href="#s1" fill="none" stroke="#dcdc78" stroke-width="0.9" stroke-opacity="0.95" stroke-linejoin="round"/>
</g>
<g transform="translate(182.2 46.8)">
<path d="M19.24 42.16l-1.32 1.84M44.01 65.87l-2.34 1.47M48.75 67.75l-2.98 -0.98M6.54 22.43l-2.06 1.32M52.68 52.55l4.26 -1.86M45.44 66.54l-1.75 2.79M52.37 60.52l2.62 -0.91M48.18 67.67l-3.07 0.92M40.87 63.96l-4.1 -1.39M58.84 24.49l3.02 -1.21M5.67 20.96l-3.11 -0.17M42.33 64.98l-4.19 1.89M53.06 46.16l2.64 -1.64M28.94 54.1l-4.2 -0.89" stroke="#a8a844" stroke-width="0.7" stroke-opacity="0.6" fill="none"/>
<g clip-path="url(#s2c)">
<rect width="67.6" height="68.9" fill="#c0c0c0"/>
<rect width="67.6" height="68.9" fill="url(#g4)" filter="url(#f8)"/>
<rect width="67.6" height="68.9" fill="url(#g0)" filter="url(#f9)"/>
<rect width="67.6" height="68.9" fill="#fff" filter="url(#f10)"/>
<rect width="67.6" height="68.9" fill="url(#g3)" filter="url(#f7)"/>
<use href="#s2l" fill="none" stroke="#f2f2f2" stroke-width="4.4" stroke-opacity="0.8"/>
</g>
<use href="#s2" fill="none" stroke="#dcdc78" stroke-width="0.9" stroke-opacity="0.95" stroke-linejoin="round"/>
</g>
<g transform="translate(254.4 46.8)">
<path d="M44.33 66.08l-4.22 0.63M30.44 55.85l-3.13 0M48.93 67.79l-2.78 3.7M57.27 28.91l3.18 2.29M5.92 21.45l-3.01 0.68M40.9 64.07l-3.51 -1.17M38.11 62.11l-2.19 3.54M52.14 61.78l2.46 1.7M52.38 57.95l2.95 -1.25M53.43 43.82l2.01 -0.23M55.31 35.49l4.1 0.95M49.54 67.88l-3.11 1.12M5.15 19.43l-3.54 -0.13M52.42 56.35l3.92 -0.15" stroke="#a8a844" stroke-width="0.7" stroke-opacity="0.6" fill="none"/>
<g clip-path="url(#s3c)">
<rect width="67.4" height="68.9" fill="#aaaaaa"/>
<rect width="67.4" height="68.9" fill="#fff" filter="url(#f11)"/>
<rect width="67.4" height="68.9" fill="url(#g0)" filter="url(#f12)"/>
<rect width="67.4" height="68.9" fill="url(#g5)" filter="url(#f13)"/>
<rect width="67.4" height="68.9" fill="#fff" filter="url(#f14)"/>
<use href="#s3l" fill="none" stroke="#f2f2f2" stroke-width="4.4" stroke-opacity="0.8"/>
</g>
<use href="#s3" fill="none" stroke="#dcdc78" stroke-width="0.9" stroke-opacity="0.95" stroke-linejoin="round"/>
</g>
<g transform="translate(327 46.8)">
<path d="M20.9 43.06l-3 0.95M63.39 20.35l1.58 -0.72M29.82 53.42l-4.52 -0.06M44.76 65.1l-2.19 0.45M40.1 62.01l-4.28 1.71M23.15 46.2l-2.2 -0.45M25.16 48.55l-1.67 0.76M2.42 10.81l-1.62 1.16M56.08 45.34l4.04 2.39M3.27 13.24l-4.45 1.71M55.54 50.45l2.23 1.84M17.51 38.31l-1.66 0.06M31.32 54.98l-2.84 1.59M1.97 9.51l-2.27 -0.54" stroke="#a8a844" stroke-width="0.7" stroke-opacity="0.6" fill="none"/>
<g clip-path="url(#s4c)">
<rect width="71.2" height="68.9" fill="#a0a0a0"/>
<rect width="71.2" height="68.9" fill="url(#g6)" filter="url(#f15)"/>
<rect width="71.2" height="68.9" fill="#fff" filter="url(#f16)"/>
<rect width="71.2" height="68.9" fill="url(#g7)" filter="url(#f17)"/>
<use href="#s4l" fill="none" stroke="#f2f2f2" stroke-width="2.4" stroke-opacity="0.8"/>
</g>
<use href="#s4" fill="none" stroke="#dcdc78" stroke-width="0.9" stroke-opacity="0.95" stroke-linejoin="round"/>
</g>
<g transform="translate(401.6 46.8)">
<path d="M53.09 63.72l3.28 -2.45M12.56 31.8l-3.73 -0.52M57.39 32.2l2.86 1.89M53.09 63.62l2 0.89M56.58 34.96l4.09 0.78M49.03 67.67l-1.55 1.25M37.57 61.19l-3.49 -0.82M44.72 65.84l-1.33 1.65M13.48 33.27l-3.25 0.56M28.18 52.73l-1.89 1.94M14.37 34.63l-1.68 2.74M63.26 14.89l1.59 1.11M59.53 25.58l4.43 0.28M55.83 38.23l2.11 1.68" stroke="#a8a844" stroke-width="0.7" stroke-opacity="0.6" fill="none"/>
<g clip-path="url(#s5c)">
<rect width="68.8" height="68.9" fill="#a0a0a0"/>
<rect width="68.8" height="68.9" fill="url(#g8)" filter="url(#f18)"/>
<rect width="68.8" height="68.9" fill="#fff" filter="url(#f16)"/>
<rect width="68.8" height="68.9" fill="url(#g9)" filter="url(#f19)"/>
<use href="#s5l" fill="none" stroke="#f2f2f2" stroke-width="2.4" stroke-opacity="0.8"/>
</g>
<use href="#s5" fill="none" stroke="#dcdc78" stroke-width="0.9" stroke-opacity="0.95" stroke-linejoin="round"/>
</g>
<g transform="translate(475.5 46.8)">
<path d="M54.12 53.79l1.73 -0.37M4.21 16.2l-2.93 -0.54M48.23 67.23l-3.69 -0.63M11.63 30.14l-1.21 1.83M2.59 11.47l-4.51 -1.37M6.16 21.54l-2.26 -0.42M17.66 39.13l-2.97 1.2M41.66 63.72l-2.55 3.35M34.07 58.55l-1.36 2.19M43.53 64.99l-2.08 -0.3M63.49 16.01l4.61 -1.14M47.1 66.72l-2.81 3.17M64.65 12.9l3.98 1.35M41.42 63.55l-4.07 1.05" stroke="#a8a844" stroke-width="0.7" stroke-opacity="0.6" fill="none"/>
<g clip-path="url(#s6c)">
<rect width="69.5" height="68.9" fill="#a0a0a0"/>
<rect width="69.5" height="68.9" fill="url(#g8)" filter="url(#f20)"/>
<rect width="69.5" height="68.9" fill="#fff" filter="url(#f21)"/>
<rect width="69.5" height="68.9" fill="url(#g9)" filter="url(#f22)"/>
<use href="#s6l" fill="none" stroke="#f2f2f2" stroke-width="2.4" stroke-opacity="0.8"/>
</g>
<use href="#s6" fill="none" stroke="#dcdc78" stroke-width="0.9" stroke-opacity="0.95" stroke-linejoin="round"/>
</g>
<g transform="translate(548.3 46.8)">
<path d="M46.59 66.64l-3.71 -0.75M6.54 22.2l-2 3.04M60.46 23.24l3.6 0.29M44.88 65.85l-2.38 1.92M42.61 64.57l-1.99 2.61M58 30.86l2.03 -1.37M53.68 55.71l3.01 0.64M53.35 62.13l3.92 1.03M44.65 65.75l-2.6 0.55M45.18 65.99l-1.59 0.41M22.89 46.85l-1.41 1.81M46.25 66.48l-2.85 1.2M35.44 59.66l-4.36 -1.44M23.92 48.05l-4.51 1.59" stroke="#a8a844" stroke-width="0.7" stroke-opacity="0.6" fill="none"/>
<g clip-path="url(#s7c)">
<rect width="69" height="68.9" fill="#ff0000"/>
<rect width="69" height="68.9" fill="#fff" filter="url(#f23)"/>
<rect width="69" height="68.9" fill="#fff" filter="url(#f24)"/>
<rect width="69" height="68.9" fill="#fff" filter="url(#f25)"/>
</g>
<use href="#s7" fill="none" stroke="#dcdc78" stroke-width="0.9" stroke-opacity="0.95" stroke-linejoin="round"/>
</g>
<g transform="translate(620.6 46.8)">
<path d="M58.4 31.41l1.85 1.33M12.12 30.85l-2.14 1.73M46.68 66.46l-3.78 -0.73M27.45 51.56l-3.15 3.41M26.5 50.54l-1.78 2.03M49.92 67.7l-2.22 1.5M11.83 30.4l-2.47 -0.53M27.41 51.52l-1.82 -0.31M57.06 36.05l1.68 -0.53M48.85 67.45l-1.88 1.58M12.33 31.19l-2.97 -0.15M50.59 67.79l-4.49 -1.04M44.51 65.47l-2.82 -0.74M11.26 29.51l-1.4 1.06" stroke="#a8a844" stroke-width="0.7" stroke-opacity="0.6" fill="none"/>
<g clip-path="url(#s8c)">
<rect width="69.7" height="68.9" fill="#ff0000"/>
<rect width="69.7" height="68.9" fill="url(#g10)" filter="url(#f26)"/>
<rect width="69.7" height="68.9" fill="#fff" filter="url(#f27)"/>
<rect width="69.7" height="68.9" fill="#fff" filter="url(#f25)"/>
</g>
<use href="#s8" fill="none" stroke="#dcdc78" stroke-width="0.9" stroke-opacity="0.95" stroke-linejoin="round"/>
</g>
<g transform="translate(31 121.8)">
<path d="M55.14 60.73l2.48 -0.3M33.92 54.37l-2.38 2.06M5.01 11.56l-1.54 1.66M59.66 37.25l2.66 -0.17M57.53 45.47l1.72 -0.79M6.47 14.61l-3.61 2.13M10.6 23.23l-2.61 1.33M44.89 64.43l-3.19 -0.01M29.63 50.16l-3.4 1.22M54.99 61.9l2.41 1.49M49.68 67.31l-4.35 -0.6M7.48 16.73l-4.17 -0.08M56.8 48.27l4.51 -0.69M61.86 28.8l1.83 -0.67" stroke="#a8a844" stroke-width="0.7" stroke-opacity="0.6" fill="none"/>
<g clip-path="url(#s9c)">
<rect width="74.8" height="69.3" fill="#97973a"/>
<rect width="74.8" height="69.3" fill="#fff" filter="url(#f1)"/>
<rect width="74.8" height="69.3" fill="#fff" filter="url(#f2)"/>
<rect width="74.8" height="69.3" fill="url(#g0)" filter="url(#f3)"/>
<rect width="74.8" height="69.3" fill="url(#g1)" filter="url(#f4)"/>
</g>
<use href="#s9" fill="none" stroke="#8c8c30" stroke-width="0.8" stroke-opacity="0.8" stroke-linejoin="round"/>
</g>
<g transform="translate(109.4 121.8)">
<path d="M43.11 65.47l-2.65 3.31M56.96 33.24l1.49 0.6M42.58 65.11l-2.54 0.37M18.75 41.29l-3.67 1.71M18.72 41.24l-2.76 0.66M33.21 58.61l-4.58 1.4M19.8 42.82l-3.07 -0.58M6.04 21.6l-3.28 1.67M9.89 27.76l-2.93 0.31M45.52 66.66l-2.74 1.61M45.5 66.65l-2.22 0.21M61.12 20.33l2.24 -0.01M53.37 56.04l3.73 -1.53M38.26 62.11l-1.64 1.64" stroke="#a8a844" stroke-width="0.7" stroke-opacity="0.6" fill="none"/>
<g clip-path="url(#s10c)">
<rect width="68.6" height="69.3" fill="#f8f8f8"/>
<rect width="68.6" height="69.3" fill="url(#g2)" filter="url(#f28)"/>
<rect width="68.6" height="69.3" fill="#fff" filter="url(#f29)"/>
<rect width="68.6" height="69.3" fill="url(#g3)" filter="url(#f7)"/>
</g>
<use href="#s10" fill="none" stroke="#dcdc78" stroke-width="0.9" stroke-opacity="0.95" stroke-linejoin="round"/>
</g>
<g transform="translate(182.2 121.8)">
<path d="M43.05 65.8l-4.44 0.98M5.6 20.88l-1.17 1.33M27.18 52.48l-2.6 0.14M5.42 20.32l-1.83 1.22M55.91 33.93l2.74 0.64M17.72 40.16l-1.16 1.44M32.27 58.11l-3.01 3.59M20.61 44.45l-3.41 2.41M45.1 66.77l-3.93 2.28M20.34 44.04l-3.36 1.36M46.54 67.45l-0.94 1.43M2.49 11.46l-4.48 0.02M16.77 38.75l-1.67 -0.49M55.55 35.35l3.75 -1.09" stroke="#a8a844" stroke-width="0.7" stroke-opacity="0.6" fill="none"/>
<g clip-path="url(#s11c)">
<rect width="67.6" height="69.3" fill="#d0d0d0"/>
<rect width="67.6" height="69.3" fill="#fff" filter="url(#f30)"/>
<rect width="67.6" height="69.3" fill="url(#g0)" filter="url(#f31)"/>
<rect width="67.6" height="69.3" fill="url(#g3)" filter="url(#f7)"/>
<use href="#s11l" fill="none" stroke="#f2f2f2" stroke-width="4.4" stroke-opacity="0.8"/>
</g>
<use href="#s11" fill="none" stroke="#dcdc78" stroke-width="0.9" stroke-opacity="0.95" stroke-linejoin="round"/>
</g>
<g transform="translate(254.4 121.8)">
<path d="M48.92 68.19l-1.62 -0.45M29.77 55.44l-3.77 1.58M58.97 23.65l2.78 -1.56M44.13 66.38l-2.08 0.17M48.24 68.09l-3.52 2.12M8.85 26.36l-1.97 2.13M28.14 53.63l-3.93 2.64M52.01 64.1l1.6 -1.05M47.42 67.93l-1.4 1.46M43.79 66.22l-3.9 1.19M53.53 43.63l2.78 0.26M52.5 53.72l2.13 -1M34.51 59.93l-1.39 1.97M34.94 60.24l-3.68 -0.3" stroke="#a8a844" stroke-width="0.7" stroke-opacity="0.6" fill="none"/>
<g clip-path="url(#s12c)">
<rect width="67.4" height="69.3" fill="#bebebe"/>
<rect width="67.4" height="69.3" fill="#fff" filter="url(#f32)"/>
<rect width="67.4" height="69.3" fill="url(#g0)" filter="url(#f33)"/>
<rect width="67.4" height="69.3" fill="url(#g3)" filter="url(#f7)"/>
<rect width="67.4" height="69.3" fill="url(#g11)" filter="url(#f34)"/>
<use href="#s12l" fill="none" stroke="#f2f2f2" stroke-width="4.4" stroke-opacity="0.8"/>
</g>
<use href="#s12" fill="none" stroke="#dcdc78" stroke-width="0.9" stroke-opacity="0.95" stroke-linejoin="round"/>
</g>
<g transform="translate(327 121.8)">
<path d="M54.8 66.04l2.01 1.19M14.91 34.88l-1.59 1.18M51.57 68.17l-2.7 -0.69M61.37 26.43l3.46 1.4M48.14 67.06l-2.26 0.41M6.4 21.8l-1.62 -0.59M55.57 49.55l2.63 1.25M37.76 60.81l-3 2.87M3.32 13.44l-3.72 -0.24M35.42 59.25l-2.61 2.79M20.77 43.12l-1.58 0.79M56.92 42.05l3.17 -2.53M55.44 54.26l4.57 -0.61M9.63 26.78l-2.89 -0.28" stroke="#a8a844" stroke-width="0.7" stroke-opacity="0.6" fill="none"/>
<g clip-path="url(#s13c)">
<rect width="71.2" height="69.3" fill="#acacac"/>
<rect width="71.2" height="69.3" fill="#fff" filter="url(#f35)"/>
<rect width="71.2" height="69.3" fill="url(#g0)" filter="url(#f36)"/>
<rect width="71.2" height="69.3" fill="#fff" filter="url(#f37)"/>
<rect width="71.2" height="69.3" fill="url(#g12)" filter="url(#f38)"/>
<use href="#s13l" fill="none" stroke="#f2f2f2" stroke-width="2.4" stroke-opacity="0.8"/>
</g>
<use href="#s13" fill="none" stroke="#dcdc78" stroke-width="0.9" stroke-opacity="0.95" stroke-linejoin="round"/>
</g>
<g transform="translate(401.6 121.8)">
<path d="M60.02 24.2l1.53 -0.87M50.55 68.27l-2.17 2.86M35.05 59.81l-1.79 1.13M1.88 9.51l-3.9 1.48M53.55 55.25l1.55 0.79M53.92 46.79l2.35 1.59M64.29 12.18l3.12 1.9M62.92 15.9l3.77 1.98M6.16 21.77l-2.03 -0.55M7.85 24.46l-4.47 0.16M41.92 64.56l-3.72 0.4M29.2 54.15l-3.47 0.99M26.22 50.91l-2.18 1.83M37.78 61.7l-1.89 3.04" stroke="#a8a844" stroke-width="0.7" stroke-opacity="0.6" fill="none"/>
<g clip-path="url(#s14c)">
<rect width="68.8" height="69.3" fill="#aaaaaa"/>
<rect width="68.8" height="69.3" fill="#fff" filter="url(#f35)"/>
<rect width="68.8" height="69.3" fill="url(#g0)" filter="url(#f36)"/>
<rect width="68.8" height="69.3" fill="#fff" filter="url(#f39)"/>
<rect width="68.8" height="69.3" fill="url(#g9)" filter="url(#f40)"/>
<use href="#s14l" fill="none" stroke="#f2f2f2" stroke-width="2.4" stroke-opacity="0.8"/>
</g>
<use href="#s14" fill="none" stroke="#dcdc78" stroke-width="0.9" stroke-opacity="0.95" stroke-linejoin="round"/>
</g>
<g transform="translate(475.5 121.8)">
<path d="M9.59 27.09l-4.15 0.77M59.05 29.09l2.26 -1.56M50.02 68.13l-1.63 0.57M5.53 20.19l-3.2 2.23M50.16 68.15l-4.03 2.31M49.18 68.02l-3.75 0.72M14.03 34.11l-4.36 1.64M54.21 50.97l2.2 0.7M65.27 11.29l3.97 -2.05M50.05 68.14l-3.61 2.99M36.35 60.46l-2.47 0.88M9.23 26.52l-2.46 0.39M25.05 49.36l-1.97 -0.1M48.32 67.67l-2.91 -0.91" stroke="#a8a844" stroke-width="0.7" stroke-opacity="0.6" fill="none"/>
<g clip-path="url(#s15c)">
<rect width="69.5" height="69.3" fill="#a8a8a8"/>
<rect width="69.5" height="69.3" fill="#fff" filter="url(#f35)"/>
<rect width="69.5" height="69.3" fill="url(#g0)" filter="url(#f36)"/>
<rect width="69.5" height="69.3" fill="#fff" filter="url(#f41)"/>
<rect width="69.5" height="69.3" fill="url(#g9)" filter="url(#f42)"/>
<use href="#s15l" fill="none" stroke="#f2f2f2" stroke-width="2.4" stroke-opacity="0.8"/>
</g>
<use href="#s15" fill="none" stroke="#dcdc78" stroke-width="0.9" stroke-opacity="0.95" stroke-linejoin="round"/>
</g>
<g transform="translate(548.3 121.8)">
<path d="M48.09 67.72l-2.97 3.75M30.7 55.69l-2.42 1.41M8.81 25.95l-3.01 -0.06M48.47 67.9l-2.62 1.92M49.98 68.17l-2.58 0.31M2.39 10.99l-2.89 2.15M22.19 46.11l-1.51 1.77M1.65 8.8l-2.49 0.65M35.69 60.19l-3.39 0.8M41.89 64.46l-1.12 1.21M53.75 53.59l1.69 -1.18M17.72 39.63l-1.27 1.03M42.55 64.91l-3.37 0.74M40.92 63.79l-3.43 2.89" stroke="#a8a844" stroke-width="0.7" stroke-opacity="0.6" fill="none"/>
<g clip-path="url(#s16c)">
<rect width="69" height="69.3" fill="#a6a6a6"/>
<rect width="69" height="69.3" fill="#fff" filter="url(#f35)"/>
<rect width="69" height="69.3" fill="url(#g0)" filter="url(#f36)"/>
<rect width="69" height="69.3" fill="#fff" filter="url(#f43)"/>
<rect width="69" height="69.3" fill="url(#g9)" filter="url(#f44)"/>
</g>
<use href="#s16" fill="none" stroke="#dcdc78" stroke-width="0.9" stroke-opacity="0.95" stroke-linejoin="round"/>
</g>
<g transform="translate(620.6 121.8)">
<path d="M33.99 58.78l-1.49 1.5M53.65 65.98l4.6 0.33M10.21 28.02l-3.63 0.55M35.54 59.84l-2.09 1.48M48.07 67.49l-1.62 0.08M57.85 33.3l2.11 0.47M55.17 44.44l2.14 -1.61M56.63 38.14l3.19 -1.08M51.23 68.27l-2.42 -0.78M54.18 57.65l2.14 0.02M54.44 48.1l2.49 0.89M56.29 39.59l4.27 -0.72M64.06 15.05l3.41 1.75M61.59 21.8l4.13 -1.61" stroke="#a8a844" stroke-width="0.7" stroke-opacity="0.6" fill="none"/>
<g clip-path="url(#s17c)">
<rect width="69.7" height="69.3" fill="#b0a8a8"/>
<rect width="69.7" height="69.3" fill="#fff" filter="url(#f35)"/>
<rect width="69.7" height="69.3" fill="url(#g0)" filter="url(#f36)"/>
<rect width="69.7" height="69.3" fill="#fff" filter="url(#f45)"/>
<rect width="69.7" height="69.3" fill="url(#g13)" filter="url(#f46)"/>
</g>
<use href="#s17" fill="none" stroke="#dcdc78" stroke-width="0.9" stroke-opacity="0.95" stroke-linejoin="round"/>
</g>
<g transform="translate(111.2 250)">
<use href="#s18f" fill="none" stroke="#f6b8f2" stroke-width="3.6" stroke-linecap="round" stroke-dasharray="7 60 12 100" stroke-dashoffset="-3"/><ellipse cx="49.8" cy="67.4" rx="3" ry="2.6" fill="#f090ec"/>
<path d="M56.2 32.68l4.1 -2.75M2.99 10.09l-2.28 0.41M60.56 18.66l3.35 -2.49M40.4 59.3l-2.64 3.95M53.66 50.67l4.39 2.1M49.57 67.16l-3.09 0.17M7.65 20.06l-2.55 3.97M60.85 18.07l3.72 1.36M7.57 19.92l-2.47 -0.03M23.13 41.49l-4.25 2.65M48.49 66.47l-4.23 2.89M48.27 66.32l-4.51 0.03M37.49 56.56l-3.57 2.25M11.25 26.07l-3.74 -0.41" stroke="#e8c8e8" stroke-width="0.7" stroke-opacity="0.6" fill="none"/>
<g clip-path="url(#s18c)">
<rect width="68.8" height="68.6" fill="#2ee432"/>
<rect width="68.8" height="68.6" fill="url(#g14)" filter="url(#f47)"/>
<rect width="68.8" height="68.6" fill="#fff" filter="url(#f48)"/>
<rect width="68.8" height="68.6" fill="#fff" filter="url(#f49)"/>
<rect width="68.8" height="68.6" fill="#fff" filter="url(#f50)"/>
<use href="#s18f" fill="none" stroke="#f070ea" stroke-width="5" stroke-dasharray="9 60 12 100" stroke-dashoffset="-2"/><ellipse cx="49.8" cy="66.4" rx="3.4" ry="3.6" fill="#fbd8fb"/><use href="#s18f" fill="none" stroke="#fde4fd" stroke-width="1.4" stroke-dasharray="5 62 10 100" stroke-dashoffset="-4"/>
</g>
</g>
<g transform="translate(111.2 325.2)">
<path d="M20.95 39.13l-3.19 3.06M52.59 63.49l3.53 -2.24M56.14 33.17l2.85 2.12M8.68 21.9l-3.08 2.85M6.7 18.44l-3.47 -0.08M59.66 21.19l2.95 0.53M28.41 48.06l-3.23 0.02M14.61 31.15l-3.81 3.08M29.17 48.97l-4.98 0.84M37.29 56.71l-4.01 -0.02M17.12 34.32l-3.28 -0.55M14.31 30.79l-4.04 1.88M8.98 22.41l-4.14 0.63M15.37 32.11l-4.69 0.31" stroke="#d8d8d8" stroke-width="0.7" stroke-opacity="0.6" fill="none"/>
<g clip-path="url(#s19c)">
<rect width="68.8" height="69" fill="#98a2a2"/>
<rect width="68.8" height="69" fill="url(#g15)" filter="url(#f51)"/>
<rect width="68.8" height="69" fill="#fff" filter="url(#f52)"/>
<rect width="68.8" height="69" fill="#fff" filter="url(#f53)"/>
</g>
<use href="#s19" fill="none" stroke="#e0e0e0" stroke-width="0.8" stroke-opacity="0.75" stroke-linejoin="round"/>
</g>
<g transform="translate(184.8 250)">
<use href="#s20f" fill="none" stroke="#f6b8f2" stroke-width="3.6" stroke-linecap="round" stroke-dasharray="7 60 12 100" stroke-dashoffset="-3"/><ellipse cx="50.7" cy="67.4" rx="3" ry="2.6" fill="#f090ec"/>
<path d="M12.89 28.66l-3.86 0.14M8.99 22.22l-3.66 3.64M52.82 64.32l2.38 0.53M11.8 26.87l-3.27 0.08M47.06 65.19l-3.84 2.95M4.31 12.95l-4.17 -0.24M42.37 60.89l-1.4 2.25M53.05 60.53l2.74 1.76M45.05 63.34l-4.05 -0.55M49.54 66.96l-2.48 0.59M4.56 13.5l-3.24 2.26M23.1 41.3l-3.75 1.99M48.93 66.57l-3.6 1.57M45.15 63.44l-4.81 -0.83" stroke="#e8c8e8" stroke-width="0.7" stroke-opacity="0.6" fill="none"/>
<g clip-path="url(#s20c)">
<rect width="69.2" height="68.6" fill="#2ee432"/>
<rect width="69.2" height="68.6" fill="url(#g14)" filter="url(#f54)"/>
<rect width="69.2" height="68.6" fill="#fff" filter="url(#f48)"/>
<rect width="69.2" height="68.6" fill="#fff" filter="url(#f49)"/>
<rect width="69.2" height="68.6" fill="#fff" filter="url(#f55)"/>
<use href="#s20f" fill="none" stroke="#f070ea" stroke-width="5" stroke-dasharray="9 60 12 100" stroke-dashoffset="-2"/><ellipse cx="50.7" cy="66.4" rx="3.4" ry="3.6" fill="#fbd8fb"/><use href="#s20f" fill="none" stroke="#fde4fd" stroke-width="1.4" stroke-dasharray="5 62 10 100" stroke-dashoffset="-4"/>
</g>
</g>
<g transform="translate(184.8 325.2)">
<path d="M4.26 12.93l-4.82 1.83M31.8 51.33l-5.07 0.24M13.85 30.1l-3.53 0.88M57.22 28.92l2.79 1.21M47.34 65.83l-3.02 2.84M50.36 67.88l-3.9 0.11M15.24 31.84l-1.59 0.84M26.36 45.42l-3.76 0.4M18.99 36.52l-3.47 -0.94M50.44 67.93l-2.14 0.91M53.08 60.43l3.33 0.63M11.92 27.23l-2.71 3.05M56.26 34.42l3.52 -1.04M49.06 67.04l-2.55 -0.12" stroke="#d8d8d8" stroke-width="0.7" stroke-opacity="0.6" fill="none"/>
<g clip-path="url(#s21c)">
<rect width="69.2" height="69" fill="#98a2a2"/>
<rect width="69.2" height="69" fill="url(#g16)" filter="url(#f56)"/>
<rect width="69.2" height="69" fill="url(#g15)" filter="url(#f57)"/>
</g>
<use href="#s21" fill="none" stroke="#e0e0e0" stroke-width="0.8" stroke-opacity="0.75" stroke-linejoin="round"/>
</g>
<g transform="translate(259.2 250)">
<use href="#s22f" fill="none" stroke="#f6b8f2" stroke-width="3.6" stroke-linecap="round" stroke-dasharray="7 60 12 100" stroke-dashoffset="-3"/><ellipse cx="51.1" cy="67.4" rx="3" ry="2.6" fill="#f090ec"/>
<path d="M61.66 16.42l2.39 -0.25M45.94 64.4l-3.45 2.1M24.53 43.16l-4.01 0.64M19.78 37.43l-2.64 3.83M53.38 53.54l3.7 -0.81M12.67 28.43l-2.6 0.34M12.09 27.46l-2.35 2.36M53.75 49.81l2.15 0.93M60.34 19.17l4.13 -2.66M46.24 64.68l-2.99 2.91M46.24 64.68l-2.15 0.24M22.9 41.22l-2.29 2.62M28.52 47.91l-2.61 0.18M38.43 57.46l-2.38 4.04" stroke="#e8c8e8" stroke-width="0.7" stroke-opacity="0.6" fill="none"/>
<g clip-path="url(#s22c)">
<rect width="68.8" height="68.6" fill="#2ee432"/>
<rect width="68.8" height="68.6" fill="url(#g14)" filter="url(#f58)"/>
<rect width="68.8" height="68.6" fill="#fff" filter="url(#f48)"/>
<rect width="68.8" height="68.6" fill="#fff" filter="url(#f49)"/>
<rect width="68.8" height="68.6" fill="#fff" filter="url(#f59)"/>
<use href="#s22f" fill="none" stroke="#f070ea" stroke-width="5" stroke-dasharray="9 60 12 100" stroke-dashoffset="-2"/><ellipse cx="51.1" cy="66.4" rx="3.4" ry="3.6" fill="#fbd8fb"/><use href="#s22f" fill="none" stroke="#fde4fd" stroke-width="1.4" stroke-dasharray="5 62 10 100" stroke-dashoffset="-4"/>
</g>
</g>
<g transform="translate(259.2 325.2)">
<path d="M34.57 54.14l-2.73 2M40.46 59.7l-3.93 0.62M29.8 49.6l-5.25 0.1M52.65 62.41l4.89 -0.1M43.03 62.09l-1.34 1.59M16.75 33.84l-4.23 1.37M23.8 42.54l-1.48 1.24M19.56 37.39l-3.11 1.63M32.96 52.6l-2.51 2.4M8.88 22.24l-3.07 2.24M50.24 67.99l-3.26 1.74M29.84 49.64l-1.43 1.04M26.04 45.22l-4.47 0.58M58.18 25.31l3.62 -1.94" stroke="#d8d8d8" stroke-width="0.7" stroke-opacity="0.6" fill="none"/>
<g clip-path="url(#s23c)">
<rect width="68.8" height="69" fill="#947eb4"/>
<rect width="68.8" height="69" fill="url(#g14)" filter="url(#f60)"/>
<rect width="68.8" height="69" fill="url(#g15)" filter="url(#f61)"/>
</g>
<use href="#s23" fill="none" stroke="#e0e0e0" stroke-width="0.8" stroke-opacity="0.75" stroke-linejoin="round"/>
</g>
<g transform="translate(332.8 250)">
<use href="#s24f" fill="none" stroke="#f6b8f2" stroke-width="3.6" stroke-linecap="round" stroke-dasharray="7 60 12 100" stroke-dashoffset="-3"/><ellipse cx="48.7" cy="67.4" rx="3" ry="2.6" fill="#f090ec"/>
<path d="M39.69 59.41l-2.17 3.32M7.43 19.95l-1.32 1.34M59.26 18.81l1.94 1.11M40.99 60.63l-2.62 1.89M25.16 44.53l-4.81 1.18M29.13 49.25l-2.92 3.54M24.18 43.34l-1.61 2.66M46.35 65.67l-2.96 1.19M42.58 62.12l-3.86 -0.8M5.45 15.79l-3.28 3.95M46.83 66.02l-2.51 1.03M26.53 46.2l-1.36 1.36M62.52 12.02l3.88 -2.1M36.06 55.93l-4.61 1.97" stroke="#e8c8e8" stroke-width="0.7" stroke-opacity="0.6" fill="none"/>
<g clip-path="url(#s24c)">
<rect width="67.4" height="68.6" fill="#2ee432"/>
<rect width="67.4" height="68.6" fill="url(#g14)" filter="url(#f62)"/>
<rect width="67.4" height="68.6" fill="#fff" filter="url(#f48)"/>
<rect width="67.4" height="68.6" fill="#fff" filter="url(#f49)"/>
<rect width="67.4" height="68.6" fill="#fff" filter="url(#f63)"/>
<use href="#s24f" fill="none" stroke="#f070ea" stroke-width="5" stroke-dasharray="9 60 12 100" stroke-dashoffset="-2"/><ellipse cx="48.7" cy="66.4" rx="3.4" ry="3.6" fill="#fbd8fb"/><use href="#s24f" fill="none" stroke="#fde4fd" stroke-width="1.4" stroke-dasharray="5 62 10 100" stroke-dashoffset="-4"/>
</g>
</g>
<g transform="translate(332.8 325.2)">
<path d="M5.59 16.22l-0.93 1.55M48.19 67.31l-2.49 1.37M48.78 67.7l-2.8 0.56M61.29 14.66l2.19 0.55M53.96 39.58l4.06 -2.06M48.65 67.61l-4.33 -1.21M14.89 31.89l-3.96 0.72M56.85 25.76l5.11 0.76M58.61 20.73l5.13 0.61M26.13 45.98l-4.78 1M53.62 42.24l2.61 -0.66M48.58 67.57l-2.76 -0.13M49.21 67.99l-3.44 3.85M58.09 22.22l2.48 1.62" stroke="#d8d8d8" stroke-width="0.7" stroke-opacity="0.6" fill="none"/>
<g clip-path="url(#s25c)">
<rect width="67.4" height="69" fill="#947eb4"/>
<rect width="67.4" height="69" fill="url(#g14)" filter="url(#f64)"/>
<rect width="67.4" height="69" fill="url(#g15)" filter="url(#f65)"/>
</g>
<use href="#s25" fill="none" stroke="#e0e0e0" stroke-width="0.8" stroke-opacity="0.75" stroke-linejoin="round"/>
</g>
<g transform="translate(402 250)">
<use href="#s26f" fill="none" stroke="#f6b8f2" stroke-width="3.6" stroke-linecap="round" stroke-dasharray="7 60 12 100" stroke-dashoffset="-3"/><ellipse cx="51.5" cy="67.4" rx="3" ry="2.6" fill="#f090ec"/>
<path d="M36.04 53.69l-3.92 2.22M55.63 55.74l2.55 -1.82M57.14 43.01l2.4 -1.96M39.6 56.9l-2.56 -0.08M20.95 37.74l-3.25 1.07M8.64 21.06l-2.77 3.63M36.92 54.48l-3.15 1.66M6.94 18.17l-4.48 1.68M28.81 46.74l-2.59 2.83M37.39 54.91l-1.5 1.96M61.31 24.07l2.65 0.25M57.88 37.92l3.82 -0.28M8.89 21.48l-1.34 2.06M2.74 9.25l-1.65 2.56" stroke="#e8c8e8" stroke-width="0.7" stroke-opacity="0.6" fill="none"/>
<g clip-path="url(#s26c)">
<rect width="72" height="68.6" fill="#2ee432"/>
<rect width="72" height="68.6" fill="url(#g14)" filter="url(#f66)"/>
<rect width="72" height="68.6" fill="#fff" filter="url(#f48)"/>
<rect width="72" height="68.6" fill="#fff" filter="url(#f49)"/>
<rect width="72" height="68.6" fill="#fff" filter="url(#f67)"/>
<use href="#s26f" fill="none" stroke="#f070ea" stroke-width="5" stroke-dasharray="9 60 12 100" stroke-dashoffset="-2"/><ellipse cx="51.5" cy="66.4" rx="3.4" ry="3.6" fill="#fbd8fb"/><use href="#s26f" fill="none" stroke="#fde4fd" stroke-width="1.4" stroke-dasharray="5 62 10 100" stroke-dashoffset="-4"/>
</g>
</g>
<g transform="translate(402 325.2)">
<path d="M59.38 29.62l1.66 1.07M30 48.36l-2.06 0.13M11.32 25.48l-3.93 -1.16M29.36 47.64l-2.22 1.3M55.34 58.79l2.81 -1M55.24 60.25l3.63 -2.66M67.13 11.42l2.1 -0.05M7.02 18.45l-2.78 0.28M51.58 67.37l-2.82 1.16M17.58 33.91l-1.78 1.88M48.81 65.44l-4.57 1.9M56.27 49.87l4.64 -1.91M63.95 17.65l2.08 -0.15M55.15 61.63l2.93 -0.2" stroke="#d8d8d8" stroke-width="0.7" stroke-opacity="0.6" fill="none"/>
<g clip-path="url(#s27c)">
<rect width="72" height="69" fill="#947eb4"/>
<rect width="72" height="69" fill="url(#g14)" filter="url(#f64)"/>
<rect width="72" height="69" fill="url(#g15)" filter="url(#f65)"/>
</g>
<use href="#s27" fill="none" stroke="#e0e0e0" stroke-width="0.8" stroke-opacity="0.75" stroke-linejoin="round"/>
</g>
<g transform="translate(478 250)">
<use href="#s28f" fill="none" stroke="#f6b8f2" stroke-width="3.6" stroke-linecap="round" stroke-dasharray="7 60 12 100" stroke-dashoffset="-3"/><ellipse cx="48.7" cy="67.4" rx="3" ry="2.6" fill="#f090ec"/>
<path d="M53.41 37.73l2.86 -0.54M51.69 51.71l2.25 0.17M52.49 44.69l1.73 -0.64M15.09 32.25l-2.38 2.52M21.13 40.02l-1.85 -0.61M62.68 9.72l4.66 0.39M46.35 66.17l-4.48 2.68M51.1 57.85l4.68 -1.42M45.65 65.66l-2.65 2.99M31.77 52.25l-1.16 1.32M55.84 26.06l1.86 -0.37M16.91 34.61l-1.56 1.8M59.14 17.19l4.61 0.65M60.65 14l2.35 -0.77" stroke="#e8c8e8" stroke-width="0.7" stroke-opacity="0.6" fill="none"/>
<g clip-path="url(#s28c)">
<rect width="66.4" height="68.6" fill="#2ee432"/>
<rect width="66.4" height="68.6" fill="url(#g14)" filter="url(#f68)"/>
<rect width="66.4" height="68.6" fill="#fff" filter="url(#f48)"/>
<rect width="66.4" height="68.6" fill="#fff" filter="url(#f49)"/>
<rect width="66.4" height="68.6" fill="#fff" filter="url(#f69)"/>
<use href="#s28f" fill="none" stroke="#f070ea" stroke-width="5" stroke-dasharray="9 60 12 100" stroke-dashoffset="-2"/><ellipse cx="48.7" cy="66.4" rx="3.4" ry="3.6" fill="#fbd8fb"/><use href="#s28f" fill="none" stroke="#fde4fd" stroke-width="1.4" stroke-dasharray="5 62 10 100" stroke-dashoffset="-4"/>
</g>
</g>
<g transform="translate(478 325.2)">
<path d="M43.09 63.59l-2.01 1.99M43.85 64.32l-3.8 1.96M46.74 66.82l-3.16 2.42M50.62 65.69l2.87 1.85M52.28 46.65l5.18 0.46M41.21 61.78l-1.72 0.38M28.04 48.83l-1.75 2.43M48.14 67.76l-3.5 2.39M48.23 67.82l-1.71 1.27M54.06 33.97l3.63 0.15M3.37 11.27l-1.48 1.5M48.38 67.92l-2.61 4.25M51.99 48.97l3.73 0.52M41.74 62.29l-1.76 1.1" stroke="#d8d8d8" stroke-width="0.7" stroke-opacity="0.6" fill="none"/>
<g clip-path="url(#s29c)">
<rect width="66.4" height="69" fill="#947eb4"/>
<rect width="66.4" height="69" fill="url(#g14)" filter="url(#f70)"/>
<rect width="66.4" height="69" fill="url(#g15)" filter="url(#f65)"/>
</g>
<use href="#s29" fill="none" stroke="#e0e0e0" stroke-width="0.8" stroke-opacity="0.75" stroke-linejoin="round"/>
</g>
<g transform="translate(548 250)">
<use href="#s30f" fill="none" stroke="#f6b8f2" stroke-width="3.6" stroke-linecap="round" stroke-dasharray="7 60 12 100" stroke-dashoffset="-3"/><ellipse cx="48.3" cy="67.4" rx="3" ry="2.6" fill="#f090ec"/>
<path d="M13.78 30.14l-3.28 1.23M3 10.19l-3.58 -0.68M7.77 20.41l-4.23 1.07M46.96 65.84l-4.12 0.67M34.46 54.1l-4.44 2.4M53.73 44.86l3.79 1.94M59.03 20.89l3.86 2.51M51.97 63.27l3.64 -1.96M48.07 66.56l-2.99 0.49M3.9 12.21l-2.95 2.84M28.72 48.55l-5.03 -0.19M49.61 67.56l-1.8 -0.58M57.12 26.26l2.62 0.67M5.22 15.17l-2.74 2.29" stroke="#e8c8e8" stroke-width="0.7" stroke-opacity="0.6" fill="none"/>
<g clip-path="url(#s30c)">
<rect width="68" height="68.6" fill="#2ee432"/>
<rect width="68" height="68.6" fill="url(#g14)" filter="url(#f71)"/>
<rect width="68" height="68.6" fill="#fff" filter="url(#f48)"/>
<rect width="68" height="68.6" fill="#fff" filter="url(#f49)"/>
<rect width="68" height="68.6" fill="#fff" filter="url(#f72)"/>
<use href="#s30f" fill="none" stroke="#f070ea" stroke-width="5" stroke-dasharray="9 60 12 100" stroke-dashoffset="-2"/><ellipse cx="48.3" cy="66.4" rx="3.4" ry="3.6" fill="#fbd8fb"/><use href="#s30f" fill="none" stroke="#fde4fd" stroke-width="1.4" stroke-dasharray="5 62 10 100" stroke-dashoffset="-4"/>
</g>
</g>
<g transform="translate(548 325.2)">
<path d="M3.74 11.91l-3.27 2.34M38.99 58.76l-4.77 -1.16M34.55 54.5l-1.46 1.63M20.03 38.27l-2.63 0.65M62.36 13.58l3.46 1.77M42.32 61.89l-2.91 0.84M54 43l2.83 -0.12M8.01 20.95l-4.94 1.45M14.09 30.71l-2.77 -0.8M15.06 31.94l-2.63 -0.91M52.78 53.65l2.94 0.44M33.03 53.03l-3.92 1.81M12.75 28.98l-4.99 0.51M42.06 61.65l-3.89 0.41" stroke="#d8d8d8" stroke-width="0.7" stroke-opacity="0.6" fill="none"/>
<g clip-path="url(#s31c)">
<rect width="68" height="69" fill="#947eb4"/>
<rect width="68" height="69" fill="url(#g14)" filter="url(#f73)"/>
<rect width="68" height="69" fill="url(#g15)" filter="url(#f65)"/>
</g>
<use href="#s31" fill="none" stroke="#e0e0e0" stroke-width="0.8" stroke-opacity="0.75" stroke-linejoin="round"/>
</g>
<g transform="translate(620 250)">
<use href="#s32f" fill="none" stroke="#f6b8f2" stroke-width="3.6" stroke-linecap="round" stroke-dasharray="7 60 12 100" stroke-dashoffset="-3"/><ellipse cx="49.5" cy="67.4" rx="3" ry="2.6" fill="#f090ec"/>
<path d="M58.34 27.97l4.37 2.37M55.98 41.03l4.74 1.42M48.72 65.99l-3.27 1.68M29.59 48.48l-3.11 0.79M60.22 22.86l3.29 -0.56M43.42 61.29l-3.05 1.89M43.19 61.07l-4.72 -0.24M23.93 41.88l-4.36 1.34M26.34 44.68l-2.99 3.97M50.16 66.9l-2.19 1.88M53.53 65.24l4.61 -1.63M38.25 56.57l-5.02 1.53M37.75 56.11l-3.04 1.46M43.41 61.28l-3.96 -1.12" stroke="#e8c8e8" stroke-width="0.7" stroke-opacity="0.6" fill="none"/>
<g clip-path="url(#s32c)">
<rect width="70.2" height="68.6" fill="#2ee432"/>
<rect width="70.2" height="68.6" fill="url(#g14)" filter="url(#f74)"/>
<rect width="70.2" height="68.6" fill="#fff" filter="url(#f48)"/>
<rect width="70.2" height="68.6" fill="#fff" filter="url(#f49)"/>
<rect width="70.2" height="68.6" fill="#fff" filter="url(#f75)"/>
<use href="#s32f" fill="none" stroke="#f070ea" stroke-width="5" stroke-dasharray="9 60 12 100" stroke-dashoffset="-2"/><ellipse cx="49.5" cy="66.4" rx="3.4" ry="3.6" fill="#fbd8fb"/><use href="#s32f" fill="none" stroke="#fde4fd" stroke-width="1.4" stroke-dasharray="5 62 10 100" stroke-dashoffset="-4"/>
</g>
</g>
<g transform="translate(620 325.2)">
<path d="M4.42 13.13l-3.78 1.37M54.82 50.35l2.75 2.09M39.61 58.16l-4.06 0.94M53.58 64.66l5.01 -1.3M58.63 27.32l2.72 0.6M39.49 58.05l-2.06 1.02M32.15 51.23l-3.13 -0.63M36.42 55.19l-4.45 2.75M5.71 15.96l-0.9 1.51M58.01 29.05l4.52 -1.27M40.92 59.38l-3.09 3.19M50.27 67.36l-5 1.57M26.51 45.15l-2.37 2.66M3 10.03l-2.47 2.59" stroke="#d8d8d8" stroke-width="0.7" stroke-opacity="0.6" fill="none"/>
<g clip-path="url(#s33c)">
<rect width="70.2" height="69" fill="#947eb4"/>
<rect width="70.2" height="69" fill="url(#g14)" filter="url(#f76)"/>
<rect width="70.2" height="69" fill="url(#g15)" filter="url(#f65)"/>
</g>
<use href="#s33" fill="none" stroke="#e0e0e0" stroke-width="0.8" stroke-opacity="0.75" stroke-linejoin="round"/>
</g>
<g transform="translate(29.8 448.6)">
<g clip-path="url(#s34c)">
<rect width="70.6" height="67.8" fill="#2e2e2e"/>
<rect width="70.6" height="67.8" fill="url(#g17)" filter="url(#f77)"/>
<rect width="70.6" height="67.8" fill="#fff" filter="url(#f78)"/>
</g>
</g>
<g transform="translate(29.8 521.4)">
<g clip-path="url(#s35c)">
<rect width="70.6" height="66.6" fill="#2e2e2e"/>
<rect width="70.6" height="66.6" fill="url(#g17)" filter="url(#f77)"/>
<rect width="70.6" height="66.6" fill="#fff" filter="url(#f78)"/>
</g>
</g>
<g transform="translate(29.8 597.4)">
<g clip-path="url(#s36c)">
<rect width="70.6" height="66.8" fill="#2e2e2e"/>
<rect width="70.6" height="66.8" fill="url(#g17)" filter="url(#f77)"/>
<rect width="70.6" height="66.8" fill="#fff" filter="url(#f78)"/>
</g>
</g>
<g transform="translate(103 448.6)">
<g clip-path="url(#s37c)">
<rect width="74" height="69" fill="url(#uf)"/><use href="#s37" fill="none" stroke="#4a4a4a" stroke-width="3"/>
<g clip-path="url(#s38c)">
<rect width="68" height="67.8" fill="#b4ffff"/>
<rect width="68" height="67.8" fill="url(#g18)" filter="url(#f79)"/>
<rect width="68" height="67.8" fill="url(#g19)" filter="url(#f80)"/>
<rect width="68" height="67.8" fill="#fff" filter="url(#f81)"/>
</g>
</g>
</g>
<g transform="translate(103 521.4)">
<g clip-path="url(#s39c)">
<rect width="74" height="69" fill="url(#uf)"/><use href="#s39" fill="none" stroke="#4a4a4a" stroke-width="3"/>
<g clip-path="url(#s40c)">
<rect width="68" height="66.6" fill="#70ee80"/>
<rect width="68" height="66.6" fill="url(#g18)" filter="url(#f82)"/>
<rect width="68" height="66.6" fill="url(#g14)" filter="url(#f83)"/>
</g>
</g>
</g>
<g transform="translate(103 597.4)">
<g transform="translate(10 31) rotate(54)"><ellipse rx="7.6" ry="2.9" fill="#f8860e"/><ellipse cx="1" cy="1.9" rx="5" ry="1.7" fill="#8a3208"/></g><ellipse cx="49.2" cy="64.2" rx="5" ry="4" fill="#f8860e"/><ellipse cx="49.7" cy="65.2" rx="2.6" ry="2.2" fill="#8a3208"/>
<g clip-path="url(#s41c)">
<rect width="68" height="66.8" fill="#686868"/>
<rect width="68" height="66.8" fill="#fff" filter="url(#f84)"/>
<rect width="68" height="66.8" fill="#fff" filter="url(#f85)"/>
<rect width="68" height="66.8" fill="#fff" filter="url(#f86)"/>
<g transform="translate(11 30) rotate(54)"><ellipse rx="7" ry="2.4" fill="#f8860e"/></g><use href="#s41e" fill="none" stroke="#f8ee18" stroke-width="3"/><ellipse cx="48.2" cy="61.8" rx="5" ry="2.2" fill="#f8ee18"/><ellipse cx="49.6" cy="65.3" rx="3.6" ry="2.6" fill="#f8860e"/>
</g>
</g>
<g transform="translate(175 448.6)">
<g clip-path="url(#s42c)">
<rect width="74" height="69" fill="url(#uf)"/><use href="#s42" fill="none" stroke="#4a4a4a" stroke-width="3"/>
<g clip-path="url(#s43c)">
<rect width="68" height="67.8" fill="#12e6ff"/>
<rect width="68" height="67.8" fill="url(#g19)" filter="url(#f87)"/>
<rect width="68" height="67.8" fill="url(#g4)" filter="url(#f88)"/>
<rect width="68" height="67.8" fill="url(#g20)" filter="url(#f89)"/>
</g>
</g>
</g>
<g transform="translate(175 521.4)">
<g clip-path="url(#s44c)">
<rect width="74" height="69" fill="url(#uf)"/><use href="#s44" fill="none" stroke="#4a4a4a" stroke-width="3"/>
<g clip-path="url(#s45c)">
<rect width="68" height="66.6" fill="#5ce070"/>
<rect width="68" height="66.6" fill="url(#g18)" filter="url(#f90)"/>
<rect width="68" height="66.6" fill="url(#g8)" filter="url(#f91)"/>
<rect width="68" height="66.6" fill="#fff" filter="url(#f92)"/>
</g>
</g>
</g>
<g transform="translate(175 597.4)">
<g transform="translate(10 31) rotate(54)"><ellipse rx="7.6" ry="2.9" fill="#f8860e"/><ellipse cx="1" cy="1.9" rx="5" ry="1.7" fill="#8a3208"/></g><ellipse cx="48.6" cy="64.2" rx="5" ry="4" fill="#f8860e"/><ellipse cx="49.1" cy="65.2" rx="2.6" ry="2.2" fill="#8a3208"/>
<g clip-path="url(#s46c)">
<rect width="68" height="66.8" fill="#727272"/>
<rect width="68" height="66.8" fill="#fff" filter="url(#f93)"/>
<rect width="68" height="66.8" fill="#fff" filter="url(#f94)"/>
<rect width="68" height="66.8" fill="#fff" filter="url(#f86)"/>
<g transform="translate(11 30) rotate(54)"><ellipse rx="7" ry="2.4" fill="#f8860e"/></g><use href="#s46l" fill="none" stroke="#f8ee18" stroke-width="3"/><ellipse cx="47.6" cy="61.8" rx="5" ry="2.2" fill="#f8ee18"/><ellipse cx="49.0" cy="65.3" rx="3.6" ry="2.6" fill="#f8860e"/>
</g>
</g>
<g transform="translate(243.8 448.6)">
<g clip-path="url(#s47c)">
<rect width="74" height="69" fill="url(#uf)"/><use href="#s47" fill="none" stroke="#4a4a4a" stroke-width="3"/>
<g clip-path="url(#s48c)">
<rect width="71.5" height="67.8" fill="#22dcff"/>
<rect width="71.5" height="67.8" fill="url(#g16)" filter="url(#f95)"/>
<rect width="71.5" height="67.8" fill="url(#g21)" filter="url(#f96)"/>
<rect width="71.5" height="67.8" fill="url(#g20)" filter="url(#f89)"/>
</g>
</g>
</g>
<g transform="translate(243.8 521.4)">
<g clip-path="url(#s49c)">
<rect width="74" height="69" fill="url(#uf)"/><use href="#s49" fill="none" stroke="#4a4a4a" stroke-width="3"/>
<g clip-path="url(#s50c)">
<rect width="71.5" height="66.6" fill="#28b860"/>
<rect width="71.5" height="66.6" fill="url(#g8)" filter="url(#f97)"/>
<rect width="71.5" height="66.6" fill="#fff" filter="url(#f98)"/>
<rect width="71.5" height="66.6" fill="#fff" filter="url(#f92)"/>
</g>
</g>
</g>
<g transform="translate(243.8 597.4)">
<g transform="translate(10 31) rotate(54)"><ellipse rx="7.6" ry="2.9" fill="#f8860e"/><ellipse cx="1" cy="1.9" rx="5" ry="1.7" fill="#8a3208"/></g><use href="#s51f" fill="none" stroke="#d8700c" stroke-width="3.8" stroke-linecap="round"/><ellipse cx="51.8" cy="65.3" rx="4.4" ry="3.7" fill="#5e1606"/>
<g clip-path="url(#s51c)">
<rect width="71.5" height="66.8" fill="#7c7c7c"/>
<rect width="71.5" height="66.8" fill="#fff" filter="url(#f99)"/>
<rect width="71.5" height="66.8" fill="#fff" filter="url(#f100)"/>
<rect width="71.5" height="66.8" fill="#fff" filter="url(#f86)"/>
<rect width="71.5" height="66.8" fill="url(#g22)" filter="url(#f101)"/>
<rect width="71.5" height="66.8" fill="#fff" filter="url(#f102)"/>
<rect width="71.5" height="66.8" fill="url(#g18)" filter="url(#f103)"/>
<use href="#s51l" fill="none" stroke="#f8860e" stroke-width="3.6"/><use href="#s51f" fill="none" stroke="#f8860e" stroke-width="5.4"/><ellipse cx="51.8" cy="60.3" rx="5" ry="2.6" fill="#f8860e"/><ellipse cx="52.0" cy="65.2" rx="3.4" ry="3" fill="#5e1606"/>
</g>
</g>
<g transform="translate(318 448.6)">
<g clip-path="url(#s52c)">
<rect width="74" height="69" fill="url(#uf)"/><use href="#s52" fill="none" stroke="#4a4a4a" stroke-width="3"/>
<g clip-path="url(#s53c)">
<rect width="70.8" height="67.8" fill="#1c84f4"/>
<rect width="70.8" height="67.8" fill="url(#g23)" filter="url(#f104)"/>
<rect width="70.8" height="67.8" fill="url(#g20)" filter="url(#f105)"/>
<rect width="70.8" height="67.8" fill="#fff" filter="url(#f106)"/>
<rect width="70.8" height="67.8" fill="url(#g20)" filter="url(#f89)"/>
</g>
</g>
</g>
<g transform="translate(318 521.4)">
<g clip-path="url(#s54c)">
<rect width="74" height="69" fill="url(#uf)"/><use href="#s54" fill="none" stroke="#4a4a4a" stroke-width="3"/>
<g clip-path="url(#s55c)">
<rect width="70.8" height="66.6" fill="#20b060"/>
<rect width="70.8" height="66.6" fill="url(#g8)" filter="url(#f107)"/>
<rect width="70.8" height="66.6" fill="url(#g16)" filter="url(#f108)"/>
<rect width="70.8" height="66.6" fill="#fff" filter="url(#f92)"/>
</g>
</g>
</g>
<g transform="translate(318 597.4)">
<g transform="translate(10 31) rotate(54)"><ellipse rx="7.6" ry="2.9" fill="#f8860e"/><ellipse cx="1" cy="1.9" rx="5" ry="1.7" fill="#8a3208"/></g><use href="#s56f" fill="none" stroke="#d8700c" stroke-width="4.3" stroke-linecap="round"/><ellipse cx="51.3" cy="65.3" rx="4.6" ry="3.8" fill="#5e1606"/>
<g clip-path="url(#s56c)">
<rect width="70.8" height="66.8" fill="#868686"/>
<rect width="70.8" height="66.8" fill="#fff" filter="url(#f109)"/>
<rect width="70.8" height="66.8" fill="#fff" filter="url(#f110)"/>
<rect width="70.8" height="66.8" fill="#fff" filter="url(#f86)"/>
<rect width="70.8" height="66.8" fill="url(#g22)" filter="url(#f111)"/>
<rect width="70.8" height="66.8" fill="#fff" filter="url(#f102)"/>
<rect width="70.8" height="66.8" fill="url(#g18)" filter="url(#f112)"/>
<use href="#s56l" fill="none" stroke="#f8860e" stroke-width="3.6"/><use href="#s56f" fill="none" stroke="#f8860e" stroke-width="6.1"/><ellipse cx="51.3" cy="60.3" rx="5" ry="2.6" fill="#f8860e"/><ellipse cx="51.5" cy="65.2" rx="3.4" ry="3" fill="#5e1606"/>
</g>
</g>
<g transform="translate(390.6 448.6)">
<g clip-path="url(#s57c)">
<rect width="74" height="69" fill="url(#uf)"/><use href="#s57" fill="none" stroke="#4a4a4a" stroke-width="3"/>
<g clip-path="url(#s58c)">
<rect width="72" height="67.8" fill="#1a90ff"/>
<rect width="72" height="67.8" fill="url(#g24)" filter="url(#f113)"/>
<rect width="72" height="67.8" fill="#fff" filter="url(#f114)"/>
<rect width="72" height="67.8" fill="url(#g20)" filter="url(#f89)"/>
</g>
</g>
</g>
<g transform="translate(390.6 521.4)">
<g clip-path="url(#s59c)">
<rect width="74" height="69" fill="url(#uf)"/><use href="#s59" fill="none" stroke="#4a4a4a" stroke-width="3"/>
<g clip-path="url(#s60c)">
<rect width="72" height="66.6" fill="#20b060"/>
<rect width="72" height="66.6" fill="url(#g16)" filter="url(#f115)"/>
<rect width="72" height="66.6" fill="#fff" filter="url(#f116)"/>
<rect width="72" height="66.6" fill="#fff" filter="url(#f92)"/>
</g>
</g>
</g>
<g transform="translate(390.6 597.4)">
<g transform="translate(10 31) rotate(54)"><ellipse rx="7.6" ry="2.9" fill="#f8860e"/><ellipse cx="1" cy="1.9" rx="5" ry="1.7" fill="#8a3208"/></g><use href="#s61f" fill="none" stroke="#d8700c" stroke-width="4.8" stroke-linecap="round"/><ellipse cx="52.4" cy="65.3" rx="4.9" ry="4.0" fill="#5e1606"/>
<g clip-path="url(#s61c)">
<rect width="72" height="66.8" fill="#909090"/>
<rect width="72" height="66.8" fill="#fff" filter="url(#f117)"/>
<rect width="72" height="66.8" fill="#fff" filter="url(#f118)"/>
<rect width="72" height="66.8" fill="#fff" filter="url(#f86)"/>
<rect width="72" height="66.8" fill="url(#g22)" filter="url(#f119)"/>
<rect width="72" height="66.8" fill="#fff" filter="url(#f102)"/>
<rect width="72" height="66.8" fill="url(#g18)" filter="url(#f120)"/>
<use href="#s61l" fill="none" stroke="#f8860e" stroke-width="3.6"/><use href="#s61f" fill="none" stroke="#f8860e" stroke-width="6.9"/><ellipse cx="52.4" cy="60.3" rx="5" ry="2.6" fill="#f8860e"/><ellipse cx="52.6" cy="65.2" rx="3.4" ry="3" fill="#5e1606"/>
</g>
</g>
<g transform="translate(467.4 448.6)">
<g clip-path="url(#s62c)">
<rect width="74" height="69" fill="url(#uf)"/><use href="#s62" fill="none" stroke="#4a4a4a" stroke-width="3"/>
<g clip-path="url(#s63c)">
<rect width="71.6" height="67.8" fill="#1c84f4"/>
<rect width="71.6" height="67.8" fill="url(#g4)" filter="url(#f121)"/>
<rect width="71.6" height="67.8" fill="#fff" filter="url(#f122)"/>
<rect width="71.6" height="67.8" fill="url(#g20)" filter="url(#f89)"/>
</g>
<ellipse cx="32" cy="38" rx="4.2" ry="3.4" fill="#8e8e8e"/><ellipse cx="33" cy="43" rx="2.4" ry="2" fill="#a8a8a8"/>
</g>
</g>
<g transform="translate(467.4 521.4)">
<g clip-path="url(#s64c)">
<rect width="74" height="69" fill="url(#uf)"/><use href="#s64" fill="none" stroke="#4a4a4a" stroke-width="3"/>
<g clip-path="url(#s65c)">
<rect width="71.6" height="66.6" fill="#10841a"/>
<rect width="71.6" height="66.6" fill="url(#g14)" filter="url(#f123)"/>
<rect width="71.6" height="66.6" fill="#fff" filter="url(#f92)"/>
</g>
</g>
</g>
<g transform="translate(467.4 597.4)">
<g transform="translate(10 31) rotate(54)"><ellipse rx="7.6" ry="2.9" fill="#f8860e"/><ellipse cx="1" cy="1.9" rx="5" ry="1.7" fill="#8a3208"/></g><use href="#s66f" fill="none" stroke="#d8700c" stroke-width="5.3" stroke-linecap="round"/><ellipse cx="52.2" cy="65.3" rx="5.1" ry="4.1" fill="#5e1606"/>
<g clip-path="url(#s66c)">
<rect width="71.6" height="66.8" fill="#949494"/>
<rect width="71.6" height="66.8" fill="#fff" filter="url(#f124)"/>
<rect width="71.6" height="66.8" fill="#fff" filter="url(#f125)"/>
<rect width="71.6" height="66.8" fill="#fff" filter="url(#f86)"/>
<rect width="71.6" height="66.8" fill="url(#g22)" filter="url(#f126)"/>
<rect width="71.6" height="66.8" fill="#fff" filter="url(#f102)"/>
<rect width="71.6" height="66.8" fill="url(#g18)" filter="url(#f127)"/>
<use href="#s66l" fill="none" stroke="#f8860e" stroke-width="3.6"/><use href="#s66f" fill="none" stroke="#f8860e" stroke-width="7.6"/><ellipse cx="52.2" cy="60.3" rx="5" ry="2.6" fill="#f8860e"/><ellipse cx="52.4" cy="65.2" rx="3.4" ry="3" fill="#5e1606"/>
</g>
</g>
<g transform="translate(542.8 448.6)">
<g clip-path="url(#s67c)">
<rect width="74" height="69" fill="url(#uf)"/><use href="#s67" fill="none" stroke="#4a4a4a" stroke-width="3"/>
<g clip-path="url(#s68c)">
<rect width="69.2" height="67.8" fill="#06068e"/>
<rect width="69.2" height="67.8" fill="url(#g8)" filter="url(#f128)"/>
<rect width="69.2" height="67.8" fill="url(#g20)" filter="url(#f89)"/>
</g>
<ellipse cx="33" cy="30" rx="4.2" ry="3.4" fill="#8e8e8e"/><ellipse cx="36" cy="36" rx="2.4" ry="2" fill="#a8a8a8"/>
</g>
</g>
<g transform="translate(542.8 521.4)">
<g clip-path="url(#s69c)">
<rect width="74" height="69" fill="url(#uf)"/><use href="#s69" fill="none" stroke="#4a4a4a" stroke-width="3"/>
<g clip-path="url(#s70c)">
<rect width="69.2" height="66.6" fill="#10841a"/>
<rect width="69.2" height="66.6" fill="url(#g14)" filter="url(#f129)"/>
<rect width="69.2" height="66.6" fill="#fff" filter="url(#f92)"/>
</g>
</g>
</g>
<g transform="translate(542.8 597.4)">
<g transform="translate(10 31) rotate(54)"><ellipse rx="7.6" ry="2.9" fill="#f8860e"/><ellipse cx="1" cy="1.9" rx="5" ry="1.7" fill="#8a3208"/></g><use href="#s71f" fill="none" stroke="#d8700c" stroke-width="5.8" stroke-linecap="round"/><ellipse cx="50.5" cy="65.3" rx="5.3" ry="4.3" fill="#5e1606"/>
<g clip-path="url(#s71c)">
<rect width="69.2" height="66.8" fill="#949494"/>
<rect width="69.2" height="66.8" fill="#fff" filter="url(#f124)"/>
<rect width="69.2" height="66.8" fill="#fff" filter="url(#f125)"/>
<rect width="69.2" height="66.8" fill="#fff" filter="url(#f86)"/>
<rect width="69.2" height="66.8" fill="url(#g22)" filter="url(#f130)"/>
<rect width="69.2" height="66.8" fill="#fff" filter="url(#f102)"/>
<rect width="69.2" height="66.8" fill="url(#g18)" filter="url(#f131)"/>
<use href="#s71l" fill="none" stroke="#f8860e" stroke-width="3.6"/><use href="#s71f" fill="none" stroke="#f8860e" stroke-width="8.3"/><ellipse cx="50.5" cy="60.3" rx="5" ry="2.6" fill="#f8860e"/><ellipse cx="50.7" cy="65.2" rx="3.4" ry="3" fill="#5e1606"/>
</g>
</g>
<g transform="translate(618 448.6)">
<g clip-path="url(#s72c)">
<rect width="74" height="69" fill="url(#uf)"/><use href="#s72" fill="none" stroke="#4a4a4a" stroke-width="3"/>
<g clip-path="url(#s73c)">
<rect width="69.6" height="67.8" fill="#06068e"/>
<rect width="69.6" height="67.8" fill="url(#g14)" filter="url(#f132)"/>
<rect width="69.6" height="67.8" fill="url(#g20)" filter="url(#f89)"/>
</g>
<ellipse cx="30" cy="33" rx="4.2" ry="3.4" fill="#8e8e8e"/><ellipse cx="33" cy="39" rx="2.4" ry="2" fill="#a8a8a8"/>
</g>
</g>
<g transform="translate(618 521.4)">
<g clip-path="url(#s74c)">
<rect width="74" height="69" fill="url(#uf)"/><use href="#s74" fill="none" stroke="#4a4a4a" stroke-width="3"/>
<g clip-path="url(#s75c)">
<rect width="69.6" height="66.6" fill="#10841a"/>
<rect width="69.6" height="66.6" fill="url(#g8)" filter="url(#f133)"/>
<rect width="69.6" height="66.6" fill="#fff" filter="url(#f92)"/>
</g>
</g>
</g>
<g transform="translate(618 597.4)">
<g transform="translate(10 31) rotate(54)"><ellipse rx="7.6" ry="2.9" fill="#f8860e"/><ellipse cx="1" cy="1.9" rx="5" ry="1.7" fill="#8a3208"/></g><use href="#s76f" fill="none" stroke="#d8700c" stroke-width="6.3" stroke-linecap="round"/><ellipse cx="51.1" cy="65.3" rx="5.5" ry="4.4" fill="#5e1606"/>
<g clip-path="url(#s76c)">
<rect width="69.6" height="66.8" fill="#949494"/>
<rect width="69.6" height="66.8" fill="#fff" filter="url(#f124)"/>
<rect width="69.6" height="66.8" fill="#fff" filter="url(#f125)"/>
<rect width="69.6" height="66.8" fill="#fff" filter="url(#f86)"/>
<rect width="69.6" height="66.8" fill="url(#g22)" filter="url(#f134)"/>
<rect width="69.6" height="66.8" fill="#fff" filter="url(#f102)"/>
<rect width="69.6" height="66.8" fill="url(#g18)" filter="url(#f135)"/>
<use href="#s76l" fill="none" stroke="#f8860e" stroke-width="3.6"/><use href="#s76f" fill="none" stroke="#f8860e" stroke-width="9.0"/><ellipse cx="51.1" cy="60.3" rx="5" ry="2.6" fill="#f8860e"/><ellipse cx="51.3" cy="65.2" rx="3.4" ry="3" fill="#5e1606"/>
</g>
</g>
<text x="431.6" y="458.2" font-size="12.5" font-weight="normal" fill="#000" text-anchor="start">2</text>
<rect x="63.8" y="676.2" width="187.4" height="106.4" fill="#fff"/>
<line x1="63.8" y1="676.2" x2="251.2" y2="676.2" stroke="#c8c8c8" stroke-width="0.8"/>
<line x1="251.2" y1="676.2" x2="251.2" y2="782.6" stroke="#c8c8c8" stroke-width="0.8"/>
<g clip-path="url(#pc1)">
<path d="M63.8 739.4C92 716 130 694 170 690C200 686.6 228 689.4 251.2 695.6" fill="none" stroke="#8c8cf2" stroke-width="1.3"/>
<g stroke="#ffffcc" stroke-width="1" fill="none"><circle cx="239.4" cy="773.6" r="6.2"/><path d="M222 784L251 768"/></g>
<path d="M151.7 690.2h0M182.4 699.6h0M172.2 691.5h0M170.1 725.0h0M178.2 721.7h0M164.9 713.7h0M147.9 705.6h0M145.1 696.1h0M166.1 719.6h0M137.5 726.2h0M162.9 707.7h0M163.7 709.2h0M155.8 705.1h0M182.7 733.0h0M155.4 719.5h0M184.3 730.9h0M132.9 726.4h0M142.7 693.9h0M150.0 738.1h0M163.5 681.8h0M169.8 714.4h0M150.0 711.9h0M158.7 716.8h0M143.6 718.4h0M176.2 727.7h0M147.3 713.5h0M171.2 708.1h0M144.9 716.1h0M159.1 708.2h0M160.8 713.9h0M171.6 695.7h0M178.0 731.7h0M140.3 711.2h0M161.7 715.3h0M154.9 741.8h0M153.6 731.1h0M191.7 725.6h0M146.1 713.2h0M139.0 692.2h0M166.5 734.1h0M178.5 702.0h0M182.9 740.8h0M163.9 724.1h0M147.1 682.3h0M129.5 715.7h0M149.5 701.4h0M150.8 714.2h0M162.2 719.4h0M164.7 672.6h0M158.1 716.0h0M173.8 723.8h0M147.6 709.2h0M146.3 687.2h0M143.6 704.1h0M178.2 739.9h0M170.3 725.8h0M164.6 711.1h0M171.7 688.6h0M152.4 688.8h0M163.6 726.2h0M161.0 736.9h0M146.8 717.8h0M182.0 732.0h0M172.5 721.8h0M137.4 696.4h0M147.2 704.5h0M150.1 709.9h0M117.1 707.6h0M177.1 723.0h0M146.8 702.7h0M163.3 722.5h0M176.8 699.5h0M134.6 711.7h0M171.7 701.6h0M157.6 690.9h0M137.1 711.5h0M147.3 719.3h0M171.1 701.1h0M133.5 724.8h0M156.0 695.0h0M172.7 725.7h0M147.4 724.5h0M133.0 697.1h0M154.9 688.9h0M139.5 713.4h0M169.5 694.8h0M133.1 713.5h0M178.7 713.4h0M191.0 734.3h0M144.0 698.3h0M158.1 735.7h0M174.0 719.1h0M161.5 693.6h0M161.4 706.1h0M170.2 703.7h0M157.9 699.0h0M151.5 689.1h0M153.8 691.1h0M164.4 718.8h0M137.7 702.5h0M151.0 727.6h0M157.1 708.1h0M148.5 705.8h0M162.9 718.7h0M150.7 714.2h0M157.4 715.1h0M144.8 704.0h0M151.6 694.2h0M144.8 731.9h0M170.5 722.5h0M148.6 718.6h0M166.5 737.1h0M154.3 711.7h0M155.9 706.1h0M149.1 700.9h0M139.7 679.0h0M170.0 708.5h0M174.1 706.5h0M150.5 711.5h0M150.2 694.9h0M193.9 732.1h0M153.3 699.6h0M158.6 712.1h0M164.6 729.2h0M155.5 704.7h0M151.1 684.2h0M143.5 710.5h0M153.7 720.2h0M171.0 720.5h0M188.1 729.6h0M153.3 701.7h0M173.2 722.8h0M145.6 708.0h0M173.0 722.9h0M147.0 718.7h0M163.5 730.5h0M146.4 706.4h0M175.5 700.3h0M172.3 725.5h0M137.4 727.9h0M165.0 707.3h0M153.1 716.2h0M168.6 720.1h0M152.2 696.9h0M155.4 694.4h0M161.3 707.6h0M164.6 705.5h0M148.5 701.3h0M145.3 718.2h0M145.2 704.3h0M166.9 700.3h0M165.9 721.1h0M127.4 695.1h0M175.5 715.0h0M178.1 731.1h0M139.5 704.7h0M163.2 696.7h0M129.4 691.6h0M144.2 709.8h0M166.6 711.6h0M138.6 721.6h0M173.9 736.4h0M160.6 699.8h0M141.2 722.2h0M165.8 714.3h0M141.5 700.6h0M146.9 702.9h0M159.6 729.0h0M162.2 710.5h0M147.9 729.9h0M172.8 703.9h0M175.6 730.4h0M204.8 744.4h0M159.0 708.5h0M166.9 711.0h0M153.4 680.1h0M160.2 706.3h0M135.5 724.1h0M160.1 729.7h0M149.6 709.3h0M156.8 708.0h0M163.0 725.0h0M160.7 716.5h0M145.3 690.6h0M165.4 712.9h0M145.8 706.9h0M151.3 696.6h0M171.6 718.2h0M172.0 731.4h0M160.0 730.1h0M131.7 688.7h0M145.3 694.6h0M147.8 721.6h0M145.7 725.6h0M151.9 706.0h0M152.4 721.0h0M161.8 706.2h0M164.0 696.6h0M168.3 731.5h0M161.3 718.8h0M153.4 702.2h0M173.7 713.7h0M137.0 717.3h0M175.3 730.7h0M163.3 719.1h0M178.9 723.1h0M155.6 717.0h0M177.6 724.9h0M164.4 710.2h0M154.6 699.6h0M152.7 720.4h0M153.7 699.7h0M150.5 710.8h0M175.6 708.6h0M169.5 707.2h0M173.7 711.2h0M149.7 694.7h0M164.3 702.9h0M159.6 715.4h0M157.1 715.1h0M174.0 714.9h0M158.2 711.8h0M129.9 694.1h0M153.6 698.0h0M151.8 708.2h0M158.6 719.5h0M144.5 710.7h0M165.9 713.0h0M152.0 718.6h0M158.4 722.4h0M151.2 722.7h0M182.1 738.7h0M126.1 710.1h0M160.8 694.5h0M125.9 691.2h0M164.3 731.7h0M143.1 720.3h0M161.2 706.2h0M157.3 714.5h0M155.8 715.9h0M120.0 702.7h0M146.4 711.6h0M147.0 705.1h0M167.0 696.9h0M158.2 721.3h0M159.2 682.9h0M156.0 698.3h0M159.5 713.0h0M173.2 734.1h0M153.7 710.7h0M129.1 674.7h0M147.5 701.6h0M160.4 717.1h0M174.3 715.8h0M162.7 714.0h0M155.9 714.8h0M153.1 710.9h0M150.3 720.3h0M154.5 713.4h0M185.4 744.0h0M156.7 726.3h0M140.7 707.6h0M164.1 723.4h0M164.4 728.6h0M177.1 718.8h0M167.1 711.9h0M172.2 725.9h0M141.3 699.6h0M138.8 710.0h0M169.3 690.1h0M146.0 716.6h0M166.5 710.1h0M161.9 723.5h0M169.6 734.7h0M168.0 709.1h0M159.3 717.5h0M155.2 715.7h0M139.5 704.6h0M155.6 715.1h0M158.9 708.5h0M155.6 721.2h0M151.8 711.4h0M145.7 707.7h0M167.2 701.5h0M178.4 716.4h0M168.2 701.8h0M132.3 699.8h0M155.5 680.3h0M166.3 696.8h0M142.7 725.2h0M150.7 711.0h0M163.1 719.8h0M146.0 723.4h0M154.5 714.2h0M168.3 702.4h0M161.5 715.7h0M161.0 724.4h0M190.4 712.1h0M154.5 702.4h0M144.6 706.7h0M156.1 712.4h0M144.9 687.4h0M160.3 707.6h0M151.4 704.8h0M162.1 700.3h0M182.9 723.3h0M161.7 723.6h0M173.7 717.1h0M142.8 705.5h0M177.6 695.0h0M130.1 680.8h0M155.2 705.8h0M169.8 708.1h0M183.7 746.4h0M171.8 727.5h0M131.2 692.8h0M148.3 710.1h0M151.9 716.4h0M149.9 700.0h0M163.3 705.8h0M148.2 712.5h0M182.8 729.8h0M175.9 710.9h0M150.2 710.1h0M172.1 709.3h0M164.2 719.3h0M167.3 733.1h0M167.4 714.3h0M167.1 707.5h0M160.9 688.3h0M151.1 688.2h0M156.0 711.8h0M142.4 697.5h0M156.4 723.7h0M155.3 712.8h0M147.0 715.8h0M137.5 698.1h0M118.0 702.6h0M183.8 703.8h0M161.4 694.9h0M139.5 690.6h0M140.1 711.6h0M159.4 697.4h0M154.2 714.4h0M164.4 724.4h0M145.7 689.9h0M161.6 703.0h0M169.3 716.5h0M159.7 708.0h0M168.9 699.8h0M187.2 728.3h0M161.5 689.6h0M166.5 699.4h0M153.5 725.0h0M168.4 714.3h0M174.6 723.1h0M156.9 711.8h0M149.3 710.4h0M155.4 684.6h0M177.5 717.8h0M151.3 710.9h0M160.5 697.2h0M162.1 701.9h0M167.6 713.6h0M149.4 715.5h0M149.7 683.7h0M157.9 729.6h0M163.9 706.8h0M169.1 728.4h0M182.9 707.1h0M163.5 701.9h0M140.7 705.4h0M170.0 715.2h0M145.3 720.6h0M166.7 717.3h0M163.3 717.8h0M146.3 694.7h0M157.0 719.7h0M149.1 692.9h0M161.4 693.2h0M168.0 726.6h0M188.9 706.9h0M135.5 718.6h0M153.6 682.4h0M149.7 727.0h0M172.3 710.2h0M161.7 720.7h0M158.4 717.6h0M159.8 729.7h0M167.0 734.4h0M169.0 694.9h0M175.0 704.8h0M193.4 725.2h0M148.5 677.7h0M160.6 718.2h0M163.8 720.7h0M142.9 710.6h0M160.0 692.2h0M165.2 725.3h0M148.4 700.2h0M163.8 729.9h0M137.3 710.1h0M126.1 686.2h0M163.4 714.6h0M170.5 699.6h0M152.9 714.6h0M145.8 703.5h0M171.6 691.4h0M146.6 710.4h0M139.0 696.2h0M170.9 704.6h0M148.7 716.7h0M173.6 710.9h0M167.9 725.0h0M148.9 725.6h0M164.2 722.3h0M164.9 727.1h0M174.1 723.8h0M125.6 706.8h0M164.0 724.4h0M159.1 711.6h0M165.8 705.0h0M166.7 720.4h0M144.6 704.4h0M154.2 708.3h0M145.7 739.8h0M142.2 704.5h0M163.6 722.6h0M179.0 723.4h0M154.1 708.5h0M133.7 707.2h0M139.1 703.9h0M178.3 717.1h0M157.3 708.4h0M177.0 731.6h0M129.2 703.0h0M184.4 705.8h0M106.7 706.0h0M173.9 695.1h0M160.9 734.5h0M120.2 698.3h0M166.7 719.0h0M146.8 708.0h0M147.0 705.0h0M158.0 705.6h0M157.8 725.7h0M165.6 724.7h0M187.2 718.6h0M157.5 714.2h0M188.6 705.5h0M154.8 704.8h0M144.5 732.8h0M161.5 713.6h0M156.3 724.5h0M144.1 724.2h0M134.5 710.0h0M159.6 727.5h0M178.6 725.8h0M161.2 718.4h0M156.0 699.4h0M142.6 711.1h0M139.3 678.0h0M149.8 723.7h0M147.9 721.5h0M161.0 706.9h0M137.7 697.6h0M178.4 730.4h0M141.2 706.2h0M149.3 688.4h0M168.7 726.8h0M168.1 723.8h0M155.3 712.2h0M146.7 717.5h0M155.6 683.0h0M141.3 710.9h0M167.6 687.1h0M199.2 733.3h0M151.6 714.8h0M163.7 714.4h0M135.4 700.4h0M147.3 700.5h0M169.9 716.5h0M140.4 688.6h0M160.4 724.2h0M141.8 699.1h0M154.1 723.9h0M161.8 717.4h0M151.0 712.8h0M168.5 718.5h0M142.3 723.7h0M163.0 705.0h0M174.9 708.5h0M138.4 708.6h0M152.7 718.8h0M172.7 713.5h0M166.8 714.0h0M158.8 716.3h0M166.0 700.4h0M161.5 715.2h0M171.8 708.6h0M161.9 712.3h0M154.7 705.4h0M164.5 698.1h0M154.6 702.6h0M164.7 715.4h0M170.9 731.4h0M160.4 716.9h0M138.3 700.6h0M180.3 716.3h0M169.7 730.5h0M164.4 711.3h0M163.7 705.7h0M157.4 712.3h0M167.3 702.5h0M173.8 715.9h0M158.7 720.9h0M138.4 730.2h0M156.5 716.7h0M152.7 712.2h0M138.3 704.5h0M157.1 704.0h0M160.9 727.2h0M160.0 699.2h0M140.7 683.4h0M159.5 722.2h0M142.5 699.7h0M175.9 716.3h0M157.6 698.9h0M176.1 700.5h0M153.2 714.5h0M150.7 719.4h0M168.9 714.0h0M153.3 693.1h0M164.8 715.8h0M165.7 705.6h0M165.8 730.8h0M174.8 710.4h0M183.4 745.1h0M138.3 709.1h0M161.9 704.2h0M145.4 708.4h0M160.2 716.8h0M162.5 701.3h0M162.9 712.3h0M151.3 715.0h0M182.7 723.9h0M174.7 715.6h0M163.6 725.8h0M156.8 714.3h0M151.0 701.4h0M164.1 727.9h0M192.0 726.4h0M151.7 708.1h0M162.2 708.5h0M153.7 707.0h0M174.0 724.0h0M146.8 707.0h0M132.7 678.6h0M148.3 708.2h0M132.1 687.3h0M138.4 709.3h0M170.6 716.3h0M171.7 707.1h0M158.8 716.3h0M173.7 719.2h0M126.8 697.0h0M148.8 696.7h0M142.3 722.0h0M149.5 721.0h0M168.5 701.3h0M159.9 720.8h0M162.0 693.6h0M177.2 758.0h0M159.8 720.0h0M165.2 726.4h0M149.9 685.8h0M158.5 731.4h0M165.0 729.5h0M151.2 719.8h0M172.9 731.9h0M164.6 734.5h0M141.4 714.5h0M155.2 696.9h0M188.6 714.7h0M149.5 717.6h0M165.3 712.8h0M143.4 706.9h0M164.9 716.7h0M156.3 690.6h0M158.2 711.6h0M170.1 717.8h0M177.2 711.2h0M131.0 702.4h0M158.7 700.9h0M164.7 700.7h0M163.4 697.3h0M164.1 709.0h0M157.4 711.5h0M175.1 702.5h0M161.7 711.5h0M146.1 698.4h0M160.8 720.9h0M183.9 729.2h0M146.5 729.2h0M156.6 699.3h0M156.6 702.6h0M156.7 713.0h0M156.8 695.2h0M165.8 701.5h0M146.0 706.8h0M163.7 703.0h0M147.9 689.7h0M136.8 701.7h0M164.7 721.9h0M165.1 711.1h0M159.5 714.1h0M161.9 708.5h0M143.3 703.7h0M170.2 706.8h0M155.5 709.5h0M175.5 703.1h0M150.8 686.9h0M150.7 690.9h0M176.0 711.0h0M181.4 735.4h0M166.5 718.5h0M165.6 723.7h0M163.5 724.7h0M162.7 721.3h0M170.8 723.1h0M141.0 719.8h0M149.6 710.5h0M187.2 727.7h0M159.4 703.8h0M142.6 708.1h0M154.7 711.1h0M134.5 699.1h0M162.7 689.2h0M160.4 691.8h0M188.3 714.1h0M168.5 706.4h0M157.1 693.5h0M179.9 715.1h0M148.9 707.6h0M148.9 714.0h0M160.3 691.6h0M155.2 726.2h0M170.0 710.5h0M166.4 730.1h0M150.6 711.9h0M156.9 712.7h0M159.7 725.6h0M158.6 713.5h0M134.2 680.8h0M168.9 710.1h0M163.8 714.2h0M158.2 713.5h0M170.1 729.1h0M166.7 702.9h0M169.7 707.0h0M177.4 718.6h0M151.7 704.7h0M142.8 706.1h0M166.5 709.8h0M139.2 721.7h0M167.9 728.0h0M151.2 727.1h0M155.2 706.1h0M163.6 702.1h0M135.0 718.3h0M165.9 706.5h0M158.5 705.8h0M153.3 707.3h0M152.9 683.0h0M157.2 708.2h0M144.9 699.7h0M150.0 708.2h0M148.0 719.1h0M170.0 731.3h0M152.6 719.3h0M163.5 723.2h0M169.7 716.8h0M163.6 724.2h0M164.0 714.9h0M149.3 713.0h0M159.5 698.7h0M169.7 738.4h0M139.7 715.9h0M130.1 697.1h0M164.4 721.1h0M150.5 716.6h0M171.8 708.4h0M142.8 713.2h0M174.6 710.5h0M137.8 701.4h0M153.4 698.4h0M150.5 709.1h0M129.2 698.9h0M147.6 716.2h0M150.7 694.2h0M157.2 725.2h0M159.7 709.3h0M166.5 734.3h0M163.3 713.4h0M168.1 730.4h0M144.0 720.8h0M169.6 725.1h0M158.4 723.3h0M160.8 698.3h0M183.0 711.1h0M150.0 686.3h0M156.9 725.7h0M141.8 716.6h0M168.0 739.7h0M134.3 710.4h0M191.1 727.8h0M130.5 706.9h0M164.5 717.3h0M169.1 698.2h0M147.0 705.8h0M157.4 724.6h0M172.3 717.9h0M147.6 723.2h0M138.7 703.4h0M146.7 705.8h0M177.2 734.0h0M157.5 702.5h0M141.8 698.5h0M132.0 689.5h0M165.8 706.5h0M140.8 714.4h0M158.9 741.3h0M169.5 726.4h0M147.3 720.3h0M165.0 720.7h0M180.4 729.1h0M152.8 723.2h0M163.4 718.0h0M151.6 745.3h0M149.6 714.9h0M162.1 718.2h0M178.5 728.5h0M184.9 721.5h0M165.2 707.3h0M157.8 721.8h0M163.2 719.9h0M163.4 700.1h0M168.0 721.2h0M183.2 710.4h0M166.8 696.3h0M176.1 717.5h0M139.9 709.4h0M155.4 713.7h0M149.3 720.6h0M159.7 717.4h0M151.4 720.2h0M173.8 720.9h0M178.5 708.9h0M152.4 700.3h0M145.8 709.6h0M152.4 686.2h0M166.3 707.3h0M158.2 713.7h0M153.0 702.5h0M168.2 721.0h0M154.4 718.6h0M157.7 695.4h0M142.8 722.1h0M150.1 736.6h0M163.6 729.8h0M163.5 694.2h0M132.1 692.6h0M152.9 691.8h0M162.8 720.4h0M141.1 701.6h0M168.1 733.8h0M143.5 713.2h0M136.7 690.3h0M144.4 718.0h0M150.2 692.6h0M148.9 715.1h0M139.9 700.4h0M157.0 705.0h0M140.2 703.2h0M156.8 717.3h0M160.9 713.2h0M147.7 703.5h0M166.4 721.3h0M158.5 724.7h0M163.8 713.7h0M138.0 713.0h0M157.2 709.3h0M153.6 719.9h0M173.1 715.2h0M149.3 721.1h0M150.7 706.6h0M158.0 692.1h0M141.7 700.8h0M179.5 694.4h0M156.6 708.0h0" stroke="#c22cf2" stroke-width="2" stroke-linecap="round" stroke-opacity="0.85" fill="none"/>
<path d="M131.2 688.7h0M129.9 719.9h0M129.6 712.5h0M149.0 681.7h0M196.1 727.6h0M169.6 686.6h0M147.5 735.7h0M157.7 706.3h0M168.7 704.4h0M135.1 694.5h0M173.5 685.9h0M108.3 681.7h0M130.6 700.0h0M178.1 728.1h0M177.0 671.0h0M179.6 751.1h0M157.4 687.9h0M192.0 695.7h0M163.3 738.4h0M148.8 680.5h0M200.1 736.7h0M167.2 712.4h0M109.2 694.5h0M198.0 732.8h0M125.7 720.1h0M134.4 685.6h0M151.7 671.3h0M178.1 668.4h0M136.2 695.2h0M158.4 687.4h0M199.1 764.9h0M137.8 720.5h0M170.5 726.8h0M178.5 721.3h0M128.9 728.9h0M144.5 735.8h0M131.7 669.4h0M140.9 701.0h0M147.9 726.2h0M170.0 722.4h0M162.2 732.3h0M192.9 685.9h0M143.8 714.6h0M136.8 726.4h0M149.4 706.6h0M145.8 699.3h0M165.6 751.1h0M169.3 737.3h0M176.9 698.9h0M179.4 715.6h0M166.8 717.3h0M184.0 719.0h0M175.3 727.2h0M192.8 738.9h0M178.1 686.5h0M176.6 728.8h0M112.0 684.7h0M173.1 717.7h0M186.4 733.8h0M152.7 717.1h0M132.1 703.3h0M140.7 703.6h0M185.6 726.9h0M129.0 726.1h0M148.6 729.1h0M166.5 730.0h0M188.1 736.9h0M133.1 686.2h0M161.0 689.7h0M147.6 713.5h0M168.9 723.6h0M156.7 713.1h0M161.1 696.0h0M151.8 727.4h0M146.0 703.0h0M184.4 712.8h0M165.6 722.8h0M189.9 719.4h0M134.2 728.3h0M193.1 755.8h0M193.8 728.8h0M176.1 735.3h0M187.1 709.8h0M155.5 726.9h0M176.8 739.2h0M157.6 735.2h0M209.1 724.4h0M124.1 686.0h0M171.2 766.0h0M185.1 714.9h0M179.0 717.0h0M178.7 727.2h0M203.8 730.3h0M196.9 729.8h0M170.3 731.1h0M156.7 668.6h0M160.6 708.5h0M140.7 715.5h0M159.5 728.3h0M142.0 696.6h0M146.0 726.3h0M190.5 729.2h0M187.4 682.4h0M195.7 753.3h0M166.6 728.3h0M177.1 689.1h0M151.7 689.4h0M168.4 696.6h0M157.1 727.1h0M162.1 719.9h0M215.0 743.0h0M138.4 715.6h0M133.9 732.4h0M147.5 704.2h0M211.9 721.6h0M177.5 736.1h0M148.9 737.7h0M141.9 714.1h0M136.2 724.5h0M137.2 694.4h0M162.3 691.9h0M184.3 726.1h0M197.7 693.2h0M151.5 685.2h0M185.4 699.4h0M155.9 733.5h0M160.3 718.3h0M162.7 696.9h0M157.2 717.1h0M187.0 741.6h0M137.0 714.3h0M163.0 670.7h0M163.5 701.2h0M173.2 724.0h0M143.1 683.4h0M126.7 734.0h0M147.5 679.9h0M167.5 754.3h0M138.0 727.2h0M168.7 700.7h0M148.0 724.9h0M191.2 735.5h0M132.2 696.1h0M158.8 697.8h0M166.0 724.2h0M144.3 685.2h0M189.7 734.4h0M222.5 711.3h0M138.9 696.8h0M139.1 700.5h0M176.8 697.4h0M175.6 767.9h0M130.5 682.8h0M139.2 687.3h0M153.9 703.5h0M168.2 748.8h0M149.0 714.7h0M190.8 704.1h0M173.1 701.8h0M168.4 750.2h0M149.6 739.3h0M163.5 699.2h0M186.4 736.6h0M181.6 701.8h0M175.1 725.0h0M169.8 697.2h0M150.0 695.9h0M148.6 733.8h0M141.8 666.5h0M149.7 688.5h0M156.9 684.5h0M141.9 708.9h0M162.3 694.8h0M170.2 725.9h0M127.2 714.2h0M158.3 689.9h0M176.6 708.8h0M124.8 716.0h0M162.0 693.3h0M165.2 714.9h0M126.8 675.6h0M174.7 715.7h0M182.0 705.3h0M180.4 722.8h0M159.6 684.8h0M178.7 728.4h0M148.3 711.9h0M161.0 706.6h0M171.8 713.2h0M151.4 760.3h0M126.4 686.2h0M144.5 715.4h0M97.3 710.6h0M152.0 754.9h0M194.0 718.7h0M138.2 733.5h0M190.8 722.1h0M149.5 736.9h0M189.8 730.5h0M161.6 728.1h0" stroke="#c22cf2" stroke-width="2" stroke-linecap="round" stroke-opacity="0.85" fill="none"/>
<path d="M214.3 756.3h0M229.5 759.0h0M215.7 762.9h0M231.6 761.8h0M212.3 753.5h0M203.5 753.4h0M221.7 752.2h0M206.7 752.0h0M219.8 756.0h0M235.9 765.7h0M217.9 757.2h0M231.3 755.2h0M230.0 753.3h0M212.3 758.7h0M219.6 750.6h0M206.8 757.2h0M196.2 763.6h0M208.3 757.4h0M252.8 760.3h0M220.5 760.7h0M215.8 752.9h0M197.5 756.7h0M213.8 763.4h0M219.3 761.0h0M204.0 754.9h0M222.8 756.6h0M225.9 756.7h0M213.4 759.1h0M201.1 767.8h0M200.4 762.6h0M236.8 758.6h0M222.0 762.6h0M221.6 761.1h0M212.8 759.6h0M210.8 751.9h0M214.1 760.7h0M220.8 759.8h0M212.2 757.8h0M207.2 756.1h0M218.8 754.2h0M237.2 751.0h0M225.5 757.1h0M230.4 756.8h0M228.2 755.3h0M207.4 755.7h0M218.0 753.3h0M232.6 754.4h0M214.0 757.8h0M214.9 762.2h0M204.8 760.8h0M231.5 759.3h0M242.7 753.1h0M210.3 750.4h0M178.9 743.0h0M221.1 753.1h0M186.4 754.7h0M200.7 753.9h0M209.6 763.2h0M186.0 755.1h0M260.0 762.1h0M220.7 757.6h0M227.4 760.5h0M225.2 753.2h0M216.5 759.7h0M216.7 760.0h0M229.6 764.9h0M219.5 760.5h0M212.2 755.4h0M227.0 752.8h0M232.5 754.1h0M216.1 753.9h0M205.6 758.5h0M194.1 761.6h0M195.3 758.6h0M213.5 755.8h0M220.6 763.9h0M219.6 754.6h0M216.6 762.1h0M203.8 757.4h0M233.1 756.4h0M214.5 761.5h0M209.4 756.7h0M213.2 758.3h0M203.4 748.4h0M231.4 755.4h0M204.2 760.2h0M209.5 755.8h0M202.5 754.7h0M221.1 762.8h0M227.1 753.0h0M212.1 760.1h0M206.2 752.2h0M212.2 762.1h0M201.5 759.6h0M226.3 755.5h0M201.0 754.5h0M212.5 754.1h0M216.5 768.0h0M228.4 764.3h0M215.5 762.8h0M207.8 757.7h0M230.5 769.4h0M223.9 758.9h0M216.6 753.1h0M223.8 765.8h0M225.8 758.2h0M214.0 752.8h0M234.4 759.3h0M232.5 755.0h0M226.1 762.2h0M215.2 754.9h0M249.9 768.5h0M234.0 756.3h0M235.2 762.3h0M239.6 759.4h0M214.5 752.5h0M197.9 747.8h0M211.9 757.1h0M235.6 768.6h0M210.5 746.4h0M220.5 759.7h0M211.9 752.6h0M207.8 757.4h0M219.7 749.8h0M215.4 752.6h0M204.0 756.5h0M205.7 757.3h0M184.3 756.5h0M219.5 755.5h0M206.3 749.0h0M201.0 763.9h0M221.7 757.4h0M208.4 753.5h0M200.9 757.1h0M229.1 753.8h0M224.7 756.2h0M221.2 753.6h0M225.8 766.1h0M209.0 755.2h0M229.1 755.5h0M201.0 744.0h0M208.9 761.9h0M207.0 755.5h0M184.4 751.6h0M214.1 753.9h0M210.4 751.1h0M203.4 761.2h0M200.4 761.5h0M198.1 761.2h0M214.4 760.0h0M213.6 759.3h0M248.3 750.1h0M208.5 758.4h0M236.2 753.5h0M217.0 761.5h0M210.1 756.9h0M219.7 762.4h0M222.1 759.9h0M208.6 754.3h0M246.1 754.7h0M212.3 753.9h0M218.2 753.5h0M226.7 755.1h0M210.0 749.7h0M211.4 749.6h0M212.7 759.4h0M194.0 763.8h0M227.2 759.5h0M211.4 761.7h0M222.7 756.1h0M218.9 758.3h0M205.2 762.7h0M199.0 757.7h0M204.9 756.0h0M213.8 758.0h0M237.3 757.5h0M223.9 760.1h0M220.7 752.6h0M217.6 749.9h0M231.0 765.9h0M218.9 760.2h0M217.5 749.2h0M212.4 761.4h0M216.3 753.7h0M178.6 758.5h0M237.4 767.8h0M251.3 751.0h0M216.9 760.7h0M209.6 757.9h0M232.3 756.5h0M225.7 754.0h0M184.7 754.3h0M223.3 760.6h0M228.2 753.9h0M227.0 743.9h0M220.1 751.6h0M217.7 752.0h0M218.8 761.8h0M231.3 756.5h0M235.0 760.8h0M235.1 759.2h0M202.7 756.4h0M205.3 751.7h0M189.0 755.4h0M234.6 754.2h0M214.6 750.1h0M221.3 763.1h0M215.8 760.6h0M226.0 757.5h0M227.6 750.7h0M214.6 757.9h0M224.6 764.4h0M214.4 753.1h0M210.9 755.3h0M205.4 749.6h0M221.0 752.2h0M216.3 757.4h0M215.2 762.1h0M221.5 758.9h0M236.1 757.8h0M199.0 753.0h0M230.0 754.1h0M205.2 758.4h0M248.8 758.8h0M230.1 765.9h0M209.9 753.5h0M213.8 753.8h0M217.2 751.7h0M213.3 756.4h0M244.2 753.9h0M218.1 753.9h0M216.1 755.2h0M205.7 755.2h0M206.4 757.2h0M229.3 761.0h0M217.3 760.5h0M213.5 759.3h0M251.4 762.9h0M242.4 763.6h0M211.1 758.1h0M202.9 758.5h0M232.0 761.2h0M227.9 758.9h0M211.8 748.4h0M222.3 762.4h0M227.8 757.4h0M223.9 760.7h0M225.2 755.3h0M202.5 746.7h0M211.0 754.8h0M205.6 756.9h0M199.2 756.6h0M236.6 758.6h0M193.5 754.7h0M208.6 756.6h0M212.4 753.9h0M219.6 762.3h0M213.7 757.4h0M194.9 764.3h0M204.7 756.0h0M197.5 757.5h0M203.8 756.1h0M208.1 754.9h0M211.9 752.6h0M214.1 753.2h0M211.7 754.7h0M202.0 756.5h0M223.7 758.5h0M195.5 757.3h0M227.2 750.4h0M229.8 747.6h0M219.2 760.3h0M231.1 765.4h0M220.8 761.7h0M234.4 767.2h0M219.0 761.1h0M200.7 751.9h0M233.4 760.8h0M201.0 754.8h0M194.1 754.4h0M229.2 750.6h0M215.0 758.6h0M214.0 757.5h0M207.7 752.6h0M217.4 748.9h0M215.6 750.4h0M206.0 762.9h0M211.4 754.5h0M227.3 754.9h0M208.6 756.1h0M224.6 753.8h0M216.7 748.7h0M200.0 755.1h0M207.6 757.4h0M226.9 748.7h0M220.2 758.2h0M211.8 757.4h0M205.9 758.0h0M217.4 765.6h0M192.1 749.9h0M220.9 762.3h0M201.0 750.6h0M209.4 758.1h0M204.0 760.2h0M235.5 758.2h0M231.5 751.9h0M202.9 758.5h0M228.1 752.3h0M210.1 758.6h0M216.2 753.7h0M215.7 761.0h0M210.4 750.8h0M233.2 756.9h0M190.2 755.8h0M227.6 763.4h0M228.6 758.5h0M220.5 759.8h0M237.5 761.0h0M196.1 759.9h0M218.6 756.9h0M213.1 760.6h0M216.6 758.7h0M216.2 761.7h0M201.6 757.7h0M223.2 758.0h0M234.8 766.9h0M212.6 762.7h0M206.7 765.8h0M232.6 756.8h0M227.1 761.1h0" stroke="#c22cf2" stroke-width="2" stroke-linecap="round" stroke-opacity="0.85" fill="none"/>
<path d="M202.5 716.6h0M184.5 752.9h0M222.3 766.0h0M221.6 737.7h0M182.2 732.3h0M203.7 722.4h0M152.2 733.5h0M192.8 745.4h0M184.6 703.2h0M221.1 763.4h0M233.1 748.0h0M184.7 737.7h0M177.8 754.9h0M243.1 755.7h0M230.0 758.6h0M219.1 763.8h0M191.0 741.3h0M242.3 795.3h0M215.1 745.4h0M253.7 810.0h0M204.2 761.1h0M195.9 754.0h0M228.2 766.5h0M205.6 737.6h0M184.9 732.0h0M235.9 720.9h0M233.3 746.1h0M215.1 779.7h0M236.0 783.3h0M161.2 759.0h0M173.5 758.7h0M179.2 727.9h0M169.9 722.2h0M208.8 771.1h0M160.9 707.8h0M167.4 744.8h0M198.9 766.6h0M185.0 770.0h0M200.4 759.3h0M217.6 762.2h0M182.5 725.7h0M227.7 793.4h0M186.1 746.5h0M145.2 728.6h0M221.0 709.3h0M178.5 721.3h0M190.4 735.2h0M196.1 701.0h0M255.1 759.6h0M184.6 699.5h0" stroke="#c22cf2" stroke-width="2" stroke-linecap="round" stroke-opacity="0.85" fill="none"/>
<path d="M148.3 715.8h0M159.8 733.5h0M152.1 705.5h0M172.5 721.7h0M152.8 726.3h0M153.4 696.7h0M167.4 712.5h0M149.2 717.0h0M154.8 723.8h0M150.9 706.1h0M160.0 717.1h0M143.6 688.3h0M173.2 704.3h0M145.4 692.8h0M149.1 712.3h0M166.6 713.6h0M153.5 697.7h0M168.0 723.8h0M174.4 703.8h0M134.0 701.8h0M176.4 731.8h0M158.9 694.4h0M143.3 703.1h0M164.5 709.8h0M156.9 726.0h0M165.7 712.2h0M148.4 699.4h0M141.7 715.9h0M145.7 718.5h0M151.7 708.8h0M164.2 714.8h0M159.2 713.5h0M155.7 711.0h0M161.2 734.2h0M149.4 720.4h0M157.6 712.3h0M163.0 715.4h0M170.2 717.9h0M156.4 712.9h0M156.0 702.3h0M157.5 720.7h0M160.4 703.7h0M153.3 704.5h0M155.8 708.1h0M183.7 721.4h0M150.6 699.4h0M139.6 706.0h0M148.0 694.9h0M146.8 705.3h0M160.1 706.3h0M150.8 711.4h0M153.6 727.3h0M144.0 715.1h0M176.1 733.3h0M140.2 699.4h0M164.3 725.1h0M165.0 708.9h0M163.4 721.2h0M168.7 702.4h0M164.3 719.9h0M167.2 714.4h0M169.8 731.8h0M167.7 708.8h0M160.7 696.8h0M164.2 710.4h0M166.8 694.8h0M167.0 706.2h0M127.3 703.2h0M176.4 725.6h0M137.4 692.8h0M170.6 712.8h0M162.0 725.0h0M160.5 720.1h0M149.9 699.0h0M154.1 692.5h0M167.5 716.1h0M167.7 716.5h0M141.3 711.2h0M170.6 719.7h0M172.5 704.4h0M146.0 714.2h0M160.3 712.1h0M165.0 731.8h0M150.7 700.4h0M166.3 707.0h0M160.3 720.3h0M166.3 703.0h0M156.5 709.8h0M162.1 714.3h0M146.0 719.1h0M175.0 719.2h0M140.1 707.6h0M157.4 698.6h0M167.2 705.8h0M151.5 703.6h0M161.2 708.8h0M165.5 725.6h0M174.4 730.9h0M156.5 720.7h0M151.4 717.4h0M155.4 704.2h0M136.0 684.9h0M159.2 717.9h0M157.3 715.1h0M182.1 733.2h0M161.1 712.9h0M170.4 709.5h0M153.2 727.8h0M163.7 725.7h0M157.8 696.6h0M155.6 714.9h0M155.5 702.5h0M150.3 694.0h0M172.0 726.2h0M168.7 718.6h0M152.1 701.9h0M165.6 712.3h0M164.0 723.2h0M143.6 703.5h0M153.2 730.0h0M149.4 701.6h0M159.4 709.2h0M179.3 719.4h0M151.9 717.3h0M172.9 728.0h0M172.4 720.7h0M169.9 719.4h0M178.3 713.2h0M170.4 716.2h0M155.4 708.7h0M162.7 713.6h0M149.6 697.0h0M158.0 719.6h0M156.9 711.4h0M147.1 707.9h0M162.8 699.1h0M180.4 723.0h0M150.4 719.0h0M160.3 695.7h0M160.1 720.0h0M154.4 702.0h0M169.6 715.3h0M158.9 707.9h0M187.7 719.1h0M167.9 717.2h0M185.0 707.8h0M159.8 715.1h0M155.9 682.5h0M174.8 728.9h0M156.9 700.0h0M160.6 722.9h0M151.3 705.4h0M176.2 716.2h0M158.8 724.3h0M145.8 686.5h0M180.0 726.9h0M166.0 721.4h0M160.4 727.3h0M169.5 730.3h0M152.2 696.2h0M180.4 722.7h0M163.6 701.1h0M148.3 699.2h0M163.9 717.2h0M159.1 701.9h0M136.6 699.2h0M140.4 707.3h0M173.4 705.3h0M152.3 720.4h0M143.6 701.8h0M161.8 717.7h0M149.5 722.1h0M165.0 706.8h0M153.0 699.8h0M151.3 703.5h0M133.3 712.1h0M163.5 712.1h0M165.6 731.6h0M142.1 702.8h0M151.4 696.9h0M164.4 713.0h0M166.0 711.5h0M163.4 719.6h0M141.0 695.0h0M141.5 683.8h0M157.0 719.6h0M149.2 697.3h0M159.8 700.8h0M166.7 729.1h0M161.0 709.6h0M158.9 710.7h0M159.0 698.5h0M154.6 712.5h0M150.1 719.0h0M142.1 693.7h0M158.2 724.0h0M155.6 711.9h0M157.6 715.3h0M158.3 713.7h0M168.0 717.9h0M163.9 705.0h0M150.7 704.3h0M165.7 715.0h0M177.0 722.4h0M162.7 711.4h0M173.1 722.4h0M149.9 697.7h0M130.5 696.6h0M183.9 729.7h0M160.8 723.3h0M159.2 705.7h0M176.3 715.3h0M161.1 719.6h0M159.0 692.2h0M166.1 717.7h0M170.7 709.7h0M150.3 710.4h0M159.2 713.8h0M152.3 708.5h0M156.2 718.3h0M159.8 717.8h0M142.9 726.8h0M142.5 704.6h0M136.9 686.6h0M178.9 707.3h0M175.4 713.2h0M167.6 712.5h0M153.9 701.7h0M166.8 714.7h0M165.3 717.1h0M142.1 712.2h0M153.3 703.9h0M164.7 731.9h0M155.2 720.7h0M169.1 710.0h0M151.7 706.6h0M173.2 718.2h0M157.6 701.5h0M160.6 703.2h0M157.7 719.6h0M169.7 700.0h0M144.1 698.0h0M174.2 718.5h0M166.1 716.6h0M175.7 713.3h0M148.9 697.4h0M158.1 712.7h0M176.5 730.8h0M143.0 706.9h0M135.1 699.4h0M162.2 704.4h0M156.3 704.0h0M164.6 714.4h0M171.8 715.8h0M163.4 739.5h0M155.4 723.7h0M154.9 714.0h0M173.8 703.1h0M174.4 715.0h0M156.7 705.1h0M166.9 718.4h0M157.4 708.7h0M147.4 713.7h0M147.0 703.5h0M155.9 710.6h0M156.2 701.7h0M162.0 720.9h0M157.5 695.5h0M152.4 709.0h0M153.5 697.1h0M130.4 690.7h0M145.3 709.8h0M162.7 716.0h0M157.1 716.5h0M158.0 715.4h0M172.9 716.8h0M144.8 700.8h0M143.8 719.6h0M162.5 703.8h0M158.2 711.2h0M171.8 726.3h0M167.6 721.3h0M149.0 702.3h0M139.4 719.1h0M176.5 721.5h0M137.1 687.5h0M159.4 705.0h0M159.3 716.6h0M162.8 721.3h0M154.9 703.9h0M163.6 720.3h0M135.5 697.7h0M178.4 715.8h0M147.3 721.4h0M148.8 716.8h0M151.7 704.1h0M151.5 703.5h0M163.7 708.5h0M162.5 708.2h0M168.4 720.3h0M173.4 713.8h0M151.7 718.1h0M144.2 712.9h0M153.5 713.4h0M160.8 713.3h0M160.3 719.9h0M146.1 712.5h0M152.1 706.3h0M172.6 708.9h0M157.6 716.5h0M163.1 723.4h0M153.8 694.9h0M149.2 724.5h0M170.6 714.7h0M160.3 717.4h0M159.2 708.2h0M152.5 694.7h0M163.2 716.1h0M153.1 718.1h0M176.0 711.0h0M156.3 710.6h0M152.5 704.6h0M140.8 720.1h0M150.6 715.0h0M157.7 689.3h0M167.8 724.4h0M157.6 706.0h0M162.4 720.3h0M143.1 712.2h0M173.9 721.3h0M119.9 694.2h0M170.0 716.6h0M145.0 702.5h0M164.8 725.9h0M161.0 702.0h0M144.9 688.5h0M152.5 695.3h0M175.6 714.4h0M130.5 694.8h0M162.5 713.4h0M164.0 716.0h0M173.4 713.7h0M164.4 706.9h0M153.5 713.5h0M159.8 716.1h0M158.6 728.4h0M141.3 692.1h0M169.2 719.4h0M157.6 730.6h0M163.1 723.4h0M163.1 710.8h0M148.9 718.5h0M168.4 731.7h0M164.3 703.0h0M161.7 708.5h0M170.3 710.7h0M138.1 707.1h0M154.7 709.1h0M158.5 708.7h0M152.9 703.9h0M146.4 707.0h0M160.4 698.9h0M150.7 710.9h0M160.5 709.3h0M148.3 694.4h0M157.3 708.6h0M166.8 725.8h0M168.3 705.2h0M174.1 723.0h0M129.9 699.1h0M155.9 714.3h0M155.4 710.4h0M149.4 698.5h0M156.6 723.1h0M141.3 700.1h0M171.4 704.1h0M158.3 706.9h0M148.2 695.8h0M156.6 719.3h0M150.7 703.8h0M163.0 719.4h0M138.7 704.1h0M178.1 726.0h0M189.4 718.7h0M144.7 698.8h0M172.2 725.9h0M166.8 710.1h0M156.0 706.3h0M169.8 716.7h0M150.2 706.4h0M184.2 714.2h0M144.4 706.2h0M146.6 717.3h0M150.7 691.1h0M169.0 721.6h0M160.4 712.6h0M154.7 701.1h0M161.4 719.7h0M165.6 715.7h0M136.6 696.4h0M158.9 713.2h0M151.2 696.5h0M174.2 729.2h0M166.4 704.0h0M147.4 725.7h0M145.8 739.8h0M140.9 689.4h0M146.9 697.7h0M170.0 717.0h0M135.5 717.3h0M163.3 715.3h0M175.4 711.9h0M156.2 716.8h0M172.2 730.0h0M169.8 730.6h0M180.8 700.6h0M165.7 729.8h0M160.9 716.0h0M163.4 710.8h0M170.6 691.0h0M147.0 703.0h0M173.7 715.1h0M174.0 722.8h0M154.6 709.2h0M176.4 715.5h0M161.8 726.4h0M151.2 716.4h0M158.5 715.0h0M140.9 700.0h0M163.0 695.4h0M176.5 717.5h0M149.2 721.6h0M160.0 707.6h0M178.8 730.6h0M158.3 729.9h0M169.6 717.1h0M154.5 707.4h0M170.5 731.0h0M155.3 703.1h0M157.5 714.5h0M162.9 706.8h0M172.3 729.5h0M152.7 712.4h0M151.2 701.3h0M148.0 700.8h0M151.4 703.4h0M133.2 690.0h0M155.3 719.3h0M146.1 703.7h0M144.3 711.8h0M164.4 713.9h0M127.0 694.5h0M173.3 723.9h0M145.5 709.7h0M160.8 705.4h0M168.0 725.5h0M169.4 719.6h0M171.4 717.3h0M158.5 697.6h0M167.0 703.5h0M159.3 696.9h0M147.1 723.5h0M152.8 698.8h0M155.3 701.7h0M148.0 725.7h0M155.5 718.5h0M151.5 698.9h0M162.4 719.2h0M161.3 708.1h0M152.9 707.3h0M175.9 739.4h0M145.5 704.8h0M161.9 717.0h0M136.3 690.4h0M169.3 716.5h0M151.3 704.8h0M163.2 710.4h0M152.6 712.9h0M167.0 697.6h0M148.0 706.0h0M163.1 712.9h0M163.3 706.3h0M166.6 713.8h0M178.7 713.6h0M152.2 712.6h0M156.9 707.0h0M152.5 702.2h0M157.8 706.5h0M158.8 704.1h0M147.6 694.6h0M158.4 719.4h0M162.3 699.0h0M160.7 711.6h0M147.9 708.7h0M170.8 713.6h0M152.6 711.9h0M147.9 705.8h0M171.0 723.8h0M169.2 713.5h0M135.3 698.5h0M186.0 727.0h0M161.1 707.0h0M148.6 710.3h0M172.1 705.5h0M163.1 709.8h0M146.5 734.0h0M145.0 711.9h0M140.2 703.4h0M175.8 726.5h0M175.2 716.7h0M142.5 710.9h0M153.6 724.7h0M168.6 706.6h0M166.1 701.7h0M171.6 700.0h0M170.6 698.7h0M159.1 707.7h0M154.0 729.5h0M169.6 731.8h0M159.7 706.8h0" stroke="#5a34ff" stroke-width="2" stroke-linecap="round" stroke-opacity="0.85" fill="none"/>
<path d="M228.1 755.6h0M218.4 760.5h0M212.1 753.3h0M202.1 753.1h0M209.1 762.2h0M234.2 758.1h0M210.7 757.8h0M208.0 756.6h0M215.2 756.3h0M215.8 758.7h0M222.3 760.0h0M201.8 754.6h0M203.4 760.6h0M194.5 755.4h0M212.8 759.5h0M224.9 763.0h0M199.1 751.7h0M201.8 756.1h0M227.0 764.6h0M222.1 759.0h0M220.4 757.9h0M244.8 758.0h0M225.5 759.7h0M224.1 750.6h0M198.3 754.0h0M203.6 758.5h0M228.7 760.7h0M220.0 762.6h0M216.5 758.2h0M210.8 757.6h0M216.0 757.5h0M211.2 757.9h0M208.8 759.9h0M216.7 754.1h0M210.3 758.0h0M205.9 753.3h0M217.2 759.2h0M215.2 755.1h0M217.9 753.9h0M223.7 759.8h0M232.7 756.9h0M200.6 747.6h0M232.7 759.0h0M224.6 755.9h0M222.9 756.7h0M241.0 757.1h0M227.3 751.7h0M211.8 752.9h0M227.7 761.9h0M233.1 762.7h0M223.9 752.5h0M216.8 755.1h0M208.9 754.7h0M225.9 755.7h0M204.7 758.9h0M219.8 753.7h0M207.6 759.9h0M213.2 756.6h0M216.2 759.2h0M212.7 757.0h0M218.5 753.7h0M225.7 762.1h0M217.6 756.9h0M216.3 754.1h0M233.5 755.3h0M205.6 752.8h0M222.2 762.7h0M212.9 752.4h0M210.7 757.6h0M212.9 758.4h0M210.3 753.0h0M206.0 752.8h0M213.8 761.3h0M221.1 754.0h0M220.1 760.1h0M213.9 759.7h0M213.8 754.6h0M222.0 765.2h0M200.1 752.6h0M212.9 757.8h0M234.5 762.3h0M220.5 758.2h0M209.7 755.0h0M224.9 759.1h0M212.5 756.2h0M212.1 758.7h0M198.3 755.4h0M204.6 753.6h0M217.6 757.2h0M230.1 762.2h0M207.7 756.8h0M221.6 756.3h0M201.0 756.6h0M216.3 756.4h0M215.2 763.4h0M210.4 754.9h0M226.0 756.3h0M222.4 756.5h0M210.6 755.0h0M230.1 759.1h0M209.1 756.5h0M212.9 760.0h0M201.9 750.2h0M214.7 750.2h0M216.2 758.2h0M226.1 763.3h0M228.9 761.9h0M232.7 758.9h0M211.0 757.1h0M220.3 756.3h0M227.2 758.8h0M243.9 755.7h0M214.4 757.3h0M207.5 757.3h0M212.3 754.7h0M202.0 759.3h0M219.2 755.6h0M214.4 757.1h0M215.6 757.4h0M211.2 754.8h0M226.8 757.1h0M224.1 762.7h0M207.9 759.1h0M216.0 754.5h0M214.2 757.1h0M215.6 758.5h0M206.7 756.6h0M218.7 760.6h0M238.7 760.4h0M222.4 756.2h0M231.5 758.8h0M209.4 756.6h0M212.5 751.7h0M219.7 754.7h0M221.5 756.6h0M224.4 750.2h0M222.2 758.6h0M211.5 753.0h0M218.1 758.2h0M241.7 756.2h0M219.8 757.3h0M217.1 754.3h0M211.7 758.9h0M215.1 754.5h0M218.1 758.4h0M225.8 759.5h0M215.6 753.6h0M235.3 758.1h0M226.0 756.2h0M203.3 755.7h0M213.5 755.8h0M207.7 755.6h0M206.6 756.6h0M204.8 756.1h0M214.8 759.0h0M232.0 759.1h0M213.2 762.8h0M219.0 755.2h0M215.5 759.4h0M223.7 758.5h0M237.6 755.5h0M201.2 749.9h0M227.5 759.9h0M223.9 757.9h0M237.4 760.8h0M201.2 751.5h0M231.4 761.9h0M201.9 752.9h0M216.1 758.2h0M211.7 755.0h0M219.7 759.3h0M227.0 760.9h0M217.8 756.4h0M222.5 763.4h0M217.0 761.6h0M222.8 763.3h0M213.7 756.6h0M209.6 760.7h0M217.2 759.2h0M215.5 757.8h0M221.1 758.6h0M211.4 762.3h0M224.3 756.5h0M216.5 751.9h0M223.3 757.9h0M211.8 750.9h0M217.0 756.7h0M225.2 754.0h0M214.9 756.9h0M217.9 757.9h0M205.7 755.1h0M230.3 762.4h0M212.8 758.1h0M211.1 755.8h0M218.1 759.7h0M218.1 756.4h0M217.2 759.3h0M210.6 753.0h0M212.3 757.9h0M237.3 760.6h0" stroke="#5a34ff" stroke-width="2" stroke-linecap="round" stroke-opacity="0.85" fill="none"/>
<g transform="translate(154 707.4) rotate(40)" filter="url(#bl2)">
<ellipse rx="17" ry="12.5" fill="#3a3cff"/>
<ellipse rx="11.9" ry="8.75" fill="#1c9cff"/>
<ellipse rx="7.14" ry="5.25" fill="#20e8d8"/>
</g>
<g transform="translate(160.6 711.6) rotate(38)" filter="url(#bl2)">
<ellipse rx="25" ry="10.6" fill="#2c40ff"/>
<ellipse rx="21" ry="8.9" fill="#18a8ff"/>
<ellipse rx="17.5" ry="7.42" fill="#18f0d0"/>
<ellipse rx="14.5" ry="6.15" fill="#40f040"/>
<ellipse rx="11.25" ry="4.77" fill="#f0f020"/>
<ellipse rx="8" ry="3.39" fill="#ff5a10"/>
<ellipse rx="4" ry="1.7" fill="#e01008"/>
</g>
<g transform="translate(216.4 757.8) rotate(5)" filter="url(#bl2)">
<ellipse rx="15" ry="4.8" fill="#2c40ff"/>
<ellipse rx="12" ry="3.84" fill="#18b8ff"/>
<ellipse rx="9" ry="2.88" fill="#20f0b0"/>
<ellipse rx="6" ry="1.92" fill="#70f040"/>
<ellipse rx="3" ry="0.96" fill="#e8f020"/>
</g>
</g>
<circle cx="144.8" cy="697.6" r="7" fill="none" stroke="#000058" stroke-width="1.5"/>
<circle cx="152.4" cy="704.2" r="5.6" fill="none" stroke="#2c5cf0" stroke-width="1.5"/>
<circle cx="160" cy="709" r="5.6" fill="none" stroke="#40e6ff" stroke-width="1.5"/>
<circle cx="167.8" cy="715.2" r="5.6" fill="none" stroke="#a8ffff" stroke-width="1.5"/>
<circle cx="175.6" cy="722.2" r="5.6" fill="none" stroke="#d0ffff" stroke-width="1.5"/>
<circle cx="216.4" cy="756.2" r="6.6" fill="none" stroke="#858585" stroke-width="2.2"/>
<line x1="79.4" y1="726.2" x2="216.4" y2="756.2" stroke="#000" stroke-width="2.1" stroke-linecap="round"/>
<line x1="157.2" y1="692.4" x2="216.4" y2="756.2" stroke="#000" stroke-width="2.1" stroke-linecap="round"/>
<circle cx="79.4" cy="726.2" r="4.1" fill="#c00000"/>
<circle cx="157.2" cy="692.4" r="4.1" fill="#0000ff"/>
<text x="79.8" y="744.2" font-size="13.5" font-weight="bold" fill="#ff2a0a" text-anchor="middle">A</text>
<text x="159.4" y="686.2" font-size="14" font-weight="bold" fill="#0000ff" text-anchor="start">B</text>
<text x="212.6" y="743.6" font-size="13.5" font-weight="bold" fill="#4a4a4a" text-anchor="start">AF<tspan font-size="8.5" dy="3.4">1</tspan></text>
<line x1="63.8" y1="675.6" x2="63.8" y2="783.3" stroke="#000" stroke-width="1.4"/>
<line x1="63.1" y1="782.6" x2="251.2" y2="782.6" stroke="#000" stroke-width="1.4"/>
<line x1="76.4" y1="782.6" x2="76.4" y2="786.4" stroke="#000" stroke-width="1.1"/>
<text x="76.4" y="801.2" font-size="14" font-weight="normal" fill="#1a1a1a" text-anchor="middle">0.2</text>
<line x1="157.2" y1="782.6" x2="157.2" y2="786.4" stroke="#000" stroke-width="1.1"/>
<text x="157.2" y="801.2" font-size="14" font-weight="normal" fill="#1a1a1a" text-anchor="middle">0.4</text>
<line x1="238.4" y1="782.6" x2="238.4" y2="786.4" stroke="#000" stroke-width="1.1"/>
<text x="238.4" y="801.2" font-size="14" font-weight="normal" fill="#1a1a1a" text-anchor="middle">0.6</text>
<line x1="117" y1="782.6" x2="117" y2="785.2" stroke="#000" stroke-width="0.9"/>
<line x1="197.8" y1="782.6" x2="197.8" y2="785.2" stroke="#000" stroke-width="0.9"/>
<line x1="247" y1="782.6" x2="247" y2="785.2" stroke="#000" stroke-width="0.9"/>
<line x1="59.8" y1="708.2" x2="63.8" y2="708.2" stroke="#000" stroke-width="1.1"/>
<text x="54.2" y="713.1" font-size="14" font-weight="normal" fill="#1a1a1a" text-anchor="end">0.45</text>
<line x1="59.8" y1="769.6" x2="63.8" y2="769.6" stroke="#000" stroke-width="1.1"/>
<text x="54.2" y="774.5" font-size="14" font-weight="normal" fill="#1a1a1a" text-anchor="end">0.3</text>
<line x1="59.8" y1="677.4" x2="63.8" y2="677.4" stroke="#000" stroke-width="1.1"/>
<text x="54" y="688" font-size="14" font-weight="normal" fill="#1a1a1a" text-anchor="end">S</text>
<text x="213.6" y="801.2" font-size="14" font-weight="normal" fill="#1a1a1a" text-anchor="middle">G</text>
<text x="160.4" y="821" font-size="16" font-weight="bold" fill="#111" text-anchor="middle">PhP<tspan font-size="10.5" dy="4">1</tspan></text>
<rect x="491.6" y="676.4" width="188.4" height="106.4" fill="#fff"/>
<line x1="491.6" y1="676.4" x2="680" y2="676.4" stroke="#c8c8c8" stroke-width="0.8"/>
<line x1="680" y1="676.4" x2="680" y2="782.8" stroke="#c8c8c8" stroke-width="0.8"/>
<g clip-path="url(#pc2)">
<path d="M491.6 738.6C520 714 560 694 600 689.6C630 686.6 656 690 680 696.4" fill="none" stroke="#8c8cf2" stroke-width="1.3"/>
<g stroke="#ffffcc" stroke-width="1" fill="none"><circle cx="667.4" cy="772.4" r="6.2"/><path d="M648 782.6L680 766"/></g>
<path d="M556.5 717.2h0M539.1 698.5h0M571.1 751.2h0M571.0 734.4h0M508.5 721.7h0M526.6 716.0h0M560.9 710.9h0M538.1 719.3h0M553.6 726.3h0M588.7 758.2h0M574.1 720.3h0M581.7 724.7h0M566.3 708.2h0M539.2 718.4h0M586.9 729.4h0M555.3 747.1h0M551.6 711.5h0M579.6 710.9h0M541.8 701.7h0M561.8 712.5h0M589.0 711.8h0M568.1 702.1h0M561.0 755.2h0M560.6 693.7h0M556.0 730.0h0M623.4 704.7h0M559.5 713.9h0M552.6 733.9h0M581.4 725.7h0M519.4 700.6h0M550.1 694.4h0M569.0 746.4h0M563.3 730.5h0M554.7 711.8h0M595.1 729.5h0M588.8 733.6h0M580.6 733.8h0M581.6 717.6h0M569.8 747.5h0M584.6 718.9h0M562.7 712.0h0M577.0 725.3h0M533.5 702.7h0M568.2 727.7h0M555.2 728.7h0M537.4 732.2h0M535.5 730.6h0M539.3 693.8h0M516.7 693.9h0M540.8 727.5h0M564.9 729.5h0M533.0 734.2h0M583.1 717.7h0M548.7 726.9h0M541.3 711.1h0M595.0 727.2h0M541.8 728.9h0M507.5 716.2h0M573.5 743.7h0M555.1 731.5h0M577.3 726.6h0M553.1 727.8h0M555.6 715.0h0M549.8 732.8h0M534.7 711.9h0M568.0 730.7h0M577.7 687.2h0M565.5 726.3h0M622.9 704.6h0M513.1 728.7h0M526.6 698.7h0M566.2 722.6h0M577.2 712.6h0M588.2 739.8h0M576.1 724.1h0M564.4 701.3h0M532.9 713.4h0M549.3 712.9h0M541.4 730.4h0M561.4 742.4h0M590.0 718.3h0M569.2 731.2h0M543.6 710.0h0M558.4 721.7h0M544.4 724.9h0M605.0 753.8h0M576.8 692.7h0M558.8 738.9h0M560.7 711.6h0M535.7 704.4h0M541.2 708.1h0M559.7 730.1h0M548.4 731.1h0M548.5 722.3h0M621.6 747.0h0M530.0 734.2h0M573.0 718.9h0M566.3 730.1h0M577.2 724.4h0M539.5 703.6h0M571.5 736.3h0M543.7 701.7h0M551.3 699.8h0M571.0 726.3h0M561.0 707.6h0M556.9 700.8h0M570.6 703.7h0M518.3 723.7h0M552.6 706.7h0M572.9 713.3h0M543.0 730.6h0M576.1 723.0h0M558.4 725.8h0M549.9 707.1h0M541.6 718.3h0M540.6 728.5h0M572.9 735.1h0M575.1 735.5h0M539.8 716.6h0M542.5 737.0h0M561.4 735.8h0M582.6 722.8h0M531.6 723.4h0M524.4 713.4h0M575.1 718.0h0M537.7 715.6h0M531.5 719.1h0M566.4 731.2h0M560.0 733.7h0M552.9 728.6h0M591.3 721.6h0M557.1 725.0h0M545.1 705.0h0M556.4 718.2h0M534.4 701.7h0M534.1 707.8h0M547.3 727.4h0M555.4 740.4h0M564.1 706.2h0M544.2 716.6h0M568.1 721.7h0M545.9 713.4h0M586.3 695.8h0M534.4 705.2h0M572.6 758.9h0M518.9 719.3h0M580.6 726.8h0M559.2 713.3h0M581.0 725.7h0M552.6 695.9h0M569.9 737.9h0M590.0 711.7h0M547.9 707.2h0M562.4 730.8h0M546.0 713.5h0M559.0 711.5h0M552.6 713.1h0M549.3 694.8h0M581.0 717.0h0M573.2 720.4h0M546.9 724.1h0M555.9 722.3h0M540.9 729.2h0M564.7 708.3h0M592.3 718.9h0M564.4 698.1h0M536.1 731.9h0M544.2 718.3h0M549.1 701.5h0M593.3 733.5h0M567.6 721.3h0M584.2 721.4h0M582.6 720.2h0M530.8 719.4h0M555.3 728.1h0M553.1 709.8h0M579.3 726.3h0M592.4 715.3h0M576.9 735.1h0M552.1 714.4h0M593.5 697.8h0M545.0 699.3h0M547.5 723.1h0M547.0 695.4h0M562.3 714.1h0M608.8 730.6h0M558.1 712.3h0M565.9 727.2h0M570.7 707.7h0M575.4 723.3h0M549.3 725.9h0M587.1 709.5h0M561.5 706.7h0M556.9 732.2h0M585.0 738.6h0M542.7 707.5h0M570.9 718.2h0M555.8 715.4h0M557.4 737.8h0M518.8 709.9h0M562.9 732.6h0M547.6 725.1h0M555.2 709.6h0M528.9 726.6h0M588.1 734.8h0M539.8 716.6h0M549.2 721.0h0M582.7 739.6h0M553.0 727.4h0M567.7 738.7h0M555.9 703.8h0M584.5 727.8h0M549.7 722.3h0M563.8 708.9h0M578.4 712.6h0M559.4 745.1h0M579.8 728.8h0M554.3 723.9h0M551.8 710.9h0M608.2 721.3h0M575.3 725.9h0M548.6 701.5h0M562.2 732.1h0M612.7 729.2h0M537.0 730.1h0M593.6 724.4h0M515.2 725.0h0M535.8 706.3h0M568.3 720.0h0M567.6 725.0h0M545.7 749.8h0M560.0 709.2h0M544.9 709.5h0M542.0 717.7h0M595.7 719.0h0M588.3 732.6h0M582.5 720.7h0M566.2 724.7h0M542.4 714.0h0M532.0 709.0h0M533.6 721.7h0M540.8 707.4h0M547.5 717.0h0M553.9 737.5h0M571.9 720.9h0M583.4 729.9h0M605.2 721.1h0M563.9 738.0h0M595.0 737.8h0M606.4 742.7h0M548.9 726.5h0M555.1 724.6h0M551.4 725.3h0M585.1 728.7h0M583.8 707.8h0M551.8 717.2h0M545.6 720.0h0M517.7 717.7h0M568.1 736.5h0M538.7 718.6h0M602.9 741.3h0M574.9 718.4h0M579.8 714.6h0M575.3 715.6h0M619.2 745.8h0M557.4 722.8h0M563.3 732.1h0M595.4 700.2h0M559.1 726.6h0M603.7 754.0h0M550.5 719.6h0M549.8 732.1h0M545.6 706.7h0M568.2 709.1h0M582.8 709.7h0M555.0 716.1h0M553.0 728.1h0M596.2 710.6h0M555.9 702.0h0M564.2 723.2h0M581.4 731.4h0M538.3 752.7h0M584.7 735.6h0M555.6 726.9h0M581.6 704.1h0M537.1 717.6h0M581.5 736.2h0M566.5 696.4h0M582.8 705.4h0M573.4 749.4h0M574.5 728.4h0M530.5 708.9h0M545.6 704.5h0M559.6 708.4h0M578.4 727.2h0M533.8 705.7h0M537.7 724.6h0M582.6 711.8h0M540.0 718.0h0M577.1 731.4h0M587.8 724.1h0M530.5 718.5h0M562.5 734.3h0M559.9 735.5h0M523.9 711.8h0M565.5 710.1h0M589.9 726.0h0M551.3 723.4h0M581.8 726.4h0M550.3 712.2h0M576.7 734.2h0M571.2 729.2h0M527.5 713.9h0M541.3 732.4h0M555.8 725.8h0M574.1 706.6h0M545.7 700.7h0M554.1 719.0h0M575.3 736.2h0M559.3 717.6h0M562.2 694.0h0M529.4 698.8h0M525.8 714.6h0M587.7 728.9h0M565.9 700.2h0M582.6 719.5h0M594.7 734.0h0M613.7 729.4h0M565.5 719.7h0M547.1 692.6h0M549.3 734.4h0M545.7 710.9h0M570.9 720.3h0M575.2 741.8h0M567.2 708.1h0M572.8 717.4h0M561.3 724.4h0M573.3 714.5h0M544.8 708.3h0M546.0 715.0h0M586.9 741.6h0M542.5 720.7h0M555.7 718.7h0M563.7 710.2h0M552.6 727.6h0M594.4 733.3h0M546.6 698.5h0M519.0 716.1h0M538.2 724.5h0M571.2 713.3h0M541.8 718.8h0M612.4 742.6h0M587.0 708.7h0M608.3 732.9h0M590.6 746.4h0M559.0 722.0h0M562.8 718.4h0M568.4 716.5h0M565.8 718.5h0M582.5 738.6h0M537.9 703.4h0M579.2 735.9h0M589.0 708.7h0M584.7 710.5h0M575.2 710.4h0M532.5 717.5h0M569.3 715.4h0M551.2 741.6h0M561.7 727.1h0M586.6 693.5h0M565.8 724.3h0M534.2 714.2h0M547.6 704.1h0M551.9 719.4h0M544.3 727.9h0M587.3 725.3h0M546.1 703.2h0M541.1 704.1h0M572.7 728.8h0M566.3 734.3h0M542.4 741.4h0M567.8 724.6h0M562.5 716.7h0M577.3 727.2h0M540.5 725.6h0M533.8 704.2h0M577.7 720.0h0M541.0 720.1h0M569.8 737.1h0M572.4 716.2h0M565.9 726.2h0M482.2 734.0h0M556.0 715.1h0M577.0 722.6h0M533.5 720.2h0M605.9 726.0h0M526.0 739.0h0M531.4 701.9h0M547.6 734.0h0M559.1 681.8h0M581.3 711.5h0M590.2 736.5h0M593.4 747.8h0M604.7 722.8h0M583.0 735.7h0M540.4 700.4h0M570.3 717.8h0M562.4 722.2h0M586.9 724.8h0M529.1 699.9h0M567.2 732.2h0M552.4 709.8h0M563.4 708.8h0M540.0 708.6h0M515.3 733.9h0M571.7 714.1h0M535.4 709.9h0M561.9 728.2h0M535.2 723.1h0M578.7 711.3h0M538.0 716.1h0M579.6 727.3h0M569.4 705.1h0M598.3 741.6h0M595.7 711.6h0M564.9 710.7h0M557.9 731.9h0M555.4 721.6h0M569.6 740.2h0M567.3 718.4h0M567.7 730.3h0M575.8 711.6h0M550.8 734.9h0M561.9 705.0h0M532.4 702.6h0M533.9 709.6h0M521.2 723.5h0M588.4 720.0h0M531.7 697.9h0M575.3 731.4h0M544.4 731.2h0M570.2 706.6h0M529.2 705.9h0M538.9 730.2h0M567.5 708.5h0M562.6 718.9h0M538.9 702.9h0M559.7 715.0h0M532.0 712.6h0M555.2 690.5h0M572.3 728.7h0M559.5 717.4h0M555.3 721.0h0M544.1 704.4h0M570.6 727.1h0M550.3 727.4h0M533.2 715.9h0M559.5 722.7h0M599.5 737.9h0M575.3 751.1h0M549.6 721.7h0M554.7 717.4h0M559.4 736.8h0M555.2 723.3h0M554.2 711.7h0M576.1 722.1h0M568.9 731.2h0M581.9 701.7h0M569.1 714.3h0M538.6 725.1h0M513.6 705.9h0M569.0 708.1h0M600.9 761.6h0M602.1 728.4h0M566.5 701.6h0M596.9 720.8h0M540.0 708.8h0M557.1 717.4h0M555.5 715.9h0M569.9 718.4h0M551.4 738.7h0M568.5 729.0h0M511.0 711.8h0M571.2 722.2h0M575.0 724.6h0M574.3 706.6h0M577.9 711.9h0M523.5 723.0h0M531.2 731.0h0M553.6 716.5h0M585.9 728.5h0M524.6 743.4h0M584.6 730.1h0M563.8 710.7h0M555.2 708.6h0M562.6 725.9h0M536.6 706.0h0M544.5 713.5h0M571.9 727.6h0M578.1 715.6h0M552.6 714.4h0M561.5 725.5h0M579.0 724.0h0M549.8 721.5h0M505.9 721.3h0M560.3 721.4h0M535.3 724.4h0M558.1 723.1h0M554.5 707.6h0M612.3 712.0h0M536.7 702.3h0M562.5 716.2h0M534.7 702.8h0M571.4 707.1h0M565.1 699.5h0M570.6 714.9h0M606.7 728.1h0M575.9 729.7h0M582.8 733.3h0M574.0 734.0h0M542.1 729.6h0M556.8 725.4h0M608.3 731.1h0M536.8 727.5h0M568.9 724.5h0M532.8 711.0h0M578.0 720.2h0M608.0 707.8h0M539.9 727.6h0M587.3 736.0h0M578.1 702.2h0M548.3 711.2h0M574.4 733.6h0M558.2 717.8h0M538.0 737.4h0M526.7 697.1h0M579.2 734.4h0M560.1 738.1h0M592.7 724.1h0M598.3 723.2h0M568.2 744.6h0M550.6 702.4h0M572.4 719.9h0M571.5 699.1h0M590.3 727.4h0M538.8 715.4h0M556.7 724.7h0M520.8 707.9h0M563.3 719.0h0M545.7 712.0h0M595.5 714.1h0M547.9 724.3h0M583.9 728.0h0M576.4 742.5h0M536.7 714.6h0M570.8 726.4h0M565.3 728.5h0M574.8 731.0h0M538.0 711.9h0M538.4 723.3h0M581.8 729.6h0M560.0 718.4h0M542.4 693.3h0M618.8 728.0h0M552.6 728.6h0M568.2 724.5h0M551.9 706.7h0M594.4 733.1h0M582.0 710.8h0M544.9 723.9h0M577.3 727.0h0M604.2 728.2h0M578.6 745.7h0M575.4 724.9h0M551.5 724.3h0M581.1 705.2h0M569.7 706.0h0M535.7 693.8h0M576.5 706.9h0M564.6 721.5h0M537.1 721.7h0M563.3 714.7h0M535.6 719.7h0M537.6 701.0h0M506.8 715.4h0M574.9 746.0h0M531.6 704.3h0M598.7 715.8h0M578.8 715.1h0M566.7 734.4h0M535.0 716.5h0M548.1 691.3h0M572.7 725.1h0M560.6 732.5h0M559.3 722.2h0M566.1 729.6h0M545.3 714.3h0M563.8 720.1h0M558.7 709.1h0M568.0 713.8h0M575.7 720.4h0M584.1 747.1h0M550.6 699.5h0M515.0 720.9h0M597.6 715.8h0M584.1 698.8h0M581.4 744.0h0M576.6 739.1h0M556.7 732.0h0M559.2 726.7h0M519.7 707.7h0M552.3 725.0h0M569.7 713.7h0M567.0 724.4h0M551.0 689.1h0M554.4 704.5h0M556.7 700.1h0M592.7 726.6h0M606.0 772.8h0M555.8 708.3h0M601.6 713.8h0M542.8 724.9h0M586.1 751.0h0M556.6 702.7h0M565.3 741.6h0M604.4 721.9h0M552.9 720.4h0M558.3 717.0h0M540.7 722.0h0M596.3 720.0h0M579.2 735.4h0M553.9 711.9h0M556.4 717.8h0M562.2 704.7h0M605.7 717.1h0M559.0 724.3h0M547.8 702.3h0M563.0 710.5h0M526.9 725.8h0M549.3 712.4h0M584.9 738.6h0M541.6 744.0h0M576.7 712.9h0M562.5 723.8h0M529.6 709.5h0M579.7 731.7h0M542.9 726.9h0M543.9 709.6h0M558.4 712.0h0M562.5 707.1h0M538.2 707.2h0M613.4 712.7h0M595.4 729.8h0M532.7 711.1h0M561.5 734.1h0M541.6 722.9h0M578.8 719.3h0M555.6 720.8h0M552.3 727.0h0M551.3 723.3h0M554.7 730.2h0M537.8 719.0h0M544.8 703.9h0M539.4 718.3h0M531.2 712.7h0M517.2 739.7h0M581.2 702.9h0M570.1 729.5h0M533.5 698.2h0M523.1 719.6h0M560.6 720.1h0M609.7 726.6h0M530.3 729.7h0M567.3 739.1h0M550.3 709.1h0M569.8 717.5h0M571.0 737.3h0M561.9 718.4h0M556.8 712.1h0M537.3 713.7h0M562.4 708.7h0M567.4 711.8h0M581.8 721.6h0M569.6 732.0h0M594.2 721.0h0M556.3 725.0h0M552.9 701.0h0M573.6 732.3h0M577.0 708.6h0M591.6 723.5h0M571.4 736.0h0M555.5 674.4h0M556.2 726.2h0M582.4 708.6h0M576.7 734.3h0M585.1 722.2h0M552.9 717.7h0M582.9 724.2h0M545.1 714.6h0M583.8 721.1h0M542.7 698.8h0M574.7 710.3h0M582.6 709.0h0M545.6 729.3h0M537.0 710.4h0M554.1 708.0h0M586.8 704.5h0M575.9 742.2h0M570.3 732.9h0M562.9 718.2h0M577.2 722.9h0M581.6 712.5h0M514.5 704.4h0M525.7 738.4h0M563.4 707.0h0M522.6 716.1h0M576.1 726.8h0M538.9 731.4h0M592.3 719.3h0M582.4 745.2h0M600.4 726.4h0M546.7 738.3h0M580.2 736.0h0M559.1 705.5h0M546.7 731.7h0M546.2 708.8h0M557.0 727.7h0M612.4 723.7h0M570.1 728.5h0M525.6 706.1h0M511.1 691.5h0M548.1 728.6h0M576.0 742.5h0M561.7 730.0h0M574.2 720.0h0M536.4 736.7h0M559.5 729.1h0M601.3 712.1h0M539.2 730.9h0M537.3 701.7h0M557.0 714.3h0M558.7 713.6h0M566.9 717.7h0M568.8 735.9h0M572.9 713.0h0M551.6 723.3h0M557.4 710.2h0M559.8 722.8h0M560.4 728.0h0M572.2 728.7h0M577.9 711.9h0M587.4 718.7h0M534.0 715.9h0M558.9 712.3h0M556.8 737.4h0M550.3 706.4h0M522.5 722.0h0M567.6 726.8h0M546.0 699.2h0M529.9 741.6h0M555.6 728.6h0M548.6 705.2h0M570.6 723.8h0M575.8 731.3h0M596.8 731.6h0M547.0 705.6h0M559.4 727.6h0M584.9 720.5h0M552.6 732.0h0M519.6 705.0h0M545.6 715.9h0M597.4 740.4h0M578.0 706.6h0M566.4 747.0h0M528.4 714.8h0M586.6 729.2h0M575.3 702.1h0M571.1 710.5h0M557.3 744.5h0M606.6 715.0h0M515.9 707.0h0M607.1 732.7h0M565.7 729.3h0M532.3 722.4h0M559.1 728.5h0M579.9 711.3h0M526.2 721.2h0M539.4 693.8h0M551.4 723.1h0M589.2 734.4h0M558.4 723.7h0M533.9 711.8h0M578.4 719.2h0M529.7 736.3h0M557.8 713.9h0M551.3 724.3h0M557.7 702.2h0M555.5 720.3h0M545.9 717.1h0M546.9 717.1h0M600.0 740.5h0M536.5 699.7h0M558.5 717.9h0M578.3 723.8h0M579.3 726.6h0M579.4 731.1h0M555.3 706.0h0M499.7 711.9h0M508.7 714.8h0M556.1 708.0h0M572.5 716.6h0M571.0 748.3h0M544.7 727.9h0M541.5 692.8h0M512.8 700.3h0M556.8 703.3h0M551.3 712.3h0M574.3 717.5h0M593.9 717.6h0M553.7 725.0h0M573.3 705.5h0M570.8 716.3h0M567.4 729.1h0M526.2 712.1h0M554.3 723.6h0M538.6 717.3h0M597.2 694.6h0M545.0 716.4h0M562.6 722.5h0M575.1 725.0h0M560.3 733.0h0M587.1 704.4h0M582.9 711.2h0M614.9 729.0h0M556.3 731.7h0M627.8 730.5h0M551.1 726.3h0M565.6 717.2h0M576.8 722.9h0M572.2 706.8h0M518.4 716.9h0M559.1 739.7h0M561.9 741.8h0M541.5 704.1h0M571.3 709.9h0M543.8 698.3h0M589.3 717.5h0M583.8 730.5h0M590.8 715.6h0M576.8 742.2h0M563.0 715.1h0M576.8 736.6h0M562.2 723.4h0M595.5 705.7h0M578.2 722.2h0M570.4 721.6h0M566.1 710.5h0M502.6 706.4h0M561.8 709.6h0M563.5 708.8h0M555.0 718.6h0M568.9 722.2h0M578.1 724.7h0M554.6 700.2h0M574.3 730.4h0M513.5 708.7h0M562.9 728.3h0M554.1 725.8h0M609.7 722.1h0M592.8 730.7h0M554.4 724.2h0M573.0 714.8h0M578.1 725.1h0M568.0 715.4h0M590.3 726.6h0M582.6 705.2h0M567.8 703.7h0M584.2 745.5h0M578.5 730.2h0M597.5 720.7h0M549.3 750.7h0M558.4 716.2h0M544.5 714.0h0M570.2 719.8h0M547.3 716.3h0M554.8 714.2h0M575.8 744.4h0M542.4 711.1h0M569.4 724.0h0M549.1 711.9h0M573.7 716.7h0M603.7 711.4h0M585.7 727.9h0M531.5 720.2h0M567.7 721.3h0M580.5 715.9h0M536.7 729.3h0M556.8 725.2h0M568.5 723.1h0M574.8 723.0h0M558.8 707.5h0M575.4 719.3h0M569.1 729.3h0M557.1 720.8h0M540.1 723.4h0M544.4 700.1h0M572.1 715.8h0M600.4 700.7h0M579.0 720.7h0M560.4 712.7h0M580.7 712.7h0M557.0 727.1h0M573.9 722.3h0M590.6 745.4h0M565.8 719.9h0M566.5 695.3h0M568.6 717.1h0M571.5 719.1h0M572.5 733.5h0M577.5 712.9h0M564.4 720.2h0M593.8 718.1h0M574.4 720.6h0M576.6 734.7h0M568.2 739.5h0M538.1 690.2h0M558.5 735.8h0M594.1 724.8h0M557.8 744.9h0M528.5 719.6h0M544.2 735.1h0M604.7 728.8h0M545.9 712.6h0M574.1 736.9h0M555.2 744.2h0M562.9 732.4h0M525.8 729.6h0M552.1 716.7h0M576.3 724.9h0M536.9 708.3h0M532.6 709.7h0M551.5 732.0h0M609.5 725.0h0M571.7 714.5h0M615.1 727.8h0M569.6 722.6h0M554.1 743.6h0M533.8 717.4h0M560.7 727.3h0M535.3 698.4h0" stroke="#c22cf2" stroke-width="2" stroke-linecap="round" stroke-opacity="0.85" fill="none"/>
<path d="M550.8 693.0h0M592.3 731.0h0M630.2 724.5h0M532.5 714.3h0M577.3 716.5h0M615.9 731.4h0M550.3 705.2h0M527.1 685.4h0M530.6 724.3h0M528.6 748.2h0M535.2 724.2h0M566.9 770.6h0M616.2 728.1h0M548.5 727.1h0M581.5 730.3h0M539.3 700.9h0M584.9 720.0h0M627.1 714.3h0M584.1 701.8h0M559.8 743.7h0M583.1 709.6h0M597.3 697.7h0M564.0 711.7h0M560.7 719.6h0M571.5 731.4h0M574.5 742.4h0M569.6 741.5h0M547.4 724.8h0M590.4 776.5h0M594.7 774.2h0M531.0 729.7h0M574.3 718.1h0M595.0 717.9h0M585.5 735.7h0M577.3 709.4h0M608.5 702.9h0M595.1 709.0h0M569.4 693.0h0M623.0 702.3h0M638.2 749.5h0M596.4 728.1h0M533.7 690.6h0M571.7 716.7h0M580.0 714.5h0M562.7 708.0h0M581.8 714.3h0M589.8 739.8h0M554.8 730.0h0M641.3 729.7h0M545.8 691.0h0M548.7 708.0h0M547.0 722.4h0M619.3 738.0h0M532.4 708.3h0M517.3 726.0h0M581.5 699.6h0M573.1 692.9h0M603.0 695.9h0M542.3 719.0h0M572.3 707.2h0M575.8 729.8h0M573.3 723.1h0M597.6 720.7h0M594.1 722.9h0M535.7 719.6h0M561.8 748.9h0M542.6 736.5h0M600.5 750.7h0M612.3 735.8h0M565.3 728.6h0M503.4 714.6h0M554.8 723.4h0M528.8 738.1h0M578.7 726.1h0M555.0 719.2h0M509.8 726.7h0M540.9 700.6h0M526.0 734.1h0M539.0 704.8h0M600.6 720.5h0M552.4 734.5h0M509.5 740.5h0M558.1 725.2h0M613.0 717.6h0M598.2 706.8h0M580.6 720.5h0M571.2 721.1h0M587.3 724.5h0M584.7 744.1h0M537.0 690.4h0M503.2 711.2h0M565.1 728.9h0M558.0 735.1h0M509.2 697.5h0M587.5 706.6h0M599.6 741.2h0M557.5 694.6h0M585.5 730.4h0M531.3 708.4h0M630.8 721.0h0M566.8 704.2h0M567.4 703.9h0M581.2 749.1h0M548.0 714.8h0M583.1 741.6h0M546.5 692.5h0M570.7 725.8h0M580.8 738.9h0M544.3 729.3h0M574.2 753.6h0M549.2 707.7h0M531.0 724.5h0M532.2 735.3h0M561.6 727.1h0M572.1 726.8h0M586.0 704.6h0M547.2 710.0h0M529.0 711.6h0M562.9 731.8h0M589.8 738.6h0M558.1 698.8h0M583.1 742.4h0M596.7 740.9h0M597.7 727.2h0M532.7 708.7h0M559.6 742.9h0M544.3 724.5h0M526.6 725.6h0M536.1 741.7h0M597.9 716.7h0M584.2 684.9h0M592.3 705.1h0M595.5 721.8h0M576.6 730.8h0M588.1 727.2h0M565.6 733.6h0M569.3 732.5h0M535.8 708.8h0M579.2 689.7h0M543.5 731.1h0M533.2 730.3h0M506.6 734.3h0M543.3 713.0h0M597.4 713.7h0M547.2 719.9h0M539.6 734.7h0M602.5 704.9h0M581.7 727.4h0M556.4 738.5h0M556.4 758.7h0M579.0 718.2h0M575.5 737.3h0M566.6 732.6h0M622.8 747.7h0M532.1 735.1h0M625.3 704.9h0M568.7 703.8h0M546.7 721.6h0M515.3 756.3h0M636.8 750.8h0M574.0 755.2h0M512.0 746.4h0M534.8 734.3h0M579.8 745.5h0M587.0 751.3h0M559.7 719.7h0M612.2 755.7h0M554.0 716.7h0M587.5 732.7h0M585.9 722.6h0M607.6 705.5h0M598.5 736.9h0M567.2 726.9h0M592.8 712.4h0M582.9 728.9h0M534.6 745.6h0M577.2 709.2h0M542.7 732.7h0M546.5 731.6h0M551.2 718.7h0M568.4 717.2h0M600.7 729.7h0M534.1 717.1h0M569.5 734.7h0M585.3 733.1h0M593.5 741.1h0M565.5 719.3h0M571.7 708.8h0M599.4 727.7h0M561.0 726.5h0M577.3 711.8h0M562.5 722.8h0M561.1 715.0h0M567.1 725.2h0M543.7 746.2h0M559.2 726.5h0M610.1 730.4h0M577.4 698.1h0M589.8 766.7h0M591.9 704.9h0M535.3 728.9h0M593.2 724.7h0M612.4 728.2h0M547.2 725.6h0M558.5 691.0h0M549.2 720.5h0M524.5 726.6h0M598.1 714.5h0M533.2 706.6h0M573.8 704.9h0M576.3 727.8h0M552.9 749.9h0M516.5 688.5h0M590.8 723.9h0M593.8 706.2h0M592.8 701.6h0M510.7 709.1h0M578.3 718.3h0M609.5 721.7h0M568.4 725.6h0M533.3 744.4h0M492.3 743.6h0M606.8 736.1h0M528.0 715.8h0M546.5 714.5h0M559.2 733.6h0M534.4 730.8h0M608.7 760.3h0M557.8 717.6h0M561.8 731.6h0M551.8 707.1h0M541.0 728.0h0M598.7 757.4h0M580.4 733.9h0M516.4 690.6h0M600.0 737.2h0M560.6 695.8h0M573.5 700.7h0M606.0 720.3h0M555.2 751.3h0M584.4 741.5h0M569.9 729.1h0M530.0 692.3h0M558.6 733.8h0M552.5 697.9h0M532.2 704.5h0M596.2 733.9h0M592.2 723.5h0M585.4 721.0h0M574.2 736.0h0M512.8 717.5h0M572.1 691.9h0M522.0 689.8h0M582.4 715.2h0M569.2 727.1h0M556.9 732.1h0M544.9 717.0h0M556.4 718.3h0M564.4 739.4h0M585.1 703.7h0M611.3 720.7h0M598.7 723.0h0M568.1 736.6h0M612.2 722.9h0M518.3 706.2h0M569.3 719.5h0M572.4 730.7h0M551.5 726.2h0M562.3 704.9h0M572.4 697.2h0M534.6 754.9h0M559.2 724.0h0M555.0 726.9h0M557.2 752.0h0M626.7 739.3h0M594.8 715.7h0M549.8 696.2h0M548.6 721.7h0M600.0 707.4h0M515.6 762.6h0M566.1 717.4h0M591.9 760.2h0M564.9 707.3h0M567.2 743.3h0M551.5 742.2h0M570.3 733.6h0M609.8 740.6h0M550.6 720.7h0M548.7 729.3h0M537.4 745.2h0M530.0 742.3h0M523.0 711.3h0M601.9 727.7h0M585.4 724.8h0M551.1 695.2h0M613.0 737.0h0M531.4 730.3h0M536.8 693.6h0M596.8 735.3h0M605.2 720.4h0" stroke="#c22cf2" stroke-width="2" stroke-linecap="round" stroke-opacity="0.85" fill="none"/>
<path d="M616.7 741.7h0M624.2 742.6h0M654.5 750.4h0M633.0 748.3h0M626.3 746.9h0M620.5 747.4h0M644.9 742.7h0M627.7 736.7h0M618.0 736.1h0M617.4 748.1h0M627.6 746.0h0M632.1 747.7h0M640.1 746.1h0M608.7 742.2h0M622.9 731.2h0M622.7 740.2h0M625.5 736.9h0M630.7 742.9h0M612.5 743.6h0M634.8 740.8h0M643.0 741.3h0M618.9 743.9h0M629.6 741.0h0M628.3 741.6h0M633.5 738.0h0M632.5 734.2h0M611.9 735.6h0M616.0 738.5h0M628.4 737.5h0M617.5 742.2h0M609.5 736.5h0M624.2 740.4h0M637.0 744.6h0M621.5 740.3h0M628.8 742.8h0M623.9 744.2h0M622.5 735.5h0M632.3 744.4h0M611.7 740.2h0M617.3 742.4h0M629.9 742.1h0M622.1 733.3h0M625.5 736.2h0M627.1 739.2h0M627.1 740.1h0M617.0 737.6h0M612.8 743.9h0M628.1 736.1h0M623.2 740.3h0M627.1 741.8h0M619.1 742.7h0M628.5 744.7h0M630.2 742.7h0M603.7 738.8h0M618.6 734.5h0M637.6 743.5h0M646.0 741.6h0M634.0 743.3h0M625.4 744.0h0M629.6 744.4h0M632.3 744.7h0M645.8 741.1h0M630.2 733.3h0M625.6 746.8h0M624.2 744.9h0M641.0 744.7h0M620.7 742.7h0M616.6 740.0h0M632.8 753.5h0M622.3 739.1h0M636.9 749.0h0M632.1 741.9h0M617.6 739.4h0M632.3 747.4h0M621.4 746.6h0M616.5 736.7h0M622.5 741.8h0M628.8 741.4h0M631.6 745.5h0M637.5 740.4h0M623.8 742.7h0M626.7 747.4h0M651.0 743.3h0M648.4 738.6h0M625.2 742.9h0M625.2 740.7h0M607.7 738.9h0M624.9 744.3h0M626.9 746.8h0M620.1 738.6h0M630.5 737.2h0M624.0 741.5h0M617.1 741.5h0M635.7 749.6h0M630.5 739.3h0M630.5 748.7h0M604.1 738.9h0M639.4 740.3h0M619.4 745.1h0M610.4 735.2h0M622.7 745.3h0M614.3 745.8h0M622.7 745.1h0M645.2 744.7h0M638.7 752.1h0M627.6 741.8h0M620.8 744.4h0M646.9 737.8h0M632.9 745.4h0M625.5 747.0h0M627.8 744.8h0M607.6 740.0h0M639.5 741.3h0M625.6 738.4h0M615.5 742.6h0M626.4 743.9h0M639.3 743.2h0M616.6 738.7h0M617.4 734.6h0M624.6 747.3h0M628.1 738.6h0M628.5 739.5h0M625.8 744.7h0M618.0 738.6h0M607.4 740.7h0M634.5 747.3h0M629.1 742.2h0M632.2 740.2h0M629.8 730.8h0M614.2 734.1h0M642.1 742.1h0M635.1 736.5h0M631.8 739.1h0M623.5 734.6h0M628.3 740.0h0M610.7 746.9h0M629.1 735.0h0M606.5 741.1h0M621.8 742.8h0M635.3 746.3h0M650.4 745.6h0M630.3 743.4h0M625.5 740.5h0M621.5 736.9h0M615.1 734.4h0M615.4 746.2h0M605.8 739.0h0M631.1 746.5h0M639.3 741.6h0M619.3 740.5h0M623.6 743.4h0M615.4 743.1h0M626.7 742.2h0M616.2 737.3h0M622.2 742.2h0M632.3 744.0h0M629.3 740.3h0M629.0 742.7h0M637.7 744.4h0M608.4 737.4h0M630.3 739.1h0M609.1 742.0h0M613.7 741.7h0M628.3 741.8h0M621.9 743.0h0M618.8 741.7h0M619.9 739.6h0M636.3 749.7h0M634.8 738.5h0M618.7 744.4h0M633.3 738.7h0M612.8 752.8h0M624.2 742.8h0M637.6 742.7h0M623.5 737.9h0M631.7 741.9h0M655.0 742.8h0M612.7 751.8h0M633.4 744.5h0M610.8 740.4h0M622.7 740.4h0M619.5 738.1h0M629.9 737.3h0M650.2 740.7h0M617.9 737.1h0M619.0 742.8h0M627.8 736.2h0M625.0 737.7h0M609.0 740.8h0M619.0 741.6h0M612.6 740.7h0M622.6 739.0h0M632.8 745.8h0M631.9 740.0h0M631.0 739.1h0M623.2 738.2h0M653.8 744.5h0M633.6 738.9h0M628.5 740.6h0M615.0 737.4h0M626.6 741.9h0M614.9 743.1h0M615.7 742.8h0M632.4 744.0h0M618.2 736.3h0M618.9 747.0h0M628.0 741.8h0M625.5 741.7h0M603.2 734.9h0M626.1 740.1h0M608.1 737.8h0M628.4 733.6h0M630.8 747.2h0M621.3 740.4h0M628.4 739.7h0M615.8 740.8h0M624.4 743.1h0M623.3 741.2h0M632.4 741.6h0M631.1 746.5h0" stroke="#c22cf2" stroke-width="2" stroke-linecap="round" stroke-opacity="0.85" fill="none"/>
<path d="M517.5 716.3h0M593.0 769.2h0M587.8 719.8h0M563.0 691.1h0M651.7 736.5h0M581.9 733.2h0M580.1 743.6h0M606.6 726.3h0M588.5 707.1h0M541.0 735.4h0M618.1 720.1h0M523.5 719.4h0M580.0 712.5h0M635.5 716.5h0M532.9 756.8h0M536.7 730.7h0M497.1 726.9h0M652.8 755.9h0M636.1 775.4h0M591.1 733.4h0M587.2 738.4h0M562.0 709.2h0M623.8 751.5h0M568.4 732.8h0M495.2 738.3h0M591.6 741.6h0M574.4 719.0h0M584.2 731.4h0M584.2 708.4h0M510.8 717.6h0M658.7 727.8h0M666.7 747.1h0M643.2 753.4h0M695.1 734.1h0M576.1 768.1h0M637.1 733.4h0M563.2 717.6h0M568.1 742.0h0M608.4 714.6h0M553.0 746.3h0" stroke="#c22cf2" stroke-width="2" stroke-linecap="round" stroke-opacity="0.85" fill="none"/>
<path d="M562.2 714.4h0M576.2 738.2h0M569.3 725.9h0M565.3 714.7h0M552.8 699.0h0M541.6 713.3h0M567.2 741.1h0M566.6 713.2h0M526.6 707.1h0M546.0 719.6h0M528.5 710.1h0M562.9 715.4h0M525.3 712.8h0M541.8 694.8h0M556.3 709.8h0M566.1 729.5h0M558.8 711.4h0M560.0 719.6h0M566.3 717.9h0M547.7 716.4h0M557.1 716.4h0M576.6 731.6h0M555.7 716.8h0M545.2 704.3h0M557.9 709.3h0M579.4 729.8h0M543.7 720.3h0M567.8 722.4h0M541.2 712.0h0M551.6 715.4h0M561.6 722.9h0M567.1 714.5h0M559.9 735.4h0M575.0 729.9h0M593.6 716.5h0M577.2 726.5h0M555.0 730.5h0M579.7 716.1h0M565.4 715.9h0M569.9 731.4h0M545.5 709.4h0M568.2 745.4h0M572.6 711.8h0M569.8 707.9h0M548.6 713.6h0M547.2 705.6h0M560.2 722.0h0M546.8 714.9h0M587.7 709.9h0M604.6 735.2h0M526.2 724.1h0M583.2 729.9h0M566.6 719.9h0M604.7 737.7h0M542.8 725.3h0M555.9 712.8h0M575.8 724.8h0M572.3 719.1h0M560.8 739.0h0M537.2 712.8h0M558.2 724.3h0M531.2 707.5h0M567.8 731.9h0M537.3 712.0h0M549.0 730.2h0M574.0 738.1h0M571.8 714.9h0M558.9 729.2h0M551.9 705.8h0M542.6 705.0h0M542.5 714.2h0M574.3 723.0h0M530.4 708.1h0M583.7 719.4h0M547.9 713.6h0M569.6 714.8h0M559.2 710.9h0M576.8 730.6h0M562.1 720.6h0M542.8 709.5h0M536.6 731.2h0M589.8 709.3h0M546.0 733.6h0M547.7 721.4h0M556.8 736.3h0M561.6 728.4h0M563.5 717.8h0M585.7 719.0h0M544.2 713.3h0M570.3 742.5h0M562.3 730.7h0M558.0 724.3h0M533.3 711.6h0M569.0 724.6h0M551.6 716.2h0M548.8 712.0h0M587.7 734.6h0M552.5 737.6h0M575.8 712.9h0M577.3 720.6h0M561.3 711.1h0M549.1 723.6h0M568.8 717.1h0M555.0 700.5h0M552.5 701.3h0M538.7 706.6h0M550.5 734.3h0M541.4 728.9h0M546.1 703.4h0M583.2 720.9h0M558.6 725.2h0M542.2 702.8h0M561.7 727.7h0M555.9 708.5h0M584.9 729.8h0M585.1 731.6h0M581.8 725.9h0M550.5 715.5h0M553.1 721.6h0M606.1 712.4h0M597.4 723.9h0M533.6 701.7h0M575.7 723.0h0M586.5 730.2h0M539.5 721.5h0M548.5 725.1h0M557.8 719.2h0M568.9 718.2h0M567.2 735.7h0M574.3 730.6h0M586.0 723.9h0M553.1 718.9h0M563.5 701.9h0M560.2 712.9h0M535.2 699.8h0M560.6 736.1h0M595.1 724.9h0M564.2 734.0h0M572.2 712.0h0M595.4 733.0h0M571.4 713.6h0M559.2 729.3h0M598.2 715.9h0M593.1 724.6h0M552.8 716.0h0M552.2 720.1h0M532.2 700.5h0M590.6 705.2h0M571.1 723.5h0M560.6 712.3h0M571.4 724.9h0M545.1 720.9h0M582.4 714.1h0M579.9 721.1h0M583.0 704.6h0M586.3 721.1h0M586.2 731.9h0M535.8 706.4h0M577.4 714.6h0M538.7 710.0h0M548.9 718.1h0M598.0 731.0h0M566.5 720.1h0M538.2 708.9h0M550.4 702.6h0M546.3 717.0h0M520.8 703.4h0M566.5 727.6h0M577.1 726.0h0M569.3 719.6h0M564.1 727.9h0M555.4 713.1h0M556.5 713.8h0M565.7 736.4h0M599.9 714.9h0M571.6 727.9h0M567.5 726.1h0M571.5 714.0h0M544.7 732.1h0M521.2 720.3h0M558.9 727.7h0M536.0 709.9h0M584.9 713.6h0M570.3 728.8h0M567.1 699.6h0M539.6 724.9h0M562.7 741.0h0M529.2 727.5h0M525.3 707.6h0M579.1 750.4h0M553.8 718.7h0M545.5 721.9h0M587.3 713.5h0M549.6 728.7h0M576.9 725.3h0M561.9 712.3h0M559.8 719.8h0M545.7 730.6h0M553.5 715.0h0M548.6 717.9h0M567.3 719.9h0M558.5 725.8h0M588.4 720.4h0M581.0 707.3h0M574.9 729.2h0M582.3 734.5h0M526.1 715.5h0M540.4 697.5h0M561.2 714.8h0M563.6 726.3h0M558.7 730.8h0M542.0 708.3h0M558.9 732.7h0M578.0 711.3h0M583.7 723.7h0M588.9 734.2h0M591.3 730.5h0M552.5 704.0h0M546.7 714.0h0M538.3 713.9h0M546.8 728.7h0M563.7 720.7h0M563.9 708.3h0M546.8 723.3h0M551.9 723.3h0M536.1 726.5h0M524.2 703.1h0M559.6 712.0h0M535.6 707.5h0M576.5 731.4h0M567.9 718.7h0M528.2 713.3h0M530.1 705.4h0M551.0 715.0h0M594.6 722.0h0M588.1 705.8h0M531.0 703.3h0M577.3 722.5h0M538.3 693.1h0M564.3 714.1h0M548.6 718.7h0M549.9 727.3h0M530.8 717.5h0M538.4 703.5h0M551.1 715.6h0M563.2 723.4h0M577.1 727.4h0M577.4 733.6h0M573.8 715.0h0M558.2 698.2h0M588.2 719.8h0M554.8 736.3h0M556.3 704.0h0M559.2 724.5h0M555.7 723.0h0M573.1 719.3h0M529.1 711.5h0M555.5 717.5h0M557.6 718.5h0M559.8 710.1h0M554.4 698.4h0M544.0 716.4h0M566.5 736.8h0M575.9 705.4h0M567.9 714.8h0M562.6 729.8h0M568.1 713.1h0M563.0 714.5h0M544.7 717.8h0M566.0 713.2h0M570.5 718.0h0M510.9 703.1h0M569.1 728.8h0M544.5 721.4h0M577.6 713.0h0M550.0 711.4h0M572.6 729.9h0M566.4 710.6h0M556.9 716.0h0M584.8 710.5h0M560.4 721.0h0M569.0 725.0h0M594.2 738.8h0M578.9 719.5h0M589.8 718.3h0M551.5 726.4h0M589.3 732.3h0M563.2 729.7h0M581.5 736.8h0M534.5 720.6h0M574.8 734.6h0M572.4 729.4h0M538.5 735.1h0M544.9 721.8h0M546.7 732.0h0M582.9 739.7h0M574.8 721.6h0M556.3 715.3h0M553.3 714.7h0M570.3 719.9h0M551.8 712.8h0M564.3 720.9h0M579.3 709.9h0M579.0 728.5h0M570.0 724.5h0M608.9 727.2h0M547.7 718.2h0M562.4 735.0h0M549.4 716.2h0M540.9 714.2h0M568.9 706.8h0M586.8 721.0h0M574.4 722.2h0M567.9 727.4h0M537.7 713.1h0M545.8 721.0h0M575.7 710.7h0M560.6 720.6h0M571.1 731.7h0M569.9 720.9h0M554.2 730.9h0M568.7 739.6h0M564.7 713.0h0M558.3 720.3h0M564.6 733.7h0M553.7 724.5h0M549.7 713.6h0M592.6 729.7h0M580.5 725.1h0M551.6 720.7h0M565.1 723.1h0M546.6 719.9h0M579.7 716.0h0M552.0 724.4h0M554.5 727.5h0M589.4 712.0h0M597.2 736.8h0M575.8 744.7h0M558.9 722.4h0M547.8 720.5h0M580.0 719.2h0M545.2 720.7h0M572.3 714.1h0M594.2 725.8h0M567.9 724.6h0M559.8 724.3h0M570.5 717.0h0M565.9 700.9h0M545.1 718.0h0M510.7 691.8h0M549.9 724.6h0M550.5 700.2h0M565.4 714.8h0M583.0 739.0h0M580.3 733.5h0M570.0 739.3h0M585.7 746.4h0M546.6 718.3h0M578.9 724.5h0M557.3 715.5h0M581.8 733.6h0M560.5 731.3h0M579.7 726.5h0M558.8 733.1h0M575.1 726.2h0M572.9 713.0h0M549.6 721.1h0M552.7 716.9h0M560.4 720.8h0M568.3 708.9h0M574.9 723.2h0M562.0 712.6h0M540.4 727.1h0M572.0 732.5h0M569.1 722.4h0M564.5 742.1h0M589.0 723.3h0M586.0 722.0h0M570.0 722.6h0M561.5 728.5h0M556.9 721.4h0M556.0 702.6h0M535.5 715.7h0M579.5 728.5h0M567.8 713.1h0M553.6 730.8h0M570.4 713.7h0M552.5 717.7h0M567.1 714.4h0M566.0 726.4h0M530.4 720.6h0M553.6 721.4h0M550.2 718.7h0M519.4 702.4h0M565.5 740.8h0M564.2 718.6h0M580.3 731.0h0M547.1 716.0h0M577.7 731.5h0M585.3 720.5h0M550.3 724.1h0M568.1 725.4h0M531.4 716.1h0M600.0 729.6h0M562.0 727.1h0M574.5 717.2h0M556.9 719.7h0M555.5 726.3h0M587.3 743.5h0M569.2 715.0h0M563.8 720.6h0M574.7 719.0h0M580.7 728.2h0M558.1 718.5h0M556.8 714.5h0M579.7 709.8h0M558.1 711.8h0M575.2 722.6h0M567.8 736.0h0M580.1 726.9h0M545.0 713.8h0M540.4 716.6h0M555.6 722.2h0M599.8 719.1h0M549.8 713.1h0M576.8 730.6h0M581.3 725.9h0M599.8 740.7h0M526.9 707.1h0M545.8 734.2h0M556.9 733.9h0M549.8 710.2h0M537.0 708.4h0M574.6 720.6h0M555.2 716.5h0M562.8 723.1h0M592.0 714.9h0M577.1 727.6h0M551.2 730.6h0M576.7 723.0h0M570.4 726.1h0M557.8 721.2h0M538.3 704.3h0M597.9 736.4h0M582.3 718.1h0M555.6 725.9h0M559.4 728.8h0M565.4 711.2h0M553.3 723.0h0M577.8 710.1h0M564.0 708.5h0M522.0 716.9h0M550.3 716.8h0M558.7 725.7h0M536.2 711.7h0M558.4 732.0h0M593.4 706.3h0M563.1 719.6h0M530.1 708.2h0M593.9 734.9h0M514.0 701.6h0M576.7 706.7h0M549.6 703.8h0M579.7 736.8h0M580.3 718.7h0M577.8 736.1h0M544.6 715.5h0M559.3 717.8h0M548.8 707.0h0M574.3 725.5h0M588.3 720.9h0M581.4 721.6h0M551.6 723.0h0M594.6 725.8h0M574.7 729.0h0M549.1 722.3h0M582.5 718.2h0M523.0 714.0h0M588.8 710.4h0M558.6 735.0h0M527.1 725.3h0M548.8 720.1h0M546.7 715.0h0M555.7 714.3h0M568.7 716.5h0M535.0 704.1h0M559.1 728.5h0M551.9 706.4h0M562.2 722.8h0M595.5 724.0h0M572.3 714.4h0M557.8 720.3h0M542.8 703.2h0M592.2 726.8h0M541.9 714.3h0M541.7 721.5h0M570.8 734.9h0M555.3 716.1h0M559.1 718.8h0M567.5 723.7h0M540.2 717.1h0M578.4 727.2h0M536.1 712.6h0M596.8 732.2h0M561.9 716.3h0M555.0 726.0h0M561.5 713.0h0M543.8 710.1h0M575.7 712.8h0M549.8 736.8h0M574.1 717.3h0M534.3 707.8h0M543.1 723.9h0M582.5 737.1h0M525.6 723.5h0M557.6 725.1h0M551.9 725.3h0M545.6 727.6h0M570.5 709.1h0M573.7 718.6h0M528.3 730.4h0M594.5 719.7h0M558.7 721.8h0M555.8 705.5h0M593.9 730.3h0M557.3 728.2h0M569.0 722.1h0M585.8 726.2h0M547.8 721.8h0M528.4 704.6h0M566.7 729.7h0M564.7 732.6h0M567.0 728.3h0M552.8 722.0h0M552.4 731.0h0M581.0 731.9h0M564.3 722.1h0M537.0 710.5h0M551.2 721.2h0M597.2 729.9h0M568.2 724.8h0M549.5 722.8h0M569.8 735.8h0M559.6 722.7h0M549.3 715.9h0M578.1 733.3h0M562.6 751.3h0M548.7 716.6h0M544.0 727.0h0M562.5 728.1h0M564.0 698.5h0M555.9 714.6h0M560.5 725.8h0M586.9 734.8h0M581.1 716.0h0M544.4 731.1h0M533.8 710.8h0M540.9 723.6h0M583.5 734.9h0M580.3 726.2h0" stroke="#5a34ff" stroke-width="2" stroke-linecap="round" stroke-opacity="0.85" fill="none"/>
<path d="M628.4 745.1h0M627.7 735.4h0M631.7 738.0h0M631.3 737.3h0M627.9 744.5h0M609.2 740.4h0M638.6 735.9h0M599.4 737.4h0M621.1 740.8h0M611.1 744.2h0M618.7 742.5h0M627.8 744.1h0M627.8 735.9h0M628.4 742.6h0M624.3 741.6h0M626.9 741.8h0M625.7 737.5h0M634.2 741.9h0M625.9 739.9h0M636.5 743.5h0M631.7 743.4h0M626.1 739.1h0M614.8 733.2h0M624.7 739.1h0M628.6 742.9h0M619.7 740.0h0M635.1 739.8h0M616.1 742.6h0M633.9 741.0h0M612.0 737.4h0M631.9 739.7h0M635.5 749.4h0M608.5 740.9h0M655.4 738.7h0M615.3 740.2h0M623.8 744.7h0M637.2 740.6h0M630.6 742.7h0M632.4 741.2h0M620.6 739.6h0M638.6 739.4h0M620.4 745.0h0M623.8 740.2h0M623.5 745.1h0M625.2 737.8h0M620.9 739.5h0M626.8 745.3h0M624.3 741.6h0M628.7 735.1h0M637.0 741.7h0M617.6 742.9h0M614.1 741.2h0M622.4 741.4h0M630.8 740.0h0M623.2 738.9h0M627.5 742.6h0M627.9 739.3h0M621.3 742.0h0M619.4 739.7h0M633.7 745.6h0M619.9 744.4h0M617.8 741.7h0M635.5 748.2h0M623.4 743.3h0M629.9 739.0h0M627.3 744.1h0M622.6 744.6h0M635.1 740.9h0M630.9 741.0h0M629.0 737.7h0M625.8 741.3h0M628.3 741.2h0M625.1 740.6h0M630.3 741.9h0M623.1 742.4h0M619.6 741.3h0M622.1 742.2h0M633.3 738.4h0M632.6 740.0h0M624.0 742.0h0M617.3 737.9h0M611.9 737.5h0M618.8 737.3h0M622.6 741.9h0M610.9 737.3h0M618.7 748.9h0M624.6 737.2h0M616.3 744.3h0M630.4 741.8h0M631.6 742.7h0M618.7 739.6h0M626.2 736.4h0M638.8 742.9h0M622.5 739.5h0M625.6 740.2h0M621.1 744.3h0M635.0 744.6h0M619.3 744.4h0M633.6 744.9h0M632.1 744.0h0M630.1 744.4h0M627.3 739.8h0M619.9 744.7h0M624.1 743.4h0M621.5 739.9h0M639.4 743.1h0M622.4 742.8h0M635.5 736.9h0M618.7 742.7h0M613.8 737.3h0M628.6 743.2h0M633.4 739.1h0M624.3 738.8h0M632.6 746.7h0M629.5 736.9h0M637.1 746.5h0M616.5 743.5h0M621.8 736.7h0M620.4 740.7h0M626.3 740.4h0" stroke="#5a34ff" stroke-width="2" stroke-linecap="round" stroke-opacity="0.85" fill="none"/>
<g transform="translate(547 715.4) rotate(14)" filter="url(#bl2)">
<ellipse rx="21" ry="11.5" fill="#3a3cff"/>
<ellipse rx="14.7" ry="8.05" fill="#1c9cff"/>
<ellipse rx="8.82" ry="4.83" fill="#20e8d8"/>
</g>
<g transform="translate(564 721) rotate(14)" filter="url(#bl2)">
<ellipse rx="38" ry="10.6" fill="#2c40ff"/>
<ellipse rx="31.92" ry="8.9" fill="#18a8ff"/>
<ellipse rx="26.6" ry="7.42" fill="#18f0d0"/>
<ellipse rx="22.04" ry="6.15" fill="#40f040"/>
<ellipse rx="17.1" ry="4.77" fill="#f0f020"/>
<ellipse rx="12.16" ry="3.39" fill="#ff5a10"/>
<ellipse rx="6.08" ry="1.7" fill="#e01008"/>
</g>
<g transform="translate(548 716) rotate(18)" filter="url(#bl2)">
<ellipse rx="14" ry="6.5" fill="#60f040"/>
<ellipse rx="9.8" ry="4.55" fill="#f0e020"/>
<ellipse rx="5.88" ry="2.73" fill="#ff4a10"/>
</g>
<g transform="translate(625 741.4) rotate(4)" filter="url(#bl2)">
<ellipse rx="15.5" ry="4.6" fill="#2c40ff"/>
<ellipse rx="12.4" ry="3.68" fill="#18b8ff"/>
<ellipse rx="9.3" ry="2.76" fill="#20f0b0"/>
<ellipse rx="6.2" ry="1.84" fill="#70f040"/>
<ellipse rx="3.1" ry="0.92" fill="#e8f020"/>
</g>
</g>
<circle cx="544.7" cy="704.9" r="7.2" fill="none" stroke="#1c3a20" stroke-width="1.6"/>
<circle cx="554.8" cy="709.7" r="7.2" fill="none" stroke="#0a7a14" stroke-width="1.6"/>
<circle cx="567.3" cy="715" r="7.2" fill="none" stroke="#52d85e" stroke-width="1.6"/>
<circle cx="578" cy="722.5" r="7.2" fill="none" stroke="#98f09a" stroke-width="1.6"/>
<circle cx="590" cy="728.3" r="7.2" fill="none" stroke="#dcffdc" stroke-width="1.6"/>
<circle cx="530" cy="718.2" r="7.2" fill="none" stroke="#36141c" stroke-width="1.6"/>
<circle cx="543.3" cy="721.7" r="7.2" fill="none" stroke="#7a440c" stroke-width="1.6"/>
<circle cx="558" cy="726.2" r="7.2" fill="none" stroke="#f08410" stroke-width="1.6"/>
<circle cx="613.6" cy="741.8" r="7" fill="none" stroke="#858585" stroke-width="2.4"/>
<line x1="508.4" y1="725" x2="613.6" y2="741.8" stroke="#000" stroke-width="2.1" stroke-linecap="round"/>
<line x1="585.6" y1="691.8" x2="613.6" y2="741.8" stroke="#000" stroke-width="2.1" stroke-linecap="round"/>
<circle cx="508.4" cy="725" r="4.1" fill="#c00000"/>
<circle cx="585.6" cy="691.8" r="4.1" fill="#0000ff"/>
<text x="506.4" y="745" font-size="13.5" font-weight="bold" fill="#ff2a0a" text-anchor="middle">A</text>
<text x="589.4" y="690.4" font-size="14" font-weight="bold" fill="#0000ff" text-anchor="start">B</text>
<text x="618.4" y="728.4" font-size="13.5" font-weight="bold" fill="#4a4a4a" text-anchor="start">AF<tspan font-size="8.5" dy="3.4">2</tspan></text>
<line x1="491.6" y1="675.8" x2="491.6" y2="783.5" stroke="#000" stroke-width="1.4"/>
<line x1="490.9" y1="782.8" x2="680" y2="782.8" stroke="#000" stroke-width="1.4"/>
<line x1="504.2" y1="782.8" x2="504.2" y2="786.6" stroke="#000" stroke-width="1.1"/>
<text x="504.2" y="801.2" font-size="14" font-weight="normal" fill="#1a1a1a" text-anchor="middle">0.2</text>
<line x1="584.8" y1="782.8" x2="584.8" y2="786.6" stroke="#000" stroke-width="1.1"/>
<text x="584.8" y="801.2" font-size="14" font-weight="normal" fill="#1a1a1a" text-anchor="middle">0.4</text>
<line x1="667.6" y1="782.8" x2="667.6" y2="786.6" stroke="#000" stroke-width="1.1"/>
<text x="667.6" y="801.2" font-size="14" font-weight="normal" fill="#1a1a1a" text-anchor="middle">0.6</text>
<line x1="544.6" y1="782.8" x2="544.6" y2="785.4" stroke="#000" stroke-width="0.9"/>
<line x1="626" y1="782.8" x2="626" y2="785.4" stroke="#000" stroke-width="0.9"/>
<line x1="676" y1="782.8" x2="676" y2="785.4" stroke="#000" stroke-width="0.9"/>
<line x1="487.6" y1="708.4" x2="491.6" y2="708.4" stroke="#000" stroke-width="1.1"/>
<text x="482" y="713.3" font-size="14" font-weight="normal" fill="#1a1a1a" text-anchor="end">0.45</text>
<line x1="487.6" y1="769.6" x2="491.6" y2="769.6" stroke="#000" stroke-width="1.1"/>
<text x="482" y="774.5" font-size="14" font-weight="normal" fill="#1a1a1a" text-anchor="end">0.3</text>
<line x1="487.6" y1="677.6" x2="491.6" y2="677.6" stroke="#000" stroke-width="1.1"/>
<text x="482" y="688" font-size="14" font-weight="normal" fill="#1a1a1a" text-anchor="end">S</text>
<text x="641.4" y="801.2" font-size="14" font-weight="normal" fill="#1a1a1a" text-anchor="middle">G</text>
<text x="591" y="821.4" font-size="16" font-weight="bold" fill="#111" text-anchor="middle">PhP<tspan font-size="10.5" dy="4">2</tspan></text>
<rect x="293.8" y="688.2" width="17.7" height="20.4" fill="#000080" stroke="#000" stroke-width="1.3"/>
<rect x="311.5" y="688.2" width="17.7" height="20.4" fill="#0066ff" stroke="#000" stroke-width="1.3"/>
<rect x="329.2" y="688.2" width="17.7" height="20.4" fill="#00ffff" stroke="#000" stroke-width="1.3"/>
<rect x="346.9" y="688.2" width="17.7" height="20.4" fill="#66ffff" stroke="#000" stroke-width="1.3"/>
<rect x="364.6" y="688.2" width="17.7" height="20.4" fill="#d8eef6" stroke="#000" stroke-width="1.3"/>
<text x="401.6" y="706.2" font-size="18" font-weight="bold" fill="#1F497D" text-anchor="start">Ph<tspan font-size="11.5" dy="4.4">1</tspan></text>
<rect x="293.8" y="720.8" width="17.7" height="20.4" fill="#1e4424" stroke="#000" stroke-width="1.3"/>
<rect x="311.5" y="720.8" width="17.7" height="20.4" fill="#008000" stroke="#000" stroke-width="1.3"/>
<rect x="329.2" y="720.8" width="17.7" height="20.4" fill="#00b060" stroke="#000" stroke-width="1.3"/>
<rect x="346.9" y="720.8" width="17.7" height="20.4" fill="#66f070" stroke="#000" stroke-width="1.3"/>
<rect x="364.6" y="720.8" width="17.7" height="20.4" fill="#dcffdc" stroke="#000" stroke-width="1.3"/>
<text x="401.6" y="738.6" font-size="18" font-weight="bold" fill="#1F497D" text-anchor="start">Ph<tspan font-size="11.5" dy="4.4">2</tspan></text>
<rect x="293.8" y="755" width="17.7" height="20.4" fill="#3a0024" stroke="#000" stroke-width="1.3"/>
<rect x="311.5" y="755" width="17.7" height="20.4" fill="#80400c" stroke="#000" stroke-width="1.3"/>
<rect x="329.2" y="755" width="17.7" height="20.4" fill="#ff8000" stroke="#000" stroke-width="1.3"/>
<rect x="346.9" y="755" width="17.7" height="20.4" fill="#ffff00" stroke="#000" stroke-width="1.3"/>
<rect x="364.6" y="755" width="17.7" height="20.4" fill="#ffffcc" stroke="#000" stroke-width="1.3"/>
<text x="401.6" y="772.4" font-size="18" font-weight="bold" fill="#1F497D" text-anchor="start">Ph<tspan font-size="11.5" dy="4.4">2</tspan><tspan font-size="18" dy="-4.4">’</tspan></text>
<rect x="330.6" y="789.8" width="17.2" height="20" fill="#808080" stroke="#4a4a4a" stroke-width="1.2"/>
<text x="339.2" y="804.2" font-size="10.5" font-weight="bold" fill="#fff" text-anchor="middle">AF</text>
</svg>
</body></html>
